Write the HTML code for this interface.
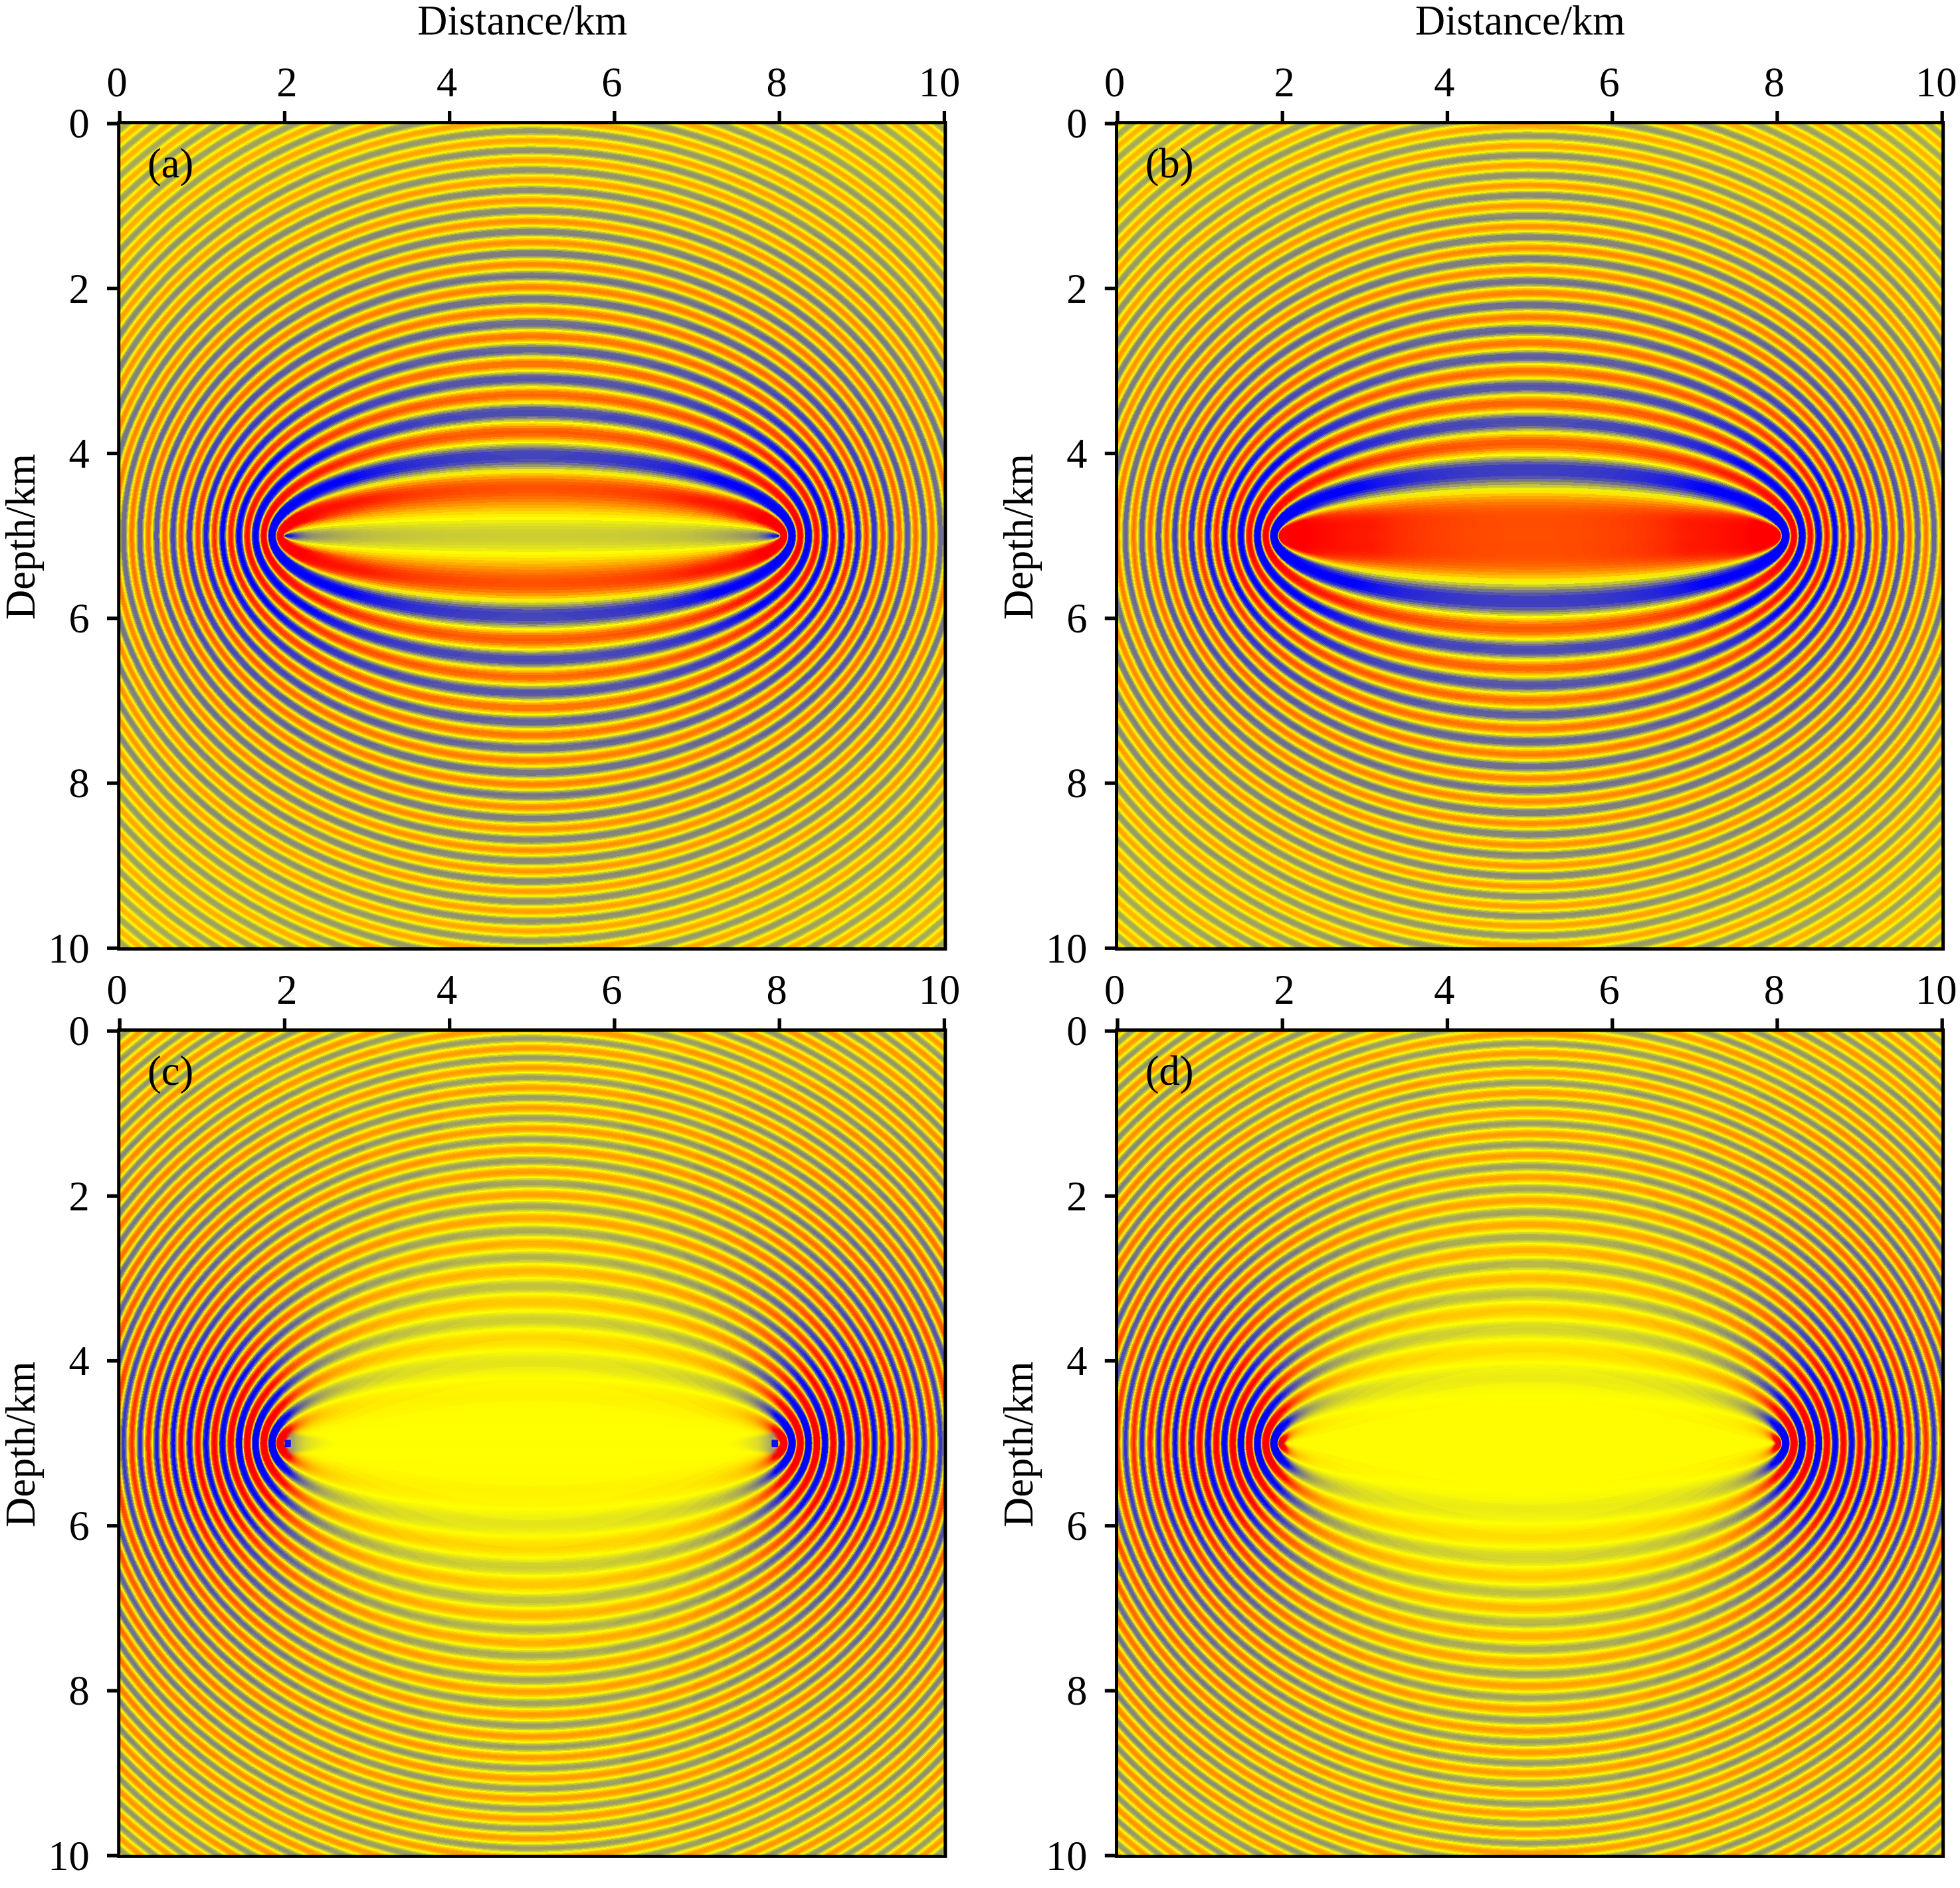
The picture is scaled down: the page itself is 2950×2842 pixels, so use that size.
<!DOCTYPE html>
<html><head><meta charset="utf-8"><title>Figure</title>
<style>html,body{margin:0;padding:0;background:#fff}svg{display:block}</style></head>
<body>
<svg width="2950" height="2842" viewBox="0 0 2950 2842">
<rect width="2950" height="2842" fill="#fff"/>
<defs>
<clipPath id="box"><rect width="10" height="10"/></clipPath>
<linearGradient id="wg1" gradientUnits="userSpaceOnUse" x1="2.05" y1="0" x2="2.62" y2="0"><stop offset="0" stop-color="#7878a0" stop-opacity=".8"/><stop offset=".35" stop-color="#b4b45a" stop-opacity=".5"/><stop offset="1" stop-color="#e0e020" stop-opacity="0"/></linearGradient>
<linearGradient id="wg2" gradientUnits="userSpaceOnUse" x1="7.95" y1="0" x2="7.38" y2="0"><stop offset="0" stop-color="#7878a0" stop-opacity=".8"/><stop offset=".35" stop-color="#b4b45a" stop-opacity=".5"/><stop offset="1" stop-color="#e0e020" stop-opacity="0"/></linearGradient>
<filter id="bm" filterUnits="userSpaceOnUse" x="1.9" y="4.7" width="6.2" height=".6"><feGaussianBlur stdDeviation=".02"/></filter>
<g id="sA0" shape-rendering="crispEdges"><ellipse rx="7.5" ry="6.8739" fill="#ffed00"/><ellipse rx="7.4987" ry="6.8725" fill="#ffce00"/><ellipse rx="7.492" ry="6.8651" fill="#ff9a00"/><ellipse rx="7.4845" ry="6.8569" fill="#ff6600"/><ellipse rx="7.4755" ry="6.8471" fill="#ff2700"/><ellipse rx="7.4432" ry="6.8119" fill="#ff4100"/><ellipse rx="7.431" ry="6.7985" fill="#ff7700"/><ellipse rx="7.4225" ry="6.7892" fill="#ffab00"/><ellipse rx="7.4152" ry="6.7813" fill="#ffe000"/><ellipse rx="7.4085" ry="6.7739" fill="#e9e916"/><ellipse rx="7.402" ry="6.7668" fill="#b5b54a"/><ellipse rx="7.3952" ry="6.7594" fill="#80807f"/><ellipse rx="7.3882" ry="6.7518" fill="#4d4db2"/><ellipse rx="7.3802" ry="6.743" fill="#1515ea"/><ellipse rx="7.3675" ry="6.729" fill="#0202fd"/><ellipse rx="7.3355" ry="6.694" fill="#2c2cd3"/><ellipse rx="7.326" ry="6.6836" fill="#61619e"/><ellipse rx="7.3185" ry="6.6754" fill="#94946b"/><ellipse rx="7.3117" ry="6.668" fill="#c8c837"/><ellipse rx="7.3052" ry="6.6608" fill="#fcfc03"/><ellipse rx="7.2987" ry="6.6537" fill="#ffce00"/><ellipse rx="7.292" ry="6.6463" fill="#ff9a00"/><ellipse rx="7.2845" ry="6.6381" fill="#ff6500"/><ellipse rx="7.2752" ry="6.6279" fill="#ff2700"/><ellipse rx="7.2432" ry="6.5928" fill="#ff4100"/><ellipse rx="7.231" ry="6.5793" fill="#ff7700"/><ellipse rx="7.2225" ry="6.57" fill="#ffab00"/><ellipse rx="7.2152" ry="6.562" fill="#ffe000"/><ellipse rx="7.2085" ry="6.5546" fill="#e9e916"/><ellipse rx="7.202" ry="6.5474" fill="#b5b54a"/><ellipse rx="7.1952" ry="6.54" fill="#80807f"/><ellipse rx="7.1882" ry="6.5323" fill="#4d4db2"/><ellipse rx="7.1802" ry="6.5235" fill="#1414eb"/><ellipse rx="7.167" ry="6.5089" fill="#0202fd"/><ellipse rx="7.135" ry="6.4737" fill="#2e2ed1"/><ellipse rx="7.1257" ry="6.4635" fill="#62629d"/><ellipse rx="7.1182" ry="6.4552" fill="#969669"/><ellipse rx="7.1115" ry="6.4477" fill="#caca35"/><ellipse rx="7.105" ry="6.4406" fill="#fefe01"/><ellipse rx="7.0985" ry="6.4334" fill="#ffcd00"/><ellipse rx="7.0917" ry="6.426" fill="#ff9900"/><ellipse rx="7.0842" ry="6.4177" fill="#ff6400"/><ellipse rx="7.075" ry="6.4075" fill="#ff2600"/><ellipse rx="7.0432" ry="6.3724" fill="#ff4100"/><ellipse rx="7.031" ry="6.3588" fill="#ff7700"/><ellipse rx="7.0225" ry="6.3494" fill="#ffab00"/><ellipse rx="7.0152" ry="6.3414" fill="#ffe000"/><ellipse rx="7.0085" ry="6.334" fill="#e9e916"/><ellipse rx="7.002" ry="6.3268" fill="#b5b54a"/><ellipse rx="6.9952" ry="6.3193" fill="#80807f"/><ellipse rx="6.9882" ry="6.3115" fill="#4d4db2"/><ellipse rx="6.9802" ry="6.3027" fill="#1313ec"/><ellipse rx="6.9665" ry="6.2875" fill="#0202fd"/><ellipse rx="6.9347" ry="6.2523" fill="#3030cf"/><ellipse rx="6.9255" ry="6.242" fill="#64649b"/><ellipse rx="6.918" ry="6.2337" fill="#989867"/><ellipse rx="6.9112" ry="6.2262" fill="#cccc33"/><ellipse rx="6.9047" ry="6.219" fill="#fffe00"/><ellipse rx="6.8982" ry="6.2118" fill="#ffcb00"/><ellipse rx="6.8915" ry="6.2043" fill="#ff9700"/><ellipse rx="6.884" ry="6.1959" fill="#ff6300"/><ellipse rx="6.8747" ry="6.1856" fill="#ff2600"/><ellipse rx="6.8432" ry="6.1506" fill="#ff4100"/><ellipse rx="6.831" ry="6.137" fill="#ff7700"/><ellipse rx="6.8225" ry="6.1275" fill="#ffab00"/><ellipse rx="6.8152" ry="6.1194" fill="#ffe000"/><ellipse rx="6.8085" ry="6.1119" fill="#e9e916"/><ellipse rx="6.802" ry="6.1047" fill="#b5b54a"/><ellipse rx="6.7952" ry="6.0972" fill="#80807f"/><ellipse rx="6.7882" ry="6.0894" fill="#4d4db2"/><ellipse rx="6.7802" ry="6.0804" fill="#1313ec"/><ellipse rx="6.766" ry="6.0645" fill="#0202fd"/><ellipse rx="6.7345" ry="6.0294" fill="#3131ce"/><ellipse rx="6.7252" ry="6.0191" fill="#666699"/><ellipse rx="6.7177" ry="6.0107" fill="#9a9a65"/><ellipse rx="6.711" ry="6.0031" fill="#cece31"/><ellipse rx="6.7045" ry="5.9959" fill="#fffc00"/><ellipse rx="6.698" ry="5.9886" fill="#ffc900"/><ellipse rx="6.6912" ry="5.981" fill="#ff9500"/><ellipse rx="6.6837" ry="5.9726" fill="#ff6100"/><ellipse rx="6.6745" ry="5.9623" fill="#ff2600"/><ellipse rx="6.6432" ry="5.9273" fill="#ff4100"/><ellipse rx="6.631" ry="5.9136" fill="#ff7700"/><ellipse rx="6.6225" ry="5.904" fill="#ffab00"/><ellipse rx="6.6152" ry="5.8959" fill="#ffe000"/><ellipse rx="6.6085" ry="5.8883" fill="#e9e916"/><ellipse rx="6.602" ry="5.881" fill="#b5b54a"/><ellipse rx="6.5952" ry="5.8734" fill="#80807f"/><ellipse rx="6.5882" ry="5.8656" fill="#4d4db2"/><ellipse rx="6.5802" ry="5.8566" fill="#1212ed"/><ellipse rx="6.5657" ry="5.8403" fill="#0202fd"/><ellipse rx="6.5345" ry="5.8051" fill="#3131ce"/><ellipse rx="6.5252" ry="5.7947" fill="#666699"/><ellipse rx="6.5177" ry="5.7863" fill="#9a9a65"/><ellipse rx="6.511" ry="5.7787" fill="#cece31"/><ellipse rx="6.5045" ry="5.7714" fill="#fffc00"/><ellipse rx="6.498" ry="5.764" fill="#ffc900"/><ellipse rx="6.4912" ry="5.7564" fill="#ff9500"/><ellipse rx="6.4837" ry="5.748" fill="#ff6100"/><ellipse rx="6.4742" ry="5.7372" fill="#ff2600"/><ellipse rx="6.4432" ry="5.7022" fill="#ff4100"/><ellipse rx="6.431" ry="5.6884" fill="#ff7700"/><ellipse rx="6.4225" ry="5.6788" fill="#ffab00"/><ellipse rx="6.4152" ry="5.6706" fill="#ffe000"/><ellipse rx="6.4085" ry="5.6629" fill="#e9e916"/><ellipse rx="6.402" ry="5.6556" fill="#b5b54a"/><ellipse rx="6.3952" ry="5.6479" fill="#80807f"/><ellipse rx="6.3882" ry="5.64" fill="#4d4db2"/><ellipse rx="6.3802" ry="5.6309" fill="#1212ed"/><ellipse rx="6.365" ry="5.6137" fill="#0303fc"/><ellipse rx="6.334" ry="5.5785" fill="#3333cc"/><ellipse rx="6.325" ry="5.5683" fill="#686897"/><ellipse rx="6.3175" ry="5.5597" fill="#9c9c63"/><ellipse rx="6.3107" ry="5.5521" fill="#d0d02f"/><ellipse rx="6.3042" ry="5.5447" fill="#fffa00"/><ellipse rx="6.2977" ry="5.5373" fill="#ffc700"/><ellipse rx="6.291" ry="5.5296" fill="#ff9300"/><ellipse rx="6.2835" ry="5.5211" fill="#ff5f00"/><ellipse rx="6.274" ry="5.5103" fill="#ff2500"/><ellipse rx="6.2432" ry="5.4752" fill="#ff4100"/><ellipse rx="6.231" ry="5.4613" fill="#ff7700"/><ellipse rx="6.2225" ry="5.4516" fill="#ffab00"/><ellipse rx="6.2152" ry="5.4433" fill="#ffe000"/><ellipse rx="6.2085" ry="5.4356" fill="#e9e916"/><ellipse rx="6.202" ry="5.4281" fill="#b5b54a"/><ellipse rx="6.1952" ry="5.4204" fill="#80807f"/><ellipse rx="6.1882" ry="5.4124" fill="#4d4db2"/><ellipse rx="6.1802" ry="5.4033" fill="#1111ee"/><ellipse rx="6.1647" ry="5.3855" fill="#0303fc"/><ellipse rx="6.134" ry="5.3503" fill="#3333cc"/><ellipse rx="6.125" ry="5.34" fill="#686897"/><ellipse rx="6.1175" ry="5.3314" fill="#9c9c63"/><ellipse rx="6.1107" ry="5.3237" fill="#d0d02f"/><ellipse rx="6.1042" ry="5.3162" fill="#fffa00"/><ellipse rx="6.0977" ry="5.3087" fill="#ffc700"/><ellipse rx="6.091" ry="5.301" fill="#ff9300"/><ellipse rx="6.0832" ry="5.2921" fill="#ff5e00"/><ellipse rx="6.0737" ry="5.2811" fill="#ff2500"/><ellipse rx="6.0432" ry="5.246" fill="#ff4100"/><ellipse rx="6.031" ry="5.2319" fill="#ff7700"/><ellipse rx="6.0225" ry="5.2221" fill="#ffab00"/><ellipse rx="6.0152" ry="5.2138" fill="#ffe000"/><ellipse rx="6.0085" ry="5.206" fill="#e9e916"/><ellipse rx="6.002" ry="5.1985" fill="#b5b54a"/><ellipse rx="5.9952" ry="5.1907" fill="#80807f"/><ellipse rx="5.9882" ry="5.1826" fill="#4d4db2"/><ellipse rx="5.9802" ry="5.1733" fill="#1111ee"/><ellipse rx="5.9642" ry="5.1548" fill="#0303fc"/><ellipse rx="5.934" ry="5.1198" fill="#3333cc"/><ellipse rx="5.925" ry="5.1094" fill="#686897"/><ellipse rx="5.9175" ry="5.1007" fill="#9c9c63"/><ellipse rx="5.9107" ry="5.0928" fill="#d0d02f"/><ellipse rx="5.9042" ry="5.0853" fill="#fffa00"/><ellipse rx="5.8977" ry="5.0777" fill="#ffc700"/><ellipse rx="5.891" ry="5.0699" fill="#ff9300"/><ellipse rx="5.8832" ry="5.0609" fill="#ff5d00"/><ellipse rx="5.8735" ry="5.0496" fill="#ff2500"/><ellipse rx="5.8432" ry="5.0143" fill="#ff4100"/><ellipse rx="5.831" ry="5.0001" fill="#ff7700"/><ellipse rx="5.8225" ry="4.9901" fill="#ffab00"/><ellipse rx="5.8152" ry="4.9817" fill="#ffe000"/><ellipse rx="5.8085" ry="4.9738" fill="#e9e916"/><ellipse rx="5.802" ry="4.9662" fill="#b5b54a"/><ellipse rx="5.7952" ry="4.9583" fill="#80807f"/><ellipse rx="5.7882" ry="4.9501" fill="#4d4db2"/><ellipse rx="5.7802" ry="4.9408" fill="#1010ef"/><ellipse rx="5.7637" ry="4.9215" fill="#0303fc"/><ellipse rx="5.7337" ry="4.8863" fill="#3535ca"/><ellipse rx="5.7247" ry="4.8757" fill="#696996"/><ellipse rx="5.7172" ry="4.8669" fill="#9e9e61"/><ellipse rx="5.7105" ry="4.859" fill="#d2d22d"/><ellipse rx="5.704" ry="4.8514" fill="#fff800"/><ellipse rx="5.6975" ry="4.8437" fill="#ffc400"/><ellipse rx="5.6905" ry="4.8355" fill="#ff8f00"/><ellipse rx="5.6827" ry="4.8263" fill="#ff5b00"/><ellipse rx="5.673" ry="4.8149" fill="#ff2400"/><ellipse rx="5.6432" ry="4.7798" fill="#ff4100"/><ellipse rx="5.631" ry="4.7653" fill="#ff7700"/><ellipse rx="5.6225" ry="4.7553" fill="#ffab00"/><ellipse rx="5.6152" ry="4.7467" fill="#ffe000"/><ellipse rx="5.6085" ry="4.7387" fill="#e9e916"/><ellipse rx="5.602" ry="4.731" fill="#b5b54a"/><ellipse rx="5.5952" ry="4.723" fill="#80807f"/><ellipse rx="5.5882" ry="4.7147" fill="#4d4db2"/><ellipse rx="5.5802" ry="4.7052" fill="#1010ef"/><ellipse rx="5.563" ry="4.6848" fill="#0303fc"/><ellipse rx="5.5335" ry="4.6497" fill="#3636c9"/><ellipse rx="5.5245" ry="4.639" fill="#6b6b94"/><ellipse rx="5.517" ry="4.63" fill="#a0a05f"/><ellipse rx="5.5102" ry="4.622" fill="#d4d42b"/><ellipse rx="5.5037" ry="4.6142" fill="#fff600"/><ellipse rx="5.4972" ry="4.6065" fill="#ffc200"/><ellipse rx="5.4902" ry="4.5981" fill="#ff8e00"/><ellipse rx="5.4825" ry="4.5889" fill="#ff5900"/><ellipse rx="5.4725" ry="4.5769" fill="#ff2400"/><ellipse rx="5.4432" ry="4.5419" fill="#ff4100"/><ellipse rx="5.431" ry="4.5272" fill="#ff7700"/><ellipse rx="5.4225" ry="4.517" fill="#ffab00"/><ellipse rx="5.4152" ry="4.5083" fill="#ffe000"/><ellipse rx="5.4085" ry="4.5002" fill="#e9e916"/><ellipse rx="5.402" ry="4.4924" fill="#b5b54a"/><ellipse rx="5.3952" ry="4.4843" fill="#80807f"/><ellipse rx="5.3882" ry="4.4759" fill="#4d4db2"/><ellipse rx="5.3802" ry="4.4662" fill="#0e0ef1"/><ellipse rx="5.3615" ry="4.4436" fill="#0505fa"/><ellipse rx="5.3325" ry="4.4086" fill="#3b3bc4"/><ellipse rx="5.3237" ry="4.398" fill="#70708f"/><ellipse rx="5.3165" ry="4.3892" fill="#a4a45b"/><ellipse rx="5.3097" ry="4.381" fill="#d8d827"/><ellipse rx="5.3032" ry="4.3732" fill="#fff200"/><ellipse rx="5.2967" ry="4.3653" fill="#ffbe00"/><ellipse rx="5.2897" ry="4.3568" fill="#ff8a00"/><ellipse rx="5.282" ry="4.3474" fill="#ff5600"/><ellipse rx="5.272" ry="4.3352" fill="#ff2300"/><ellipse rx="5.2432" ry="4.3002" fill="#ff4100"/><ellipse rx="5.231" ry="4.2852" fill="#ff7700"/><ellipse rx="5.2225" ry="4.2749" fill="#ffab00"/><ellipse rx="5.2152" ry="4.266" fill="#ffe000"/><ellipse rx="5.2085" ry="4.2578" fill="#e9e916"/><ellipse rx="5.202" ry="4.2498" fill="#b5b54a"/><ellipse rx="5.1952" ry="4.2415" fill="#80807f"/><ellipse rx="5.1882" ry="4.233" fill="#4d4db2"/><ellipse rx="5.1802" ry="4.2231" fill="#0e0ef1"/><ellipse rx="5.1607" ry="4.1992" fill="#0505fa"/><ellipse rx="5.1322" ry="4.1641" fill="#3d3dc2"/><ellipse rx="5.1235" ry="4.1533" fill="#71718e"/><ellipse rx="5.1162" ry="4.1444" fill="#a5a55a"/><ellipse rx="5.1095" ry="4.1361" fill="#dada25"/><ellipse rx="5.103" ry="4.128" fill="#fff000"/><ellipse rx="5.0965" ry="4.12" fill="#ffbd00"/><ellipse rx="5.0895" ry="4.1113" fill="#ff8900"/><ellipse rx="5.0817" ry="4.1017" fill="#ff5400"/><ellipse rx="5.0715" ry="4.089" fill="#ff2300"/><ellipse rx="5.0432" ry="4.0539" fill="#ff4100"/><ellipse rx="5.031" ry="4.0387" fill="#ff7700"/><ellipse rx="5.0225" ry="4.0281" fill="#ffab00"/><ellipse rx="5.0152" ry="4.019" fill="#ffe000"/><ellipse rx="5.0085" ry="4.0106" fill="#e9e916"/><ellipse rx="5.002" ry="4.0025" fill="#b5b54a"/><ellipse rx="4.9952" ry="3.9941" fill="#80807f"/><ellipse rx="4.9882" ry="3.9853" fill="#4d4db2"/><ellipse rx="4.9802" ry="3.9753" fill="#0d0df2"/><ellipse rx="4.9602" ry="3.9502" fill="#0505fa"/><ellipse rx="4.9322" ry="3.915" fill="#3d3dc2"/><ellipse rx="4.9235" ry="3.904" fill="#71718e"/><ellipse rx="4.9162" ry="3.8948" fill="#a5a55a"/><ellipse rx="4.9095" ry="3.8863" fill="#dada25"/><ellipse rx="4.903" ry="3.8781" fill="#fff000"/><ellipse rx="4.8965" ry="3.8698" fill="#ffbd00"/><ellipse rx="4.8895" ry="3.861" fill="#ff8800"/><ellipse rx="4.8815" ry="3.8508" fill="#ff5200"/><ellipse rx="4.871" ry="3.8375" fill="#ff2200"/><ellipse rx="4.8432" ry="3.8022" fill="#ff4100"/><ellipse rx="4.831" ry="3.7866" fill="#ff7700"/><ellipse rx="4.8225" ry="3.7758" fill="#ffab00"/><ellipse rx="4.8152" ry="3.7665" fill="#ffe000"/><ellipse rx="4.8085" ry="3.7579" fill="#e9e916"/><ellipse rx="4.802" ry="3.7496" fill="#b5b54a"/><ellipse rx="4.7952" ry="3.7409" fill="#80807f"/><ellipse rx="4.7882" ry="3.7319" fill="#4d4db2"/><ellipse rx="4.7802" ry="3.7217" fill="#0c0cf3"/><ellipse rx="4.7587" ry="3.694" fill="#0606f9"/><ellipse rx="4.7315" ry="3.6588" fill="#4141be"/><ellipse rx="4.723" ry="3.6478" fill="#75758a"/><ellipse rx="4.7157" ry="3.6384" fill="#a9a956"/><ellipse rx="4.709" ry="3.6297" fill="#dede21"/><ellipse rx="4.7025" ry="3.6213" fill="#ffed00"/><ellipse rx="4.696" ry="3.6128" fill="#ffb900"/><ellipse rx="4.689" ry="3.6037" fill="#ff8400"/><ellipse rx="4.681" ry="3.5933" fill="#ff4f00"/><ellipse rx="4.6702" ry="3.5793" fill="#ff2200"/><ellipse rx="4.6432" ry="3.544" fill="#ff4100"/><ellipse rx="4.631" ry="3.5279" fill="#ff7700"/><ellipse rx="4.6225" ry="3.5167" fill="#ffab00"/><ellipse rx="4.6152" ry="3.5072" fill="#ffe000"/><ellipse rx="4.6085" ry="3.4983" fill="#e9e916"/><ellipse rx="4.602" ry="3.4898" fill="#b5b54a"/><ellipse rx="4.5952" ry="3.4809" fill="#80807f"/><ellipse rx="4.5882" ry="3.4716" fill="#4d4db2"/><ellipse rx="4.5802" ry="3.461" fill="#0c0cf3"/><ellipse rx="4.5575" ry="3.4309" fill="#0707f8"/><ellipse rx="4.531" ry="3.3956" fill="#4444bb"/><ellipse rx="4.5225" ry="3.3842" fill="#787887"/><ellipse rx="4.5152" ry="3.3745" fill="#adad52"/><ellipse rx="4.5085" ry="3.3655" fill="#e2e21d"/><ellipse rx="4.502" ry="3.3568" fill="#ffe800"/><ellipse rx="4.4952" ry="3.3477" fill="#ffb300"/><ellipse rx="4.4882" ry="3.3383" fill="#ff8000"/><ellipse rx="4.4802" ry="3.3276" fill="#ff4b00"/><ellipse rx="4.4692" ry="3.3127" fill="#ff2100"/><ellipse rx="4.4432" ry="3.2776" fill="#ff4100"/><ellipse rx="4.431" ry="3.2609" fill="#ff7700"/><ellipse rx="4.4225" ry="3.2494" fill="#ffab00"/><ellipse rx="4.4152" ry="3.2395" fill="#ffe000"/><ellipse rx="4.4085" ry="3.2303" fill="#e9e916"/><ellipse rx="4.402" ry="3.2214" fill="#b5b54a"/><ellipse rx="4.3952" ry="3.2122" fill="#80807f"/><ellipse rx="4.3882" ry="3.2026" fill="#4d4db2"/><ellipse rx="4.3802" ry="3.1916" fill="#1111ee"/><ellipse rx="4.3642" ry="3.1696" fill="#0000ff"/><ellipse rx="4.3387" ry="3.1344" fill="#1e1ee1"/><ellipse rx="4.3282" ry="3.1199" fill="#5353ac"/><ellipse rx="4.3202" ry="3.1088" fill="#888877"/><ellipse rx="4.3132" ry="3.0991" fill="#bcbc43"/><ellipse rx="4.3067" ry="3.09" fill="#f0f00f"/><ellipse rx="4.3002" ry="3.0809" fill="#ffda00"/><ellipse rx="4.2935" ry="3.0715" fill="#ffa600"/><ellipse rx="4.2862" ry="3.0614" fill="#ff7200"/><ellipse rx="4.2777" ry="3.0494" fill="#ff3c00"/><ellipse rx="4.2647" ry="3.0312" fill="#ff2100"/><ellipse rx="4.2397" ry="2.9959" fill="#ff4d00"/><ellipse rx="4.229" ry="2.9807" fill="#ff8200"/><ellipse rx="4.221" ry="2.9693" fill="#ffb500"/><ellipse rx="4.214" ry="2.9594" fill="#ffe900"/><ellipse rx="4.2075" ry="2.9501" fill="#e1e11e"/><ellipse rx="4.201" ry="2.9408" fill="#adad52"/><ellipse rx="4.1942" ry="2.9312" fill="#787887"/><ellipse rx="4.187" ry="2.9208" fill="#4343bc"/><ellipse rx="4.1785" ry="2.9086" fill="#0808f7"/><ellipse rx="4.154" ry="2.8733" fill="#0a0af5"/><ellipse rx="4.1297" ry="2.8381" fill="#4b4bb4"/><ellipse rx="4.1215" ry="2.8261" fill="#7f7f80"/><ellipse rx="4.1145" ry="2.8159" fill="#b3b34c"/><ellipse rx="4.1077" ry="2.806" fill="#e8e817"/><ellipse rx="4.1012" ry="2.7965" fill="#ffe200"/><ellipse rx="4.0945" ry="2.7866" fill="#ffad00"/><ellipse rx="4.0872" ry="2.7759" fill="#ff7900"/><ellipse rx="4.079" ry="2.7637" fill="#ff4300"/><ellipse rx="4.067" ry="2.746" fill="#ff2000"/><ellipse rx="4.0432" ry="2.7107" fill="#ff4100"/><ellipse rx="4.031" ry="2.6924" fill="#ff7700"/><ellipse rx="4.0225" ry="2.6796" fill="#ffab00"/><ellipse rx="4.0152" ry="2.6688" fill="#ffe000"/><ellipse rx="4.0085" ry="2.6586" fill="#e9e916"/><ellipse rx="4.002" ry="2.6488" fill="#b5b54a"/><ellipse rx="3.9952" ry="2.6386" fill="#80807f"/><ellipse rx="3.9882" ry="2.628" fill="#4d4db2"/><ellipse rx="3.9802" ry="2.6158" fill="#0d0df2"/><ellipse rx="3.9602" ry="2.5853" fill="#0101fe"/><ellipse rx="3.9372" ry="2.5499" fill="#2525da"/><ellipse rx="3.9272" ry="2.5344" fill="#5959a6"/><ellipse rx="3.9195" ry="2.5224" fill="#8e8e71"/><ellipse rx="3.9125" ry="2.5115" fill="#c2c23d"/><ellipse rx="3.906" ry="2.5014" fill="#f6f609"/><ellipse rx="3.8995" ry="2.4912" fill="#ffd400"/><ellipse rx="3.8927" ry="2.4806" fill="#ffa000"/><ellipse rx="3.8852" ry="2.4688" fill="#ff6a00"/><ellipse rx="3.8762" ry="2.4547" fill="#ff3300"/><ellipse rx="3.8607" ry="2.4301" fill="#ff2200"/><ellipse rx="3.8387" ry="2.395" fill="#ff5100"/><ellipse rx="3.8282" ry="2.3781" fill="#ff8600"/><ellipse rx="3.8202" ry="2.3652" fill="#ffbb00"/><ellipse rx="3.8132" ry="2.3539" fill="#ffef00"/><ellipse rx="3.8067" ry="2.3434" fill="#dbdb24"/><ellipse rx="3.8002" ry="2.3328" fill="#a7a758"/><ellipse rx="3.7935" ry="2.3218" fill="#73738c"/><ellipse rx="3.7862" ry="2.3099" fill="#3f3fc0"/><ellipse rx="3.7777" ry="2.296" fill="#0707f8"/><ellipse rx="3.7565" ry="2.2608" fill="#0202fd"/><ellipse rx="3.7355" ry="2.2257" fill="#2c2cd3"/><ellipse rx="3.726" ry="2.2098" fill="#61619e"/><ellipse rx="3.7185" ry="2.1971" fill="#94946b"/><ellipse rx="3.7117" ry="2.1857" fill="#c8c837"/><ellipse rx="3.7052" ry="2.1746" fill="#fcfc03"/><ellipse rx="3.6987" ry="2.1635" fill="#ffce00"/><ellipse rx="3.692" ry="2.1519" fill="#ff9a00"/><ellipse rx="3.6845" ry="2.1391" fill="#ff6500"/><ellipse rx="3.6752" ry="2.1231" fill="#ff2b00"/><ellipse rx="3.655" ry="2.0878" fill="#ff2a00"/><ellipse rx="3.635" ry="2.0526" fill="#ff6100"/><ellipse rx="3.6257" ry="2.0362" fill="#ff9500"/><ellipse rx="3.6182" ry="2.0228" fill="#ffc900"/><ellipse rx="3.6115" ry="2.0107" fill="#fffd00"/><ellipse rx="3.605" ry="1.999" fill="#cdcd32"/><ellipse rx="3.5985" ry="1.9873" fill="#9a9a65"/><ellipse rx="3.5917" ry="1.975" fill="#666699"/><ellipse rx="3.5842" ry="1.9613" fill="#3131ce"/><ellipse rx="3.575" ry="1.9444" fill="#0404fb"/><ellipse rx="3.556" ry="1.9092" fill="#0101fe"/><ellipse rx="3.5372" ry="1.8741" fill="#2525da"/><ellipse rx="3.5272" ry="1.8551" fill="#5959a6"/><ellipse rx="3.5195" ry="1.8403" fill="#8e8e71"/><ellipse rx="3.5125" ry="1.8269" fill="#c2c23d"/><ellipse rx="3.506" ry="1.8144" fill="#f6f609"/><ellipse rx="3.4995" ry="1.8018" fill="#ffd400"/><ellipse rx="3.4927" ry="1.7887" fill="#ffa000"/><ellipse rx="3.4852" ry="1.774" fill="#ff6a00"/><ellipse rx="3.4762" ry="1.7562" fill="#ff3300"/><ellipse rx="3.4607" ry="1.7253" fill="#ff1e00"/><ellipse rx="3.4432" ry="1.69" fill="#ff4100"/><ellipse rx="3.431" ry="1.6649" fill="#ff7700"/><ellipse rx="3.4225" ry="1.6473" fill="#ffab00"/><ellipse rx="3.4152" ry="1.6322" fill="#ffe000"/><ellipse rx="3.4085" ry="1.618" fill="#e9e916"/><ellipse rx="3.402" ry="1.6042" fill="#b5b54a"/><ellipse rx="3.3952" ry="1.5899" fill="#80807f"/><ellipse rx="3.3882" ry="1.5749" fill="#4d4db2"/><ellipse rx="3.3802" ry="1.5576" fill="#1313ec"/><ellipse rx="3.3662" ry="1.527" fill="#0000ff"/><ellipse rx="3.3505" ry="1.4919" fill="#0404fb"/><ellipse rx="3.335" ry="1.4568" fill="#2e2ed1"/><ellipse rx="3.3257" ry="1.4355" fill="#62629d"/><ellipse rx="3.3182" ry="1.418" fill="#969669"/><ellipse rx="3.3115" ry="1.4022" fill="#caca35"/><ellipse rx="3.305" ry="1.3867" fill="#fefe01"/><ellipse rx="3.2985" ry="1.3712" fill="#ffcd00"/><ellipse rx="3.2917" ry="1.3548" fill="#ff9900"/><ellipse rx="3.2842" ry="1.3365" fill="#ff6400"/><ellipse rx="3.275" ry="1.3136" fill="#ff3100"/><ellipse rx="3.261" ry="1.2783" fill="#ff1c00"/><ellipse rx="3.2472" ry="1.2428" fill="#ff3400"/><ellipse rx="3.234" ry="1.2078" fill="#ff6600"/><ellipse rx="3.225" ry="1.1835" fill="#ff9b00"/><ellipse rx="3.2175" ry="1.1629" fill="#ffcf00"/><ellipse rx="3.2107" ry="1.1441" fill="#fbfb04"/><ellipse rx="3.2042" ry="1.1257" fill="#c7c738"/><ellipse rx="3.1977" ry="1.1071" fill="#94946b"/><ellipse rx="3.191" ry="1.0874" fill="#60609f"/><ellipse rx="3.1832" ry="1.0645" fill="#2b2bd4"/><ellipse rx="3.1737" ry="1.0357" fill="#0404fb"/><ellipse rx="3.1625" ry="1.0007" fill="#0000ff"/><ellipse rx="3.1515" ry=".9654" fill="#0000ff"/><ellipse rx="3.1407" ry=".9297" fill="#1414eb"/><ellipse rx="3.1305" ry=".8944" fill="#4646b9"/><ellipse rx="3.1222" ry=".8651" fill="#7a7a85"/><ellipse rx="3.115" ry=".8386" fill="#afaf50"/><ellipse rx="3.1082" ry=".8132" fill="#e4e41b"/><ellipse rx="3.1017" ry=".7879" fill="#ffe600"/><ellipse rx="3.095" ry=".7609" fill="#ffb100"/><ellipse rx="3.088" ry=".7319" fill="#ff7d00"/><ellipse rx="3.0797" ry=".6963" fill="#ff5000"/><ellipse rx="3.072" ry=".6612" fill="#ff3100"/><ellipse rx="3.0645" ry=".6254" fill="#ff1f00"/><ellipse rx="3.0575" ry=".5902" fill="#ff1a00"/><ellipse rx="3.0507" ry=".5541" fill="#ff2000"/><ellipse rx="3.0445" ry=".5186" fill="#ff3000"/><ellipse rx="3.0385" ry=".4822" fill="#ff4600"/><ellipse rx="3.033" ry=".4462" fill="#ff6000"/><ellipse rx="3.028" ry=".4108" fill="#ff7d00"/><ellipse rx="3.0232" ry=".3742" fill="#ff9b00"/><ellipse rx="3.019" ry=".3382" fill="#ffb800"/><ellipse rx="3.0152" ry=".3029" fill="#ffd400"/><ellipse rx="3.0117" ry=".2658" fill="#ffed00"/><ellipse rx="3.0087" ry=".2293" fill="#fbfb04"/><ellipse rx="3.0062" ry=".1937" fill="#e8e817"/><ellipse rx="3.004" ry=".155" fill="#d8d827"/><ellipse rx="3.0022" ry=".1162" fill="#cccc33"/><ellipse rx="3.001" ry=".0775" fill="#c4c43b"/><ellipse rx="3.0002" ry=".0387" fill="#c0c03f"/></g>
<g id="sA1" shape-rendering="crispEdges"><ellipse rx="4.5002" ry="3.3544" fill="#ffdf00"/><ellipse rx="4.4985" ry="3.3521" fill="#ffb900"/><ellipse rx="4.4947" ry="3.3471" fill="#ff8400"/><ellipse rx="4.4907" ry="3.3417" fill="#ff4e00"/><ellipse rx="4.4865" ry="3.336" fill="#ff0c00"/><ellipse rx="4.4765" ry="3.3225" fill="#ff0000"/><ellipse rx="4.4505" ry="3.2874" fill="#ff0200"/><ellipse rx="4.4245" ry="3.2521" fill="#ff3c00"/><ellipse rx="4.4202" ry="3.2463" fill="#ff7000"/><ellipse rx="4.4162" ry="3.2409" fill="#ffa500"/><ellipse rx="4.4125" ry="3.2358" fill="#ffd900"/><ellipse rx="4.4087" ry="3.2306" fill="#efef10"/><ellipse rx="4.405" ry="3.2255" fill="#b9b946"/><ellipse rx="4.4012" ry="3.2204" fill="#84847b"/><ellipse rx="4.3975" ry="3.2153" fill="#4f4fb0"/><ellipse rx="4.3937" ry="3.2101" fill="#0404fb"/><ellipse rx="4.368" ry="3.1748" fill="#0000ff"/><ellipse rx="4.3425" ry="3.1396" fill="#0202fd"/><ellipse rx="4.3172" ry="3.1046" fill="#3b3bc4"/><ellipse rx="4.3135" ry="3.0994" fill="#6f6f90"/><ellipse rx="4.3097" ry="3.0942" fill="#a4a45b"/><ellipse rx="4.306" ry="3.089" fill="#dada25"/><ellipse rx="4.3022" ry="3.0837" fill="#ffee00"/><ellipse rx="4.2985" ry="3.0785" fill="#ffb900"/><ellipse rx="4.2947" ry="3.0733" fill="#ff8400"/><ellipse rx="4.2907" ry="3.0677" fill="#ff4e00"/><ellipse rx="4.2865" ry="3.0617" fill="#ff0a00"/><ellipse rx="4.2747" ry="3.0452" fill="#ff0000"/><ellipse rx="4.2497" ry="3.01" fill="#ff0200"/><ellipse rx="4.225" ry="2.975" fill="#ff3600"/><ellipse rx="4.2207" ry="2.969" fill="#ff6a00"/><ellipse rx="4.2167" ry="2.9633" fill="#ff9e00"/><ellipse rx="4.213" ry="2.9579" fill="#ffd200"/><ellipse rx="4.2092" ry="2.9526" fill="#f7f708"/><ellipse rx="4.2055" ry="2.9472" fill="#c1c13e"/><ellipse rx="4.2017" ry="2.9419" fill="#8b8b74"/><ellipse rx="4.198" ry="2.9365" fill="#5656a9"/><ellipse rx="4.1942" ry="2.9312" fill="#2121de"/><ellipse rx="4.1902" ry="2.9254" fill="#0000ff"/><ellipse rx="4.1657" ry="2.8902" fill="#0000ff"/><ellipse rx="4.1415" ry="2.8552" fill="#0202fd"/><ellipse rx="4.1172" ry="2.8199" fill="#3b3bc4"/><ellipse rx="4.1135" ry="2.8144" fill="#6f6f90"/><ellipse rx="4.1097" ry="2.8089" fill="#a4a45b"/><ellipse rx="4.106" ry="2.8034" fill="#dada25"/><ellipse rx="4.1022" ry="2.7979" fill="#ffee00"/><ellipse rx="4.0985" ry="2.7924" fill="#ffb900"/><ellipse rx="4.0947" ry="2.7869" fill="#ff8400"/><ellipse rx="4.0907" ry="2.781" fill="#ff4e00"/><ellipse rx="4.0865" ry="2.7748" fill="#ff0800"/><ellipse rx="4.0717" ry="2.753" fill="#ff0000"/><ellipse rx="4.048" ry="2.7178" fill="#ff0200"/><ellipse rx="4.0245" ry="2.6826" fill="#ff3c00"/><ellipse rx="4.0202" ry="2.6763" fill="#ff7000"/><ellipse rx="4.0162" ry="2.6703" fill="#ffa500"/><ellipse rx="4.0125" ry="2.6646" fill="#ffd900"/><ellipse rx="4.0087" ry="2.659" fill="#efef10"/><ellipse rx="4.005" ry="2.6533" fill="#b9b946"/><ellipse rx="4.0012" ry="2.6476" fill="#84847b"/><ellipse rx="3.9975" ry="2.642" fill="#4f4fb0"/><ellipse rx="3.9937" ry="2.6363" fill="#0e0ef1"/><ellipse rx="3.986" ry="2.6245" fill="#0000ff"/><ellipse rx="3.963" ry="2.5895" fill="#0000ff"/><ellipse rx="3.94" ry="2.5541" fill="#0202fd"/><ellipse rx="3.9172" ry="2.5189" fill="#3b3bc4"/><ellipse rx="3.9135" ry="2.5131" fill="#6f6f90"/><ellipse rx="3.9097" ry="2.5072" fill="#a4a45b"/><ellipse rx="3.906" ry="2.5014" fill="#dada25"/><ellipse rx="3.9022" ry="2.4955" fill="#ffee00"/><ellipse rx="3.8985" ry="2.4896" fill="#ffb900"/><ellipse rx="3.8947" ry="2.4838" fill="#ff8400"/><ellipse rx="3.8907" ry="2.4775" fill="#ff4e00"/><ellipse rx="3.8865" ry="2.4708" fill="#ff0700"/><ellipse rx="3.8687" ry="2.4428" fill="#ff0000"/><ellipse rx="3.8465" ry="2.4074" fill="#ff0300"/><ellipse rx="3.8245" ry="2.3721" fill="#ff3c00"/><ellipse rx="3.8202" ry="2.3652" fill="#ff7000"/><ellipse rx="3.8162" ry="2.3588" fill="#ffa500"/><ellipse rx="3.8125" ry="2.3527" fill="#ffd900"/><ellipse rx="3.8087" ry="2.3466" fill="#efef10"/><ellipse rx="3.805" ry="2.3405" fill="#b9b946"/><ellipse rx="3.8012" ry="2.3344" fill="#84847b"/><ellipse rx="3.7975" ry="2.3283" fill="#4f4fb0"/><ellipse rx="3.7937" ry="2.3222" fill="#0a0af5"/><ellipse rx="3.7822" ry="2.3033" fill="#0000ff"/><ellipse rx="3.761" ry="2.2683" fill="#0000ff"/><ellipse rx="3.7397" ry="2.2329" fill="#0000ff"/><ellipse rx="3.7187" ry="2.1975" fill="#2929d6"/><ellipse rx="3.7147" ry="2.1907" fill="#5e5ea1"/><ellipse rx="3.711" ry="2.1844" fill="#93936c"/><ellipse rx="3.7072" ry="2.178" fill="#c8c837"/><ellipse rx="3.7035" ry="2.1716" fill="#fefe01"/><ellipse rx="3.6997" ry="2.1652" fill="#ffca00"/><ellipse rx="3.696" ry="2.1588" fill="#ff9500"/><ellipse rx="3.692" ry="2.1519" fill="#ff6000"/><ellipse rx="3.688" ry="2.1451" fill="#ff2b00"/><ellipse rx="3.6835" ry="2.1373" fill="#ff0100"/><ellipse rx="3.6632" ry="2.1022" fill="#ff0000"/><ellipse rx="3.6432" ry="2.0672" fill="#ff0500"/><ellipse rx="3.6235" ry="2.0322" fill="#ff4800"/><ellipse rx="3.6192" ry="2.0246" fill="#ff7e00"/><ellipse rx="3.6152" ry="2.0174" fill="#ffb200"/><ellipse rx="3.6115" ry="2.0107" fill="#ffe700"/><ellipse rx="3.6077" ry="2.004" fill="#e1e11e"/><ellipse rx="3.604" ry="1.9972" fill="#abab54"/><ellipse rx="3.6002" ry="1.9904" fill="#75758a"/><ellipse rx="3.5965" ry="1.9836" fill="#4141be"/><ellipse rx="3.5927" ry="1.9768" fill="#0303fc"/><ellipse rx="3.5735" ry="1.9416" fill="#0000ff"/><ellipse rx="3.5545" ry="1.9064" fill="#0000ff"/><ellipse rx="3.5357" ry="1.8712" fill="#0303fc"/><ellipse rx="3.5172" ry="1.836" fill="#3b3bc4"/><ellipse rx="3.5135" ry="1.8288" fill="#6f6f90"/><ellipse rx="3.5097" ry="1.8216" fill="#a4a45b"/><ellipse rx="3.506" ry="1.8144" fill="#dada25"/><ellipse rx="3.5022" ry="1.8071" fill="#ffee00"/><ellipse rx="3.4985" ry="1.7999" fill="#ffb900"/><ellipse rx="3.4947" ry="1.7926" fill="#ff8400"/><ellipse rx="3.4907" ry="1.7848" fill="#ff4e00"/><ellipse rx="3.4865" ry="1.7764" fill="#ff0c00"/><ellipse rx="3.477" ry="1.7577" fill="#ff0000"/><ellipse rx="3.4592" ry="1.7223" fill="#ff0000"/><ellipse rx="3.4417" ry="1.6869" fill="#ff0300"/><ellipse rx="3.4245" ry="1.6514" fill="#ff3c00"/><ellipse rx="3.4202" ry="1.6426" fill="#ff7000"/><ellipse rx="3.4162" ry="1.6342" fill="#ffa500"/><ellipse rx="3.4125" ry="1.6264" fill="#ffd900"/><ellipse rx="3.4087" ry="1.6185" fill="#efef10"/><ellipse rx="3.405" ry="1.6106" fill="#b9b946"/><ellipse rx="3.4012" ry="1.6027" fill="#84847b"/><ellipse rx="3.3975" ry="1.5947" fill="#4f4fb0"/><ellipse rx="3.3937" ry="1.5867" fill="#0808f7"/><ellipse rx="3.3797" ry="1.5565" fill="#0000ff"/><ellipse rx="3.3637" ry="1.5215" fill="#0000ff"/><ellipse rx="3.348" ry="1.4863" fill="#0000ff"/><ellipse rx="3.3325" ry="1.4511" fill="#0303fc"/><ellipse rx="3.3172" ry="1.4157" fill="#3b3bc4"/><ellipse rx="3.3135" ry="1.4069" fill="#6f6f90"/><ellipse rx="3.3097" ry="1.398" fill="#a4a45b"/><ellipse rx="3.306" ry="1.3891" fill="#dada25"/><ellipse rx="3.3022" ry="1.3802" fill="#ffee00"/><ellipse rx="3.2985" ry="1.3712" fill="#ffb900"/><ellipse rx="3.2947" ry="1.3621" fill="#ff8400"/><ellipse rx="3.2907" ry="1.3524" fill="#ff4e00"/><ellipse rx="3.2865" ry="1.342" fill="#ff0f00"/><ellipse rx="3.2785" ry="1.3223" fill="#ff0000"/><ellipse rx="3.2645" ry="1.2872" fill="#ff0000"/><ellipse rx="3.2507" ry="1.2519" fill="#ff0000"/><ellipse rx="3.2372" ry="1.2165" fill="#ff0500"/><ellipse rx="3.2242" ry="1.1814" fill="#ff3f00"/><ellipse rx="3.22" ry="1.1698" fill="#ff7400"/><ellipse rx="3.216" ry="1.1587" fill="#ffa800"/><ellipse rx="3.2122" ry="1.1483" fill="#ffdd00"/><ellipse rx="3.2085" ry="1.1377" fill="#ecec13"/><ellipse rx="3.2047" ry="1.1271" fill="#b6b649"/><ellipse rx="3.201" ry="1.1164" fill="#80807f"/><ellipse rx="3.1972" ry="1.1056" fill="#4c4cb3"/><ellipse rx="3.1935" ry="1.0947" fill="#0808f7"/><ellipse rx="3.1815" ry="1.0592" fill="#0000ff"/><ellipse rx="3.17" ry="1.0242" fill="#0000ff"/><ellipse rx="3.1587" ry=".9888" fill="#0000ff"/><ellipse rx="3.1477" ry=".9531" fill="#0000ff"/><ellipse rx="3.1372" ry=".9178" fill="#0000ff"/><ellipse rx="3.127" ry=".8821" fill="#0505fa"/><ellipse rx="3.1172" ry=".8469" fill="#3b3bc4"/><ellipse rx="3.1135" ry=".833" fill="#6f6f90"/><ellipse rx="3.1097" ry=".8189" fill="#a4a45b"/><ellipse rx="3.106" ry=".8045" fill="#dada25"/><ellipse rx="3.1022" ry=".7899" fill="#ffee00"/><ellipse rx="3.0985" ry=".775" fill="#ffb900"/><ellipse rx="3.0947" ry=".7599" fill="#ff8400"/><ellipse rx="3.0907" ry=".7435" fill="#ff4e00"/><ellipse rx="3.0865" ry=".7256" fill="#ff1100"/><ellipse rx="3.0797" ry=".6963" fill="#ff0000"/><ellipse rx="3.072" ry=".6612" fill="#ff0000"/><ellipse rx="3.0645" ry=".6254" fill="#ff0000"/><ellipse rx="3.0575" ry=".5902" fill="#ff0000"/><ellipse rx="3.0507" ry=".5541" fill="#ff0000"/><ellipse rx="3.0445" ry=".5186" fill="#ff0000"/><ellipse rx="3.0385" ry=".4822" fill="#ff0000"/><ellipse rx="3.033" ry=".4462" fill="#ff0000"/><ellipse rx="3.028" ry=".4108" fill="#ff1600"/><ellipse rx="3.0232" ry=".3742" fill="#ff4c00"/><ellipse rx="3.019" ry=".3382" fill="#ff7f00"/><ellipse rx="3.0152" ry=".3029" fill="#ffb100"/><ellipse rx="3.0117" ry=".2658" fill="#ffde00"/><ellipse rx="3.0087" ry=".2293" fill="#f8f807"/><ellipse rx="3.0062" ry=".1937" fill="#d6d629"/><ellipse rx="3.004" ry=".155" fill="#b9b946"/><ellipse rx="3.0022" ry=".1162" fill="#a4a45b"/><ellipse rx="3.001" ry=".0775" fill="#95956a"/><ellipse rx="3.0002" ry=".0387" fill="#8e8e71"/></g>
<g id="sA2" shape-rendering="crispEdges"><ellipse rx="3.65" ry="2.0791" fill="#ff0000"/><ellipse rx="3.6355" ry="2.0535" fill="#ff0000"/><ellipse rx="3.6157" ry="2.0183" fill="#ff2700"/><ellipse rx="3.614" ry="2.0152" fill="#ff5d00"/><ellipse rx="3.6122" ry="2.0121" fill="#ff9300"/><ellipse rx="3.6105" ry="2.0089" fill="#ffca00"/><ellipse rx="3.6087" ry="2.0058" fill="#fcfc03"/><ellipse rx="3.607" ry="2.0026" fill="#c4c43b"/><ellipse rx="3.6052" ry="1.9995" fill="#8c8c73"/><ellipse rx="3.6035" ry="1.9963" fill="#5454ab"/><ellipse rx="3.6017" ry="1.9931" fill="#0303fc"/><ellipse rx="3.5847" ry="1.9623" fill="#0000ff"/><ellipse rx="3.5655" ry="1.9269" fill="#0000ff"/><ellipse rx="3.5465" ry="1.8915" fill="#0000ff"/><ellipse rx="3.5277" ry="1.8561" fill="#0000ff"/><ellipse rx="3.5092" ry="1.8207" fill="#2626d9"/><ellipse rx="3.5075" ry="1.8173" fill="#5e5ea1"/><ellipse rx="3.5057" ry="1.8139" fill="#969669"/><ellipse rx="3.504" ry="1.8105" fill="#cece31"/><ellipse rx="3.5022" ry="1.8071" fill="#fff800"/><ellipse rx="3.5005" ry="1.8037" fill="#ffc100"/><ellipse rx="3.4987" ry="1.8003" fill="#ff8a00"/><ellipse rx="3.497" ry="1.7969" fill="#ff5300"/><ellipse rx="3.4952" ry="1.7935" fill="#ff0600"/><ellipse rx="3.4852" ry="1.774" fill="#ff0000"/><ellipse rx="3.4675" ry="1.7388" fill="#ff0000"/><ellipse rx="3.45" ry="1.7037" fill="#ff0000"/><ellipse rx="3.4327" ry="1.6685" fill="#ff0000"/><ellipse rx="3.4157" ry="1.6332" fill="#ff2700"/><ellipse rx="3.414" ry="1.6295" fill="#ff5d00"/><ellipse rx="3.4122" ry="1.6259" fill="#ff9300"/><ellipse rx="3.4105" ry="1.6222" fill="#ffca00"/><ellipse rx="3.4087" ry="1.6185" fill="#fcfc03"/><ellipse rx="3.407" ry="1.6148" fill="#c4c43b"/><ellipse rx="3.4052" ry="1.6111" fill="#8c8c73"/><ellipse rx="3.4035" ry="1.6074" fill="#5454ab"/><ellipse rx="3.4017" ry="1.6037" fill="#0404fb"/><ellipse rx="3.3875" ry="1.5733" fill="#0000ff"/><ellipse rx="3.3712" ry="1.538" fill="#0000ff"/><ellipse rx="3.3552" ry="1.5026" fill="#0000ff"/><ellipse rx="3.3395" ry="1.4671" fill="#0000ff"/><ellipse rx="3.3242" ry="1.432" fill="#0000ff"/><ellipse rx="3.3092" ry="1.3968" fill="#2626d9"/><ellipse rx="3.3075" ry="1.3927" fill="#5e5ea1"/><ellipse rx="3.3057" ry="1.3885" fill="#969669"/><ellipse rx="3.304" ry="1.3843" fill="#cece31"/><ellipse rx="3.3022" ry="1.3802" fill="#fff800"/><ellipse rx="3.3005" ry="1.376" fill="#ffc100"/><ellipse rx="3.2987" ry="1.3718" fill="#ff8a00"/><ellipse rx="3.297" ry="1.3676" fill="#ff5300"/><ellipse rx="3.2952" ry="1.3633" fill="#ff0500"/><ellipse rx="3.2837" ry="1.3353" fill="#ff0000"/><ellipse rx="3.2695" ry="1.2999" fill="#ff0000"/><ellipse rx="3.2555" ry="1.2642" fill="#ff0000"/><ellipse rx="3.242" ry="1.2291" fill="#ff0000"/><ellipse rx="3.2287" ry="1.1937" fill="#ff0000"/><ellipse rx="3.2157" ry="1.158" fill="#ff2700"/><ellipse rx="3.214" ry="1.1532" fill="#ff5d00"/><ellipse rx="3.2122" ry="1.1483" fill="#ff9300"/><ellipse rx="3.2105" ry="1.1434" fill="#ffca00"/><ellipse rx="3.2087" ry="1.1385" fill="#fcfc03"/><ellipse rx="3.207" ry="1.1335" fill="#c4c43b"/><ellipse rx="3.2052" ry="1.1286" fill="#8c8c73"/><ellipse rx="3.2035" ry="1.1236" fill="#5454ab"/><ellipse rx="3.2017" ry="1.1186" fill="#0808f7"/><ellipse rx="3.195" ry="1.0991" fill="#0000ff"/><ellipse rx="3.183" ry="1.0637" fill="#0000ff"/><ellipse rx="3.1712" ry="1.028" fill="#0000ff"/><ellipse rx="3.16" ry=".9928" fill="#0000ff"/><ellipse rx="3.149" ry=".9572" fill="#0000ff"/><ellipse rx="3.1385" ry=".9221" fill="#0000ff"/><ellipse rx="3.1282" ry=".8865" fill="#0000ff"/><ellipse rx="3.1185" ry=".8515" fill="#0101fe"/><ellipse rx="3.109" ry=".816" fill="#2e2ed1"/><ellipse rx="3.1072" ry=".8093" fill="#666699"/><ellipse rx="3.1055" ry=".8026" fill="#9e9e61"/><ellipse rx="3.1037" ry=".7958" fill="#d6d629"/><ellipse rx="3.102" ry=".7889" fill="#fff000"/><ellipse rx="3.1002" ry=".782" fill="#ffb900"/><ellipse rx="3.0985" ry=".775" fill="#ff8200"/><ellipse rx="3.0967" ry=".768" fill="#ff4c00"/><ellipse rx="3.095" ry=".7609" fill="#ff0500"/><ellipse rx="3.0865" ry=".7256" fill="#ff0000"/><ellipse rx="3.0782" ry=".6897" fill="#ff0000"/><ellipse rx="3.0705" ry=".6542" fill="#ff0000"/><ellipse rx="3.063" ry=".618" fill="#ff0000"/><ellipse rx="3.056" ry=".5824" fill="#ff0000"/><ellipse rx="3.0495" ry=".5472" fill="#ff0000"/><ellipse rx="3.0432" ry=".5112" fill="#ff0000"/><ellipse rx="3.0375" ry=".4758" fill="#ff0000"/><ellipse rx="3.032" ry=".4393" fill="#ff0000"/><ellipse rx="3.027" ry=".4034" fill="#ff0000"/><ellipse rx="3.0225" ry=".3681" fill="#ff0000"/><ellipse rx="3.0182" ry=".3314" fill="#ff0c00"/><ellipse rx="3.0145" ry=".2953" fill="#ff4d00"/><ellipse rx="3.0127" ry=".2769" fill="#ff8300"/><ellipse rx="3.011" ry=".2571" fill="#ffba00"/><ellipse rx="3.0092" ry=".2358" fill="#fff200"/><ellipse rx="3.0075" ry=".2123" fill="#d4d42b"/><ellipse rx="3.0057" ry=".1858" fill="#9c9c63"/><ellipse rx="3.004" ry=".155" fill="#64649b"/><ellipse rx="3.0022" ry=".1162" fill="#3434cb"/><ellipse rx="3.001" ry=".0775" fill="#1414eb"/><ellipse rx="3.0002" ry=".0387" fill="#0505fa"/></g>
<g id="cA0" shape-rendering="crispEdges"><ellipse rx="7.5" ry="6.8739" fill="#0303fc"/><ellipse rx="7.4855" ry="6.858" fill="#2c2cd3"/><ellipse rx="7.476" ry="6.8477" fill="#61619e"/><ellipse rx="7.4685" ry="6.8395" fill="#94946b"/><ellipse rx="7.4617" ry="6.8321" fill="#c8c837"/><ellipse rx="7.4552" ry="6.825" fill="#fcfc03"/><ellipse rx="7.4487" ry="6.8179" fill="#ffce00"/><ellipse rx="7.442" ry="6.8105" fill="#ff9a00"/><ellipse rx="7.4345" ry="6.8023" fill="#ff6600"/><ellipse rx="7.4255" ry="6.7925" fill="#ff2700"/><ellipse rx="7.3932" ry="6.7572" fill="#ff4100"/><ellipse rx="7.381" ry="6.7438" fill="#ff7700"/><ellipse rx="7.3725" ry="6.7345" fill="#ffab00"/><ellipse rx="7.3652" ry="6.7266" fill="#ffe000"/><ellipse rx="7.3585" ry="6.7192" fill="#e9e916"/><ellipse rx="7.352" ry="6.7121" fill="#b5b54a"/><ellipse rx="7.3452" ry="6.7047" fill="#80807f"/><ellipse rx="7.3382" ry="6.697" fill="#4d4db2"/><ellipse rx="7.3302" ry="6.6882" fill="#1515ea"/><ellipse rx="7.3175" ry="6.6743" fill="#0202fd"/><ellipse rx="7.2855" ry="6.6392" fill="#2c2cd3"/><ellipse rx="7.276" ry="6.6287" fill="#61619e"/><ellipse rx="7.2685" ry="6.6205" fill="#94946b"/><ellipse rx="7.2617" ry="6.6131" fill="#c8c837"/><ellipse rx="7.2552" ry="6.606" fill="#fcfc03"/><ellipse rx="7.2487" ry="6.5988" fill="#ffce00"/><ellipse rx="7.242" ry="6.5914" fill="#ff9a00"/><ellipse rx="7.2345" ry="6.5832" fill="#ff6500"/><ellipse rx="7.2252" ry="6.573" fill="#ff2700"/><ellipse rx="7.1932" ry="6.5378" fill="#ff4100"/><ellipse rx="7.181" ry="6.5243" fill="#ff7700"/><ellipse rx="7.1725" ry="6.515" fill="#ffab00"/><ellipse rx="7.1652" ry="6.507" fill="#ffe000"/><ellipse rx="7.1585" ry="6.4995" fill="#e9e916"/><ellipse rx="7.152" ry="6.4924" fill="#b5b54a"/><ellipse rx="7.1452" ry="6.485" fill="#80807f"/><ellipse rx="7.1382" ry="6.4772" fill="#4d4db2"/><ellipse rx="7.1302" ry="6.4684" fill="#1414eb"/><ellipse rx="7.1167" ry="6.4535" fill="#0202fd"/><ellipse rx="7.085" ry="6.4185" fill="#2e2ed1"/><ellipse rx="7.0757" ry="6.4083" fill="#62629d"/><ellipse rx="7.0682" ry="6.4" fill="#969669"/><ellipse rx="7.0615" ry="6.3926" fill="#caca35"/><ellipse rx="7.055" ry="6.3854" fill="#fefe01"/><ellipse rx="7.0485" ry="6.3782" fill="#ffcd00"/><ellipse rx="7.0417" ry="6.3707" fill="#ff9900"/><ellipse rx="7.0342" ry="6.3624" fill="#ff6400"/><ellipse rx="7.025" ry="6.3522" fill="#ff2600"/><ellipse rx="6.9932" ry="6.3171" fill="#ff4100"/><ellipse rx="6.981" ry="6.3035" fill="#ff7700"/><ellipse rx="6.9725" ry="6.2941" fill="#ffab00"/><ellipse rx="6.9652" ry="6.2861" fill="#ffe000"/><ellipse rx="6.9585" ry="6.2786" fill="#e9e916"/><ellipse rx="6.952" ry="6.2714" fill="#b5b54a"/><ellipse rx="6.9452" ry="6.2639" fill="#80807f"/><ellipse rx="6.9382" ry="6.2561" fill="#4d4db2"/><ellipse rx="6.9302" ry="6.2473" fill="#1313ec"/><ellipse rx="6.9165" ry="6.232" fill="#0202fd"/><ellipse rx="6.8847" ry="6.1968" fill="#3030cf"/><ellipse rx="6.8755" ry="6.1865" fill="#64649b"/><ellipse rx="6.868" ry="6.1781" fill="#989867"/><ellipse rx="6.8612" ry="6.1706" fill="#cccc33"/><ellipse rx="6.8547" ry="6.1634" fill="#fffe00"/><ellipse rx="6.8482" ry="6.1562" fill="#ffcb00"/><ellipse rx="6.8415" ry="6.1487" fill="#ff9700"/><ellipse rx="6.834" ry="6.1403" fill="#ff6300"/><ellipse rx="6.8247" ry="6.13" fill="#ff2600"/><ellipse rx="6.7932" ry="6.0949" fill="#ff4100"/><ellipse rx="6.781" ry="6.0813" fill="#ff7700"/><ellipse rx="6.7725" ry="6.0718" fill="#ffab00"/><ellipse rx="6.7652" ry="6.0637" fill="#ffe000"/><ellipse rx="6.7585" ry="6.0562" fill="#e9e916"/><ellipse rx="6.752" ry="6.0489" fill="#b5b54a"/><ellipse rx="6.7452" ry="6.0414" fill="#80807f"/><ellipse rx="6.7382" ry="6.0336" fill="#4d4db2"/><ellipse rx="6.7302" ry="6.0246" fill="#1313ec"/><ellipse rx="6.716" ry="6.0087" fill="#0202fd"/><ellipse rx="6.6845" ry="5.9735" fill="#3131ce"/><ellipse rx="6.6752" ry="5.9631" fill="#666699"/><ellipse rx="6.6677" ry="5.9547" fill="#9a9a65"/><ellipse rx="6.661" ry="5.9472" fill="#cece31"/><ellipse rx="6.6545" ry="5.9399" fill="#fffc00"/><ellipse rx="6.648" ry="5.9326" fill="#ffc900"/><ellipse rx="6.6412" ry="5.925" fill="#ff9500"/><ellipse rx="6.6337" ry="5.9166" fill="#ff6100"/><ellipse rx="6.6245" ry="5.9063" fill="#ff2600"/><ellipse rx="6.5932" ry="5.8712" fill="#ff4100"/><ellipse rx="6.581" ry="5.8574" fill="#ff7700"/><ellipse rx="6.5725" ry="5.8479" fill="#ffab00"/><ellipse rx="6.5652" ry="5.8397" fill="#ffe000"/><ellipse rx="6.5585" ry="5.8321" fill="#e9e916"/><ellipse rx="6.552" ry="5.8248" fill="#b5b54a"/><ellipse rx="6.5452" ry="5.8172" fill="#80807f"/><ellipse rx="6.5382" ry="5.8094" fill="#4d4db2"/><ellipse rx="6.5302" ry="5.8004" fill="#1212ed"/><ellipse rx="6.5157" ry="5.784" fill="#0202fd"/><ellipse rx="6.4845" ry="5.7488" fill="#3131ce"/><ellipse rx="6.4752" ry="5.7384" fill="#666699"/><ellipse rx="6.4677" ry="5.7299" fill="#9a9a65"/><ellipse rx="6.461" ry="5.7223" fill="#cece31"/><ellipse rx="6.4545" ry="5.7149" fill="#fffc00"/><ellipse rx="6.448" ry="5.7076" fill="#ffc900"/><ellipse rx="6.4412" ry="5.7" fill="#ff9500"/><ellipse rx="6.4337" ry="5.6915" fill="#ff6100"/><ellipse rx="6.4242" ry="5.6808" fill="#ff2600"/><ellipse rx="6.3932" ry="5.6457" fill="#ff4100"/><ellipse rx="6.381" ry="5.6318" fill="#ff7700"/><ellipse rx="6.3725" ry="5.6222" fill="#ffab00"/><ellipse rx="6.3652" ry="5.6139" fill="#ffe000"/><ellipse rx="6.3585" ry="5.6063" fill="#e9e916"/><ellipse rx="6.352" ry="5.5989" fill="#b5b54a"/><ellipse rx="6.3452" ry="5.5913" fill="#80807f"/><ellipse rx="6.3382" ry="5.5833" fill="#4d4db2"/><ellipse rx="6.3302" ry="5.5742" fill="#1212ed"/><ellipse rx="6.315" ry="5.5569" fill="#0303fc"/><ellipse rx="6.284" ry="5.5217" fill="#3333cc"/><ellipse rx="6.275" ry="5.5114" fill="#686897"/><ellipse rx="6.2675" ry="5.5029" fill="#9c9c63"/><ellipse rx="6.2607" ry="5.4952" fill="#d0d02f"/><ellipse rx="6.2542" ry="5.4878" fill="#fffa00"/><ellipse rx="6.2477" ry="5.4804" fill="#ffc700"/><ellipse rx="6.241" ry="5.4727" fill="#ff9300"/><ellipse rx="6.2335" ry="5.4641" fill="#ff5f00"/><ellipse rx="6.224" ry="5.4533" fill="#ff2500"/><ellipse rx="6.1932" ry="5.4181" fill="#ff4100"/><ellipse rx="6.181" ry="5.4041" fill="#ff7700"/><ellipse rx="6.1725" ry="5.3944" fill="#ffab00"/><ellipse rx="6.1652" ry="5.3861" fill="#ffe000"/><ellipse rx="6.1585" ry="5.3784" fill="#e9e916"/><ellipse rx="6.152" ry="5.371" fill="#b5b54a"/><ellipse rx="6.1452" ry="5.3632" fill="#80807f"/><ellipse rx="6.1382" ry="5.3552" fill="#4d4db2"/><ellipse rx="6.1302" ry="5.346" fill="#1111ee"/><ellipse rx="6.1145" ry="5.328" fill="#0303fc"/><ellipse rx="6.084" ry="5.2929" fill="#3333cc"/><ellipse rx="6.075" ry="5.2826" fill="#686897"/><ellipse rx="6.0675" ry="5.274" fill="#9c9c63"/><ellipse rx="6.0607" ry="5.2662" fill="#d0d02f"/><ellipse rx="6.0542" ry="5.2587" fill="#fffa00"/><ellipse rx="6.0477" ry="5.2512" fill="#ffc700"/><ellipse rx="6.041" ry="5.2434" fill="#ff9300"/><ellipse rx="6.0332" ry="5.2345" fill="#ff5e00"/><ellipse rx="6.0237" ry="5.2236" fill="#ff2500"/><ellipse rx="5.9932" ry="5.1884" fill="#ff4100"/><ellipse rx="5.981" ry="5.1742" fill="#ff7700"/><ellipse rx="5.9725" ry="5.1644" fill="#ffab00"/><ellipse rx="5.9652" ry="5.156" fill="#ffe000"/><ellipse rx="5.9585" ry="5.1482" fill="#e9e916"/><ellipse rx="5.952" ry="5.1407" fill="#b5b54a"/><ellipse rx="5.9452" ry="5.1328" fill="#80807f"/><ellipse rx="5.9382" ry="5.1247" fill="#4d4db2"/><ellipse rx="5.9302" ry="5.1155" fill="#1111ee"/><ellipse rx="5.9142" ry="5.0969" fill="#0303fc"/><ellipse rx="5.884" ry="5.0618" fill="#3333cc"/><ellipse rx="5.875" ry="5.0513" fill="#686897"/><ellipse rx="5.8675" ry="5.0426" fill="#9c9c63"/><ellipse rx="5.8607" ry="5.0347" fill="#d0d02f"/><ellipse rx="5.8542" ry="5.0272" fill="#fffa00"/><ellipse rx="5.8477" ry="5.0196" fill="#ffc600"/><ellipse rx="5.8407" ry="5.0114" fill="#ff9100"/><ellipse rx="5.833" ry="5.0024" fill="#ff5c00"/><ellipse rx="5.8232" ry="4.991" fill="#ff2400"/><ellipse rx="5.7932" ry="4.956" fill="#ff4100"/><ellipse rx="5.781" ry="4.9417" fill="#ff7700"/><ellipse rx="5.7725" ry="4.9317" fill="#ffab00"/><ellipse rx="5.7652" ry="4.9232" fill="#ffe000"/><ellipse rx="5.7585" ry="4.9153" fill="#e9e916"/><ellipse rx="5.752" ry="4.9077" fill="#b5b54a"/><ellipse rx="5.7452" ry="4.8998" fill="#80807f"/><ellipse rx="5.7382" ry="4.8916" fill="#4d4db2"/><ellipse rx="5.7302" ry="4.8822" fill="#1010ef"/><ellipse rx="5.7137" ry="4.8628" fill="#0303fc"/><ellipse rx="5.6837" ry="4.8275" fill="#3535ca"/><ellipse rx="5.6747" ry="4.8169" fill="#696996"/><ellipse rx="5.6672" ry="4.8081" fill="#9e9e61"/><ellipse rx="5.6605" ry="4.8001" fill="#d2d22d"/><ellipse rx="5.654" ry="4.7925" fill="#fff800"/><ellipse rx="5.6475" ry="4.7848" fill="#ffc400"/><ellipse rx="5.6405" ry="4.7765" fill="#ff8f00"/><ellipse rx="5.6327" ry="4.7674" fill="#ff5b00"/><ellipse rx="5.623" ry="4.7559" fill="#ff2400"/><ellipse rx="5.5932" ry="4.7206" fill="#ff4100"/><ellipse rx="5.581" ry="4.7061" fill="#ff7700"/><ellipse rx="5.5725" ry="4.696" fill="#ffab00"/><ellipse rx="5.5652" ry="4.6874" fill="#ffe000"/><ellipse rx="5.5585" ry="4.6794" fill="#e9e916"/><ellipse rx="5.552" ry="4.6717" fill="#b5b54a"/><ellipse rx="5.5452" ry="4.6637" fill="#80807f"/><ellipse rx="5.5382" ry="4.6553" fill="#4d4db2"/><ellipse rx="5.5302" ry="4.6458" fill="#1010ef"/><ellipse rx="5.513" ry="4.6253" fill="#0303fc"/><ellipse rx="5.4835" ry="4.5901" fill="#3636c9"/><ellipse rx="5.4745" ry="4.5793" fill="#6b6b94"/><ellipse rx="5.467" ry="4.5703" fill="#a0a05f"/><ellipse rx="5.4602" ry="4.5623" fill="#d4d42b"/><ellipse rx="5.4537" ry="4.5545" fill="#fff600"/><ellipse rx="5.4472" ry="4.5467" fill="#ffc200"/><ellipse rx="5.4402" ry="4.5383" fill="#ff8e00"/><ellipse rx="5.4325" ry="4.529" fill="#ff5900"/><ellipse rx="5.4225" ry="4.517" fill="#ff2400"/><ellipse rx="5.3932" ry="4.4819" fill="#ff4100"/><ellipse rx="5.381" ry="4.4671" fill="#ff7700"/><ellipse rx="5.3725" ry="4.4569" fill="#ffab00"/><ellipse rx="5.3652" ry="4.4481" fill="#ffe000"/><ellipse rx="5.3585" ry="4.44" fill="#e9e916"/><ellipse rx="5.352" ry="4.4321" fill="#b5b54a"/><ellipse rx="5.3452" ry="4.424" fill="#80807f"/><ellipse rx="5.3382" ry="4.4155" fill="#4d4db2"/><ellipse rx="5.3302" ry="4.4059" fill="#0e0ef1"/><ellipse rx="5.3115" ry="4.3832" fill="#0505fa"/><ellipse rx="5.2825" ry="4.348" fill="#3b3bc4"/><ellipse rx="5.2737" ry="4.3373" fill="#70708f"/><ellipse rx="5.2665" ry="4.3285" fill="#a4a45b"/><ellipse rx="5.2597" ry="4.3203" fill="#d8d827"/><ellipse rx="5.2532" ry="4.3124" fill="#fff200"/><ellipse rx="5.2467" ry="4.3045" fill="#ffbe00"/><ellipse rx="5.2397" ry="4.2959" fill="#ff8a00"/><ellipse rx="5.232" ry="4.2865" fill="#ff5600"/><ellipse rx="5.222" ry="4.2743" fill="#ff2300"/><ellipse rx="5.1932" ry="4.2391" fill="#ff4100"/><ellipse rx="5.181" ry="4.2241" fill="#ff7700"/><ellipse rx="5.1725" ry="4.2136" fill="#ffab00"/><ellipse rx="5.1652" ry="4.2047" fill="#ffe000"/><ellipse rx="5.1585" ry="4.1964" fill="#e9e916"/><ellipse rx="5.152" ry="4.1884" fill="#b5b54a"/><ellipse rx="5.1452" ry="4.1801" fill="#80807f"/><ellipse rx="5.1382" ry="4.1715" fill="#4d4db2"/><ellipse rx="5.1302" ry="4.1617" fill="#0e0ef1"/><ellipse rx="5.1107" ry="4.1376" fill="#0505fa"/><ellipse rx="5.0822" ry="4.1023" fill="#3d3dc2"/><ellipse rx="5.0735" ry="4.0915" fill="#71718e"/><ellipse rx="5.0662" ry="4.0825" fill="#a5a55a"/><ellipse rx="5.0595" ry="4.0741" fill="#dada25"/><ellipse rx="5.053" ry="4.0661" fill="#fff000"/><ellipse rx="5.0465" ry="4.058" fill="#ffbd00"/><ellipse rx="5.0395" ry="4.0493" fill="#ff8900"/><ellipse rx="5.0317" ry="4.0396" fill="#ff5400"/><ellipse rx="5.0215" ry="4.0268" fill="#ff2300"/><ellipse rx="4.9932" ry="3.9916" fill="#ff4100"/><ellipse rx="4.981" ry="3.9762" fill="#ff7700"/><ellipse rx="4.9725" ry="3.9656" fill="#ffab00"/><ellipse rx="4.9652" ry="3.9565" fill="#ffe000"/><ellipse rx="4.9585" ry="3.948" fill="#e9e916"/><ellipse rx="4.952" ry="3.9398" fill="#b5b54a"/><ellipse rx="4.9452" ry="3.9313" fill="#80807f"/><ellipse rx="4.9382" ry="3.9225" fill="#4d4db2"/><ellipse rx="4.9302" ry="3.9125" fill="#0d0df2"/><ellipse rx="4.9095" ry="3.8863" fill="#0606f9"/><ellipse rx="4.8817" ry="3.8512" fill="#3f3fc0"/><ellipse rx="4.8732" ry="3.8404" fill="#73738c"/><ellipse rx="4.866" ry="3.8312" fill="#a7a758"/><ellipse rx="4.8592" ry="3.8226" fill="#dcdc23"/><ellipse rx="4.8527" ry="3.8143" fill="#ffef00"/><ellipse rx="4.8462" ry="3.8061" fill="#ffbb00"/><ellipse rx="4.8392" ry="3.7971" fill="#ff8600"/><ellipse rx="4.8312" ry="3.7869" fill="#ff5100"/><ellipse rx="4.8207" ry="3.7735" fill="#ff2200"/><ellipse rx="4.7932" ry="3.7383" fill="#ff4100"/><ellipse rx="4.781" ry="3.7226" fill="#ff7700"/><ellipse rx="4.7725" ry="3.7117" fill="#ffab00"/><ellipse rx="4.7652" ry="3.7024" fill="#ffe000"/><ellipse rx="4.7585" ry="3.6937" fill="#e9e916"/><ellipse rx="4.752" ry="3.6853" fill="#b5b54a"/><ellipse rx="4.7452" ry="3.6766" fill="#80807f"/><ellipse rx="4.7382" ry="3.6676" fill="#4d4db2"/><ellipse rx="4.7302" ry="3.6572" fill="#0c0cf3"/><ellipse rx="4.7082" ry="3.6287" fill="#0707f8"/><ellipse rx="4.6812" ry="3.5936" fill="#4242bd"/><ellipse rx="4.6727" ry="3.5825" fill="#777788"/><ellipse rx="4.6655" ry="3.5731" fill="#abab54"/><ellipse rx="4.6587" ry="3.5643" fill="#e0e01f"/><ellipse rx="4.6522" ry="3.5558" fill="#ffeb00"/><ellipse rx="4.6457" ry="3.5473" fill="#ffb700"/><ellipse rx="4.6387" ry="3.5381" fill="#ff8300"/><ellipse rx="4.6307" ry="3.5276" fill="#ff4e00"/><ellipse rx="4.62" ry="3.5135" fill="#ff2100"/><ellipse rx="4.5932" ry="3.4782" fill="#ff4100"/><ellipse rx="4.581" ry="3.462" fill="#ff7700"/><ellipse rx="4.5725" ry="3.4508" fill="#ffab00"/><ellipse rx="4.5652" ry="3.4411" fill="#ffe000"/><ellipse rx="4.5585" ry="3.4322" fill="#e9e916"/><ellipse rx="4.552" ry="3.4236" fill="#b5b54a"/><ellipse rx="4.5452" ry="3.4146" fill="#80807f"/><ellipse rx="4.5382" ry="3.4052" fill="#4d4db2"/><ellipse rx="4.5302" ry="3.3946" fill="#0c0cf3"/><ellipse rx="4.5072" ry="3.3638" fill="#0707f8"/><ellipse rx="4.481" ry="3.3286" fill="#4444bb"/><ellipse rx="4.4725" ry="3.3171" fill="#787887"/><ellipse rx="4.4652" ry="3.3073" fill="#adad52"/><ellipse rx="4.4585" ry="3.2982" fill="#e2e21d"/><ellipse rx="4.452" ry="3.2894" fill="#ffe800"/><ellipse rx="4.4452" ry="3.2803" fill="#ffb300"/><ellipse rx="4.4382" ry="3.2708" fill="#ff8000"/><ellipse rx="4.4302" ry="3.2599" fill="#ff4b00"/><ellipse rx="4.419" ry="3.2446" fill="#ff2100"/><ellipse rx="4.3932" ry="3.2095" fill="#ff4100"/><ellipse rx="4.381" ry="3.1927" fill="#ff7700"/><ellipse rx="4.3725" ry="3.181" fill="#ffab00"/><ellipse rx="4.3652" ry="3.171" fill="#ffe000"/><ellipse rx="4.3585" ry="3.1617" fill="#e9e916"/><ellipse rx="4.352" ry="3.1528" fill="#b5b54a"/><ellipse rx="4.3452" ry="3.1434" fill="#80807f"/><ellipse rx="4.3382" ry="3.1338" fill="#4d4db2"/><ellipse rx="4.3302" ry="3.1227" fill="#1010ef"/><ellipse rx="4.3132" ry="3.0991" fill="#0000ff"/><ellipse rx="4.288" ry="3.0638" fill="#2121de"/><ellipse rx="4.2777" ry="3.0494" fill="#5656a9"/><ellipse rx="4.27" ry="3.0386" fill="#8a8a75"/><ellipse rx="4.263" ry="3.0287" fill="#bebe41"/><ellipse rx="4.2565" ry="3.0196" fill="#f2f20d"/><ellipse rx="4.25" ry="3.0104" fill="#ffd800"/><ellipse rx="4.2432" ry="3.0009" fill="#ffa400"/><ellipse rx="4.236" ry="2.9906" fill="#ff7000"/><ellipse rx="4.2272" ry="2.9782" fill="#ff3900"/><ellipse rx="4.2135" ry="2.9586" fill="#ff2200"/><ellipse rx="4.1887" ry="2.9233" fill="#ff5100"/><ellipse rx="4.1782" ry="2.9082" fill="#ff8600"/><ellipse rx="4.1702" ry="2.8967" fill="#ffbb00"/><ellipse rx="4.1632" ry="2.8866" fill="#ffef00"/><ellipse rx="4.1567" ry="2.8773" fill="#dbdb24"/><ellipse rx="4.1502" ry="2.8679" fill="#a7a758"/><ellipse rx="4.1435" ry="2.8581" fill="#73738c"/><ellipse rx="4.1362" ry="2.8476" fill="#3f3fc0"/><ellipse rx="4.1277" ry="2.8352" fill="#0707f8"/><ellipse rx="4.1037" ry="2.8001" fill="#0a0af5"/><ellipse rx="4.0797" ry="2.7648" fill="#4b4bb4"/><ellipse rx="4.0715" ry="2.7527" fill="#7f7f80"/><ellipse rx="4.0645" ry="2.7423" fill="#b3b34c"/><ellipse rx="4.0577" ry="2.7323" fill="#e8e817"/><ellipse rx="4.0512" ry="2.7226" fill="#ffe200"/><ellipse rx="4.0445" ry="2.7126" fill="#ffad00"/><ellipse rx="4.0372" ry="2.7017" fill="#ff7800"/><ellipse rx="4.0287" ry="2.689" fill="#ff4200"/><ellipse rx="4.0165" ry="2.6706" fill="#ff1f00"/><ellipse rx="3.9932" ry="2.6355" fill="#ff4100"/><ellipse rx="3.981" ry="2.6169" fill="#ff7700"/><ellipse rx="3.9725" ry="2.604" fill="#ffab00"/><ellipse rx="3.9652" ry="2.5929" fill="#ffe000"/><ellipse rx="3.9585" ry="2.5826" fill="#e9e916"/><ellipse rx="3.952" ry="2.5726" fill="#b5b54a"/><ellipse rx="3.9452" ry="2.5622" fill="#80807f"/><ellipse rx="3.9382" ry="2.5514" fill="#4d4db2"/><ellipse rx="3.9302" ry="2.5391" fill="#0d0df2"/><ellipse rx="3.91" ry="2.5076" fill="#0101fe"/><ellipse rx="3.8875" ry="2.4724" fill="#2323dc"/><ellipse rx="3.8775" ry="2.4566" fill="#5858a7"/><ellipse rx="3.8697" ry="2.4444" fill="#8c8c73"/><ellipse rx="3.8627" ry="2.4333" fill="#c0c03f"/><ellipse rx="3.8562" ry="2.4229" fill="#f4f40b"/><ellipse rx="3.8497" ry="2.4126" fill="#ffd600"/><ellipse rx="3.843" ry="2.4018" fill="#ffa200"/><ellipse rx="3.8357" ry="2.3902" fill="#ff6e00"/><ellipse rx="3.827" ry="2.3761" fill="#ff3700"/><ellipse rx="3.8125" ry="2.3527" fill="#ff2000"/><ellipse rx="3.791" ry="2.3177" fill="#ff4900"/><ellipse rx="3.7797" ry="2.2992" fill="#ff7e00"/><ellipse rx="3.7715" ry="2.2857" fill="#ffb200"/><ellipse rx="3.7645" ry="2.2741" fill="#ffe600"/><ellipse rx="3.7577" ry="2.2629" fill="#e3e31c"/><ellipse rx="3.7512" ry="2.2521" fill="#afaf50"/><ellipse rx="3.7445" ry="2.2408" fill="#7a7a85"/><ellipse rx="3.7372" ry="2.2287" fill="#4545ba"/><ellipse rx="3.7287" ry="2.2144" fill="#0909f6"/><ellipse rx="3.708" ry="2.1793" fill="#0101fe"/><ellipse rx="3.6875" ry="2.1442" fill="#2323dc"/><ellipse rx="3.6775" ry="2.127" fill="#5858a7"/><ellipse rx="3.6697" ry="2.1135" fill="#8c8c73"/><ellipse rx="3.6627" ry="2.1014" fill="#c0c03f"/><ellipse rx="3.6562" ry="2.09" fill="#f4f40b"/><ellipse rx="3.6497" ry="2.0786" fill="#ffd600"/><ellipse rx="3.643" ry="2.0667" fill="#ffa200"/><ellipse rx="3.6357" ry="2.0539" fill="#ff6e00"/><ellipse rx="3.627" ry="2.0384" fill="#ff3800"/><ellipse rx="3.6127" ry="2.0129" fill="#ff1e00"/><ellipse rx="3.5932" ry="1.9777" fill="#ff4100"/><ellipse rx="3.581" ry="1.9554" fill="#ff7700"/><ellipse rx="3.5725" ry="1.9398" fill="#ffab00"/><ellipse rx="3.5652" ry="1.9264" fill="#ffe000"/><ellipse rx="3.5585" ry="1.9139" fill="#e9e916"/><ellipse rx="3.552" ry="1.9018" fill="#b5b54a"/><ellipse rx="3.5452" ry="1.8891" fill="#80807f"/><ellipse rx="3.5382" ry="1.876" fill="#4d4db2"/><ellipse rx="3.5302" ry="1.8608" fill="#1515ea"/><ellipse rx="3.5177" ry="1.837" fill="#0000ff"/><ellipse rx="3.4995" ry="1.8018" fill="#0909f6"/><ellipse rx="3.4815" ry="1.7666" fill="#4141be"/><ellipse rx="3.473" ry="1.7498" fill="#75758a"/><ellipse rx="3.4657" ry="1.7353" fill="#a9a956"/><ellipse rx="3.459" ry="1.7218" fill="#dede21"/><ellipse rx="3.4525" ry="1.7087" fill="#ffed00"/><ellipse rx="3.446" ry="1.6956" fill="#ffb900"/><ellipse rx="3.439" ry="1.6813" fill="#ff8400"/><ellipse rx="3.431" ry="1.6649" fill="#ff5000"/><ellipse rx="3.4205" ry="1.6431" fill="#ff2300"/><ellipse rx="3.4037" ry="1.608" fill="#ff2700"/><ellipse rx="3.3872" ry="1.5727" fill="#ff5800"/><ellipse rx="3.3772" ry="1.5511" fill="#ff8c00"/><ellipse rx="3.3695" ry="1.5341" fill="#ffc100"/><ellipse rx="3.3625" ry="1.5187" fill="#fff500"/><ellipse rx="3.356" ry="1.5042" fill="#d5d52a"/><ellipse rx="3.3495" ry="1.4897" fill="#a1a15e"/><ellipse rx="3.3427" ry="1.4744" fill="#6d6d92"/><ellipse rx="3.3352" ry="1.4574" fill="#3838c7"/><ellipse rx="3.3265" ry="1.4372" fill="#0707f8"/><ellipse rx="3.3115" ry="1.4022" fill="#0000ff"/><ellipse rx="3.2967" ry="1.367" fill="#0a0af5"/><ellipse rx="3.2822" ry="1.3316" fill="#3d3dc2"/><ellipse rx="3.2735" ry="1.3099" fill="#71718e"/><ellipse rx="3.2662" ry="1.2917" fill="#a5a55a"/><ellipse rx="3.2595" ry="1.2745" fill="#dada25"/><ellipse rx="3.253" ry="1.2578" fill="#fff000"/><ellipse rx="3.2465" ry="1.2409" fill="#ffbd00"/><ellipse rx="3.2395" ry="1.2224" fill="#ff8800"/><ellipse rx="3.2315" ry="1.2011" fill="#ff5200"/><ellipse rx="3.221" ry="1.1725" fill="#ff2700"/><ellipse rx="3.2082" ry="1.137" fill="#ff1c00"/><ellipse rx="3.196" ry="1.102" fill="#ff3600"/><ellipse rx="3.184" ry="1.0667" fill="#ff6600"/><ellipse rx="3.175" ry="1.0395" fill="#ff9b00"/><ellipse rx="3.1675" ry="1.0164" fill="#ffcf00"/><ellipse rx="3.1607" ry=".9952" fill="#fbfb04"/><ellipse rx="3.1542" ry=".9743" fill="#c7c738"/><ellipse rx="3.1477" ry=".9531" fill="#93936c"/><ellipse rx="3.1407" ry=".9297" fill="#5e5ea1"/><ellipse rx="3.133" ry=".9032" fill="#2929d6"/><ellipse rx="3.1232" ry=".8687" fill="#0303fc"/><ellipse rx="3.1135" ry=".833" fill="#0000ff"/><ellipse rx="3.1042" ry=".7977" fill="#0000ff"/><ellipse rx="3.0952" ry=".762" fill="#0303fc"/><ellipse rx="3.0867" ry=".7267" fill="#2222dd"/><ellipse rx="3.0785" ry=".6908" fill="#5151ae"/><ellipse rx="3.0707" ry=".6554" fill="#84847b"/><ellipse rx="3.0637" ry=".6217" fill="#b8b847"/><ellipse rx="3.0572" ry=".5889" fill="#ecec13"/><ellipse rx="3.0507" ry=".5541" fill="#ffe000"/><ellipse rx="3.0445" ry=".5186" fill="#ffb100"/><ellipse rx="3.0385" ry=".4822" fill="#ff8900"/><ellipse rx="3.033" ry=".4462" fill="#ff6900"/><ellipse rx="3.028" ry=".4108" fill="#ff4e00"/><ellipse rx="3.0232" ry=".3742" fill="#ff3b00"/><ellipse rx="3.019" ry=".3382" fill="#ff2d00"/><ellipse rx="3.0152" ry=".3029" fill="#ff2300"/><ellipse rx="3.0117" ry=".2658" fill="#ff1d00"/><ellipse rx="3.0087" ry=".2293" fill="#ff1b00"/><ellipse rx="3.0062" ry=".1937" fill="#ff1a00"/><ellipse rx="3.004" ry=".155" fill="#ff1a00"/><ellipse rx="3.0022" ry=".1162" fill="#ff1b00"/><ellipse rx="3.001" ry=".0775" fill="#ff1c00"/><ellipse rx="3.0002" ry=".0387" fill="#ff1c00"/></g>
<g id="cA1" shape-rendering="crispEdges"><ellipse rx="4.5002" ry="3.3544" fill="#0000ff"/><ellipse rx="4.4932" ry="3.345" fill="#0202fd"/><ellipse rx="4.4672" ry="3.31" fill="#3b3bc4"/><ellipse rx="4.4635" ry="3.305" fill="#6f6f90"/><ellipse rx="4.4597" ry="3.2999" fill="#a4a45b"/><ellipse rx="4.456" ry="3.2948" fill="#dada25"/><ellipse rx="4.4522" ry="3.2898" fill="#ffee00"/><ellipse rx="4.4485" ry="3.2847" fill="#ffb900"/><ellipse rx="4.4447" ry="3.2796" fill="#ff8400"/><ellipse rx="4.4407" ry="3.2742" fill="#ff4e00"/><ellipse rx="4.4365" ry="3.2684" fill="#ff0a00"/><ellipse rx="4.425" ry="3.2528" fill="#ff0000"/><ellipse rx="4.3992" ry="3.2177" fill="#ff0400"/><ellipse rx="4.3735" ry="3.1824" fill="#ff4800"/><ellipse rx="4.3692" ry="3.1765" fill="#ff7e00"/><ellipse rx="4.3652" ry="3.171" fill="#ffb200"/><ellipse rx="4.3615" ry="3.1659" fill="#ffe700"/><ellipse rx="4.3577" ry="3.1607" fill="#e1e11e"/><ellipse rx="4.354" ry="3.1555" fill="#abab54"/><ellipse rx="4.3502" ry="3.1503" fill="#75758a"/><ellipse rx="4.3465" ry="3.1452" fill="#4141be"/><ellipse rx="4.3427" ry="3.14" fill="#0303fc"/><ellipse rx="4.3175" ry="3.105" fill="#0000ff"/><ellipse rx="4.2922" ry="3.0698" fill="#0202fd"/><ellipse rx="4.2672" ry="3.0347" fill="#3b3bc4"/><ellipse rx="4.2635" ry="3.0294" fill="#6f6f90"/><ellipse rx="4.2597" ry="3.0241" fill="#a4a45b"/><ellipse rx="4.256" ry="3.0189" fill="#dada25"/><ellipse rx="4.2522" ry="3.0136" fill="#ffee00"/><ellipse rx="4.2485" ry="3.0083" fill="#ffb900"/><ellipse rx="4.2447" ry="3.003" fill="#ff8400"/><ellipse rx="4.2407" ry="2.9973" fill="#ff4e00"/><ellipse rx="4.2365" ry="2.9913" fill="#ff0900"/><ellipse rx="4.2237" ry="2.9732" fill="#ff0000"/><ellipse rx="4.199" ry="2.938" fill="#ff0200"/><ellipse rx="4.1745" ry="2.9028" fill="#ff3c00"/><ellipse rx="4.1702" ry="2.8967" fill="#ff7000"/><ellipse rx="4.1662" ry="2.891" fill="#ffa500"/><ellipse rx="4.1625" ry="2.8856" fill="#ffd900"/><ellipse rx="4.1587" ry="2.8801" fill="#efef10"/><ellipse rx="4.155" ry="2.8747" fill="#b9b946"/><ellipse rx="4.1512" ry="2.8693" fill="#84847b"/><ellipse rx="4.1475" ry="2.8639" fill="#4f4fb0"/><ellipse rx="4.1437" ry="2.8584" fill="#1818e7"/><ellipse rx="4.1392" ry="2.8519" fill="#0000ff"/><ellipse rx="4.115" ry="2.8166" fill="#0000ff"/><ellipse rx="4.091" ry="2.7814" fill="#0202fd"/><ellipse rx="4.0672" ry="2.7464" fill="#3b3bc4"/><ellipse rx="4.0635" ry="2.7408" fill="#6f6f90"/><ellipse rx="4.0597" ry="2.7352" fill="#a4a45b"/><ellipse rx="4.056" ry="2.7297" fill="#dada25"/><ellipse rx="4.0522" ry="2.7241" fill="#ffee00"/><ellipse rx="4.0485" ry="2.7185" fill="#ffb900"/><ellipse rx="4.0447" ry="2.7129" fill="#ff8400"/><ellipse rx="4.0407" ry="2.707" fill="#ff4e00"/><ellipse rx="4.0365" ry="2.7006" fill="#ff0800"/><ellipse rx="4.021" ry="2.6774" fill="#ff0000"/><ellipse rx="3.9977" ry="2.6423" fill="#ff0200"/><ellipse rx="3.9745" ry="2.607" fill="#ff3c00"/><ellipse rx="3.9702" ry="2.6006" fill="#ff7000"/><ellipse rx="3.9662" ry="2.5944" fill="#ffa500"/><ellipse rx="3.9625" ry="2.5887" fill="#ffd900"/><ellipse rx="3.9587" ry="2.583" fill="#efef10"/><ellipse rx="3.955" ry="2.5772" fill="#b9b946"/><ellipse rx="3.9512" ry="2.5715" fill="#84847b"/><ellipse rx="3.9475" ry="2.5657" fill="#4f4fb0"/><ellipse rx="3.9437" ry="2.5599" fill="#0c0cf3"/><ellipse rx="3.9347" ry="2.546" fill="#0000ff"/><ellipse rx="3.912" ry="2.5107" fill="#0000ff"/><ellipse rx="3.8895" ry="2.4755" fill="#0202fd"/><ellipse rx="3.8672" ry="2.4404" fill="#3b3bc4"/><ellipse rx="3.8635" ry="2.4345" fill="#6f6f90"/><ellipse rx="3.8597" ry="2.4285" fill="#a4a45b"/><ellipse rx="3.856" ry="2.4225" fill="#dada25"/><ellipse rx="3.8522" ry="2.4166" fill="#ffee00"/><ellipse rx="3.8485" ry="2.4106" fill="#ffb900"/><ellipse rx="3.8447" ry="2.4046" fill="#ff8400"/><ellipse rx="3.8407" ry="2.3982" fill="#ff4e00"/><ellipse rx="3.8365" ry="2.3914" fill="#ff0600"/><ellipse rx="3.8177" ry="2.3612" fill="#ff0000"/><ellipse rx="3.796" ry="2.3259" fill="#ff0300"/><ellipse rx="3.7745" ry="2.2906" fill="#ff3c00"/><ellipse rx="3.7702" ry="2.2836" fill="#ff7000"/><ellipse rx="3.7662" ry="2.277" fill="#ffa500"/><ellipse rx="3.7625" ry="2.2708" fill="#ffd900"/><ellipse rx="3.7587" ry="2.2646" fill="#efef10"/><ellipse rx="3.755" ry="2.2583" fill="#b9b946"/><ellipse rx="3.7512" ry="2.2521" fill="#84847b"/><ellipse rx="3.7475" ry="2.2458" fill="#4f4fb0"/><ellipse rx="3.7437" ry="2.2396" fill="#0808f7"/><ellipse rx="3.73" ry="2.2165" fill="#0000ff"/><ellipse rx="3.7092" ry="2.1814" fill="#0000ff"/><ellipse rx="3.6887" ry="2.1464" fill="#0101fe"/><ellipse rx="3.6682" ry="2.1109" fill="#2f2fd0"/><ellipse rx="3.6642" ry="2.104" fill="#65659a"/><ellipse rx="3.6605" ry="2.0974" fill="#9a9a65"/><ellipse rx="3.6567" ry="2.0909" fill="#d0d02f"/><ellipse rx="3.653" ry="2.0843" fill="#fff800"/><ellipse rx="3.6492" ry="2.0777" fill="#ffc300"/><ellipse rx="3.6455" ry="2.0712" fill="#ff8e00"/><ellipse rx="3.6415" ry="2.0641" fill="#ff5900"/><ellipse rx="3.6375" ry="2.057" fill="#ff2500"/><ellipse rx="3.633" ry="2.0491" fill="#ff0000"/><ellipse rx="3.6132" ry="2.0138" fill="#ff0000"/><ellipse rx="3.5937" ry="1.9786" fill="#ff0300"/><ellipse rx="3.5745" ry="1.9435" fill="#ff3c00"/><ellipse rx="3.5702" ry="1.9356" fill="#ff7000"/><ellipse rx="3.5662" ry="1.9282" fill="#ffa500"/><ellipse rx="3.5625" ry="1.9213" fill="#ffd900"/><ellipse rx="3.5587" ry="1.9143" fill="#efef10"/><ellipse rx="3.555" ry="1.9074" fill="#b9b946"/><ellipse rx="3.5512" ry="1.9004" fill="#84847b"/><ellipse rx="3.5475" ry="1.8933" fill="#4f4fb0"/><ellipse rx="3.5437" ry="1.8863" fill="#1b1be4"/><ellipse rx="3.5397" ry="1.8788" fill="#0000ff"/><ellipse rx="3.5212" ry="1.8437" fill="#0000ff"/><ellipse rx="3.503" ry="1.8086" fill="#0000ff"/><ellipse rx="3.485" ry="1.7735" fill="#0303fc"/><ellipse rx="3.4672" ry="1.7383" fill="#3b3bc4"/><ellipse rx="3.4635" ry="1.7308" fill="#6f6f90"/><ellipse rx="3.4597" ry="1.7233" fill="#a4a45b"/><ellipse rx="3.456" ry="1.7158" fill="#dada25"/><ellipse rx="3.4522" ry="1.7082" fill="#ffee00"/><ellipse rx="3.4485" ry="1.7006" fill="#ffb900"/><ellipse rx="3.4447" ry="1.693" fill="#ff8400"/><ellipse rx="3.4407" ry="1.6849" fill="#ff4e00"/><ellipse rx="3.4365" ry="1.6762" fill="#ff0b00"/><ellipse rx="3.4262" ry="1.655" fill="#ff0000"/><ellipse rx="3.4092" ry="1.6196" fill="#ff0000"/><ellipse rx="3.3927" ry="1.5845" fill="#ff0000"/><ellipse rx="3.3765" ry="1.5494" fill="#ff2600"/><ellipse rx="3.372" ry="1.5396" fill="#ff5a00"/><ellipse rx="3.368" ry="1.5308" fill="#ff8e00"/><ellipse rx="3.364" ry="1.522" fill="#ffc400"/><ellipse rx="3.3602" ry="1.5137" fill="#fff900"/><ellipse rx="3.3565" ry="1.5054" fill="#cfcf30"/><ellipse rx="3.3527" ry="1.497" fill="#999966"/><ellipse rx="3.349" ry="1.4886" fill="#64649b"/><ellipse rx="3.3452" ry="1.4801" fill="#2f2fd0"/><ellipse rx="3.3412" ry="1.471" fill="#0101fe"/><ellipse rx="3.3257" ry="1.4355" fill="#0000ff"/><ellipse rx="3.3107" ry="1.4004" fill="#0000ff"/><ellipse rx="3.296" ry="1.3651" fill="#0000ff"/><ellipse rx="3.2815" ry="1.3298" fill="#0303fc"/><ellipse rx="3.2672" ry="1.2942" fill="#3b3bc4"/><ellipse rx="3.2635" ry="1.2847" fill="#6f6f90"/><ellipse rx="3.2597" ry="1.2751" fill="#a4a45b"/><ellipse rx="3.256" ry="1.2655" fill="#dada25"/><ellipse rx="3.2522" ry="1.2558" fill="#ffee00"/><ellipse rx="3.2485" ry="1.2461" fill="#ffb900"/><ellipse rx="3.2447" ry="1.2363" fill="#ff8400"/><ellipse rx="3.2407" ry="1.2257" fill="#ff4e00"/><ellipse rx="3.2365" ry="1.2145" fill="#ff0900"/><ellipse rx="3.224" ry="1.1808" fill="#ff0000"/><ellipse rx="3.2112" ry="1.1455" fill="#ff0000"/><ellipse rx="3.1987" ry="1.11" fill="#ff0000"/><ellipse rx="3.1867" ry="1.0749" fill="#ff0300"/><ellipse rx="3.175" ry="1.0395" fill="#ff3600"/><ellipse rx="3.1707" ry="1.0265" fill="#ff6a00"/><ellipse rx="3.1667" ry="1.0141" fill="#ff9e00"/><ellipse rx="3.163" ry="1.0023" fill="#ffd200"/><ellipse rx="3.1592" ry=".9904" fill="#f7f708"/><ellipse rx="3.1555" ry=".9784" fill="#c1c13e"/><ellipse rx="3.1517" ry=".9662" fill="#8b8b74"/><ellipse rx="3.148" ry=".9539" fill="#5656a9"/><ellipse rx="3.1442" ry=".9414" fill="#2121de"/><ellipse rx="3.1402" ry=".928" fill="#0000ff"/><ellipse rx="3.13" ry=".8927" fill="#0000ff"/><ellipse rx="3.12" ry=".857" fill="#0000ff"/><ellipse rx="3.1105" ry=".8217" fill="#0000ff"/><ellipse rx="3.1012" ry=".786" fill="#0000ff"/><ellipse rx="3.0925" ry=".7507" fill="#0000ff"/><ellipse rx="3.084" ry=".7149" fill="#0000ff"/><ellipse rx="3.076" ry=".6795" fill="#0202fd"/><ellipse rx="3.0682" ry=".6436" fill="#2f2fd0"/><ellipse rx="3.0642" ry=".6242" fill="#65659a"/><ellipse rx="3.0605" ry=".6055" fill="#9a9a65"/><ellipse rx="3.0567" ry=".5863" fill="#d0d02f"/><ellipse rx="3.053" ry=".5664" fill="#fff800"/><ellipse rx="3.0492" ry=".5458" fill="#ffc300"/><ellipse rx="3.0455" ry=".5245" fill="#ff8e00"/><ellipse rx="3.0415" ry=".5007" fill="#ff5900"/><ellipse rx="3.0375" ry=".4758" fill="#ff2500"/><ellipse rx="3.033" ry=".4462" fill="#ff0100"/><ellipse rx="3.028" ry=".4108" fill="#ff0000"/><ellipse rx="3.0232" ry=".3742" fill="#ff0000"/><ellipse rx="3.019" ry=".3382" fill="#ff0000"/><ellipse rx="3.0152" ry=".3029" fill="#ff0000"/><ellipse rx="3.0117" ry=".2658" fill="#ff0000"/><ellipse rx="3.0087" ry=".2293" fill="#ff0000"/><ellipse rx="3.0062" ry=".1937" fill="#ff0000"/><ellipse rx="3.004" ry=".155" fill="#ff0000"/><ellipse rx="3.0022" ry=".1162" fill="#ff0000"/><ellipse rx="3.001" ry=".0775" fill="#ff0000"/><ellipse rx="3.0002" ry=".0387" fill="#ff0000"/></g>
<g id="cA2" shape-rendering="crispEdges"><ellipse rx="3.65" ry="2.0791" fill="#ffb900"/><ellipse rx="3.6487" ry="2.0769" fill="#ff8a00"/><ellipse rx="3.647" ry="2.0738" fill="#ff5300"/><ellipse rx="3.6452" ry="2.0707" fill="#ff1600"/><ellipse rx="3.6427" ry="2.0663" fill="#ff0000"/><ellipse rx="3.623" ry="2.0313" fill="#ff0000"/><ellipse rx="3.6032" ry="1.9958" fill="#ff0000"/><ellipse rx="3.5837" ry="1.9604" fill="#ff0200"/><ellipse rx="3.5645" ry="1.925" fill="#ff4d00"/><ellipse rx="3.5627" ry="1.9218" fill="#ff8300"/><ellipse rx="3.561" ry="1.9185" fill="#ffba00"/><ellipse rx="3.5592" ry="1.9153" fill="#fff200"/><ellipse rx="3.5575" ry="1.912" fill="#d4d42b"/><ellipse rx="3.5557" ry="1.9088" fill="#9c9c63"/><ellipse rx="3.554" ry="1.9055" fill="#64649b"/><ellipse rx="3.5522" ry="1.9022" fill="#2c2cd3"/><ellipse rx="3.5505" ry="1.899" fill="#0000ff"/><ellipse rx="3.5317" ry="1.8637" fill="#0000ff"/><ellipse rx="3.5132" ry="1.8284" fill="#0000ff"/><ellipse rx="3.495" ry="1.793" fill="#0000ff"/><ellipse rx="3.477" ry="1.7577" fill="#0000ff"/><ellipse rx="3.4592" ry="1.7223" fill="#2626d9"/><ellipse rx="3.4575" ry="1.7188" fill="#5e5ea1"/><ellipse rx="3.4557" ry="1.7153" fill="#969669"/><ellipse rx="3.454" ry="1.7118" fill="#cece31"/><ellipse rx="3.4522" ry="1.7082" fill="#fff800"/><ellipse rx="3.4505" ry="1.7047" fill="#ffc100"/><ellipse rx="3.4487" ry="1.7011" fill="#ff8a00"/><ellipse rx="3.447" ry="1.6976" fill="#ff5300"/><ellipse rx="3.4452" ry="1.694" fill="#ff0400"/><ellipse rx="3.4322" ry="1.6674" fill="#ff0000"/><ellipse rx="3.4152" ry="1.6322" fill="#ff0000"/><ellipse rx="3.3985" ry="1.5968" fill="#ff0000"/><ellipse rx="3.382" ry="1.5614" fill="#ff0000"/><ellipse rx="3.3657" ry="1.5259" fill="#ff2700"/><ellipse rx="3.364" ry="1.522" fill="#ff5d00"/><ellipse rx="3.3622" ry="1.5181" fill="#ff9300"/><ellipse rx="3.3605" ry="1.5143" fill="#ffca00"/><ellipse rx="3.3587" ry="1.5104" fill="#fcfc03"/><ellipse rx="3.357" ry="1.5065" fill="#c4c43b"/><ellipse rx="3.3552" ry="1.5026" fill="#8c8c73"/><ellipse rx="3.3535" ry="1.4987" fill="#5454ab"/><ellipse rx="3.3517" ry="1.4947" fill="#0d0df2"/><ellipse rx="3.3477" ry="1.4857" fill="#0000ff"/><ellipse rx="3.3322" ry="1.4505" fill="#0000ff"/><ellipse rx="3.317" ry="1.4151" fill="#0000ff"/><ellipse rx="3.302" ry="1.3796" fill="#0000ff"/><ellipse rx="3.2875" ry="1.3445" fill="#0000ff"/><ellipse rx="3.2732" ry="1.3093" fill="#0000ff"/><ellipse rx="3.2592" ry="1.2739" fill="#2626d9"/><ellipse rx="3.2575" ry="1.2694" fill="#5e5ea1"/><ellipse rx="3.2557" ry="1.2649" fill="#969669"/><ellipse rx="3.254" ry="1.2604" fill="#cece31"/><ellipse rx="3.2522" ry="1.2558" fill="#fff800"/><ellipse rx="3.2505" ry="1.2513" fill="#ffc100"/><ellipse rx="3.2487" ry="1.2467" fill="#ff8a00"/><ellipse rx="3.247" ry="1.2422" fill="#ff5300"/><ellipse rx="3.2452" ry="1.2376" fill="#ff0a00"/><ellipse rx="3.2397" ry="1.2231" fill="#ff0000"/><ellipse rx="3.2265" ry="1.1876" fill="#ff0000"/><ellipse rx="3.2137" ry="1.1525" fill="#ff0000"/><ellipse rx="3.2012" ry="1.1171" fill="#ff0000"/><ellipse rx="3.189" ry="1.0815" fill="#ff0000"/><ellipse rx="3.1772" ry="1.0464" fill="#ff0000"/><ellipse rx="3.1657" ry="1.0109" fill="#ff2700"/><ellipse rx="3.164" ry="1.0054" fill="#ff5d00"/><ellipse rx="3.1622" ry=".9999" fill="#ff9300"/><ellipse rx="3.1605" ry=".9944" fill="#ffca00"/><ellipse rx="3.1587" ry=".9888" fill="#fcfc03"/><ellipse rx="3.157" ry=".9832" fill="#c4c43b"/><ellipse rx="3.1552" ry=".9775" fill="#8c8c73"/><ellipse rx="3.1535" ry=".9719" fill="#5454ab"/><ellipse rx="3.1517" ry=".9662" fill="#0c0cf3"/><ellipse rx="3.1472" ry=".9514" fill="#0000ff"/><ellipse rx="3.1367" ry=".9161" fill="#0000ff"/><ellipse rx="3.1265" ry=".8803" fill="#0000ff"/><ellipse rx="3.1167" ry=".8451" fill="#0000ff"/><ellipse rx="3.1072" ry=".8093" fill="#0000ff"/><ellipse rx="3.0982" ry=".774" fill="#0000ff"/><ellipse rx="3.0895" ry=".7382" fill="#0000ff"/><ellipse rx="3.0812" ry=".7029" fill="#0000ff"/><ellipse rx="3.0732" ry=".667" fill="#0000ff"/><ellipse rx="3.0657" ry=".6315" fill="#0303fc"/><ellipse rx="3.0585" ry=".5953" fill="#3e3ec1"/><ellipse rx="3.0567" ry=".5863" fill="#767689"/><ellipse rx="3.055" ry=".5771" fill="#aeae51"/><ellipse rx="3.0532" ry=".5677" fill="#e6e619"/><ellipse rx="3.0515" ry=".5583" fill="#ffe000"/><ellipse rx="3.0497" ry=".5486" fill="#ffa900"/><ellipse rx="3.048" ry=".5388" fill="#ff7200"/><ellipse rx="3.0462" ry=".5288" fill="#ff3c00"/><ellipse rx="3.0445" ry=".5186" fill="#ff0400"/><ellipse rx="3.0385" ry=".4822" fill="#ff0000"/><ellipse rx="3.033" ry=".4462" fill="#ff0000"/><ellipse rx="3.028" ry=".4108" fill="#ff0000"/><ellipse rx="3.0232" ry=".3742" fill="#ff0000"/><ellipse rx="3.019" ry=".3382" fill="#ff0000"/><ellipse rx="3.0152" ry=".3029" fill="#ff0000"/><ellipse rx="3.0117" ry=".2658" fill="#ff0000"/><ellipse rx="3.0087" ry=".2293" fill="#ff0000"/><ellipse rx="3.0062" ry=".1937" fill="#ff0000"/><ellipse rx="3.004" ry=".155" fill="#ff0000"/><ellipse rx="3.0022" ry=".1162" fill="#ff0000"/><ellipse rx="3.001" ry=".0775" fill="#ff0000"/><ellipse rx="3.0002" ry=".0387" fill="#ff0000"/></g>
<g id="sC0" shape-rendering="crispEdges"><ellipse rx="7.5" ry="6.8739" fill="#ffc600"/><ellipse rx="7.4952" ry="6.8687" fill="#ff9a00"/><ellipse rx="7.4882" ry="6.861" fill="#ff6600"/><ellipse rx="7.4802" ry="6.8523" fill="#ff3100"/><ellipse rx="7.469" ry="6.84" fill="#ff0b00"/><ellipse rx="7.4367" ry="6.8048" fill="#ff4000"/><ellipse rx="7.427" ry="6.7941" fill="#ff7400"/><ellipse rx="7.4192" ry="6.7857" fill="#ffa900"/><ellipse rx="7.4122" ry="6.778" fill="#ffdd00"/><ellipse rx="7.4057" ry="6.7709" fill="#eded12"/><ellipse rx="7.3992" ry="6.7638" fill="#b9b946"/><ellipse rx="7.3925" ry="6.7564" fill="#84847b"/><ellipse rx="7.385" ry="6.7482" fill="#4f4fb0"/><ellipse rx="7.376" ry="6.7384" fill="#1010ef"/><ellipse rx="7.3502" ry="6.7102" fill="#1717e8"/><ellipse rx="7.3337" ry="6.6921" fill="#4e4eb1"/><ellipse rx="7.3247" ry="6.6822" fill="#83837c"/><ellipse rx="7.3172" ry="6.674" fill="#b7b748"/><ellipse rx="7.3105" ry="6.6666" fill="#ebeb14"/><ellipse rx="7.304" ry="6.6595" fill="#ffdf00"/><ellipse rx="7.2975" ry="6.6523" fill="#ffab00"/><ellipse rx="7.2905" ry="6.6447" fill="#ff7600"/><ellipse rx="7.2827" ry="6.6361" fill="#ff4100"/><ellipse rx="7.273" ry="6.6254" fill="#ff0b00"/><ellipse rx="7.241" ry="6.5903" fill="#ff2f00"/><ellipse rx="7.2297" ry="6.5779" fill="#ff6400"/><ellipse rx="7.2215" ry="6.5689" fill="#ff9800"/><ellipse rx="7.2145" ry="6.5612" fill="#ffcd00"/><ellipse rx="7.2077" ry="6.5538" fill="#fdfd02"/><ellipse rx="7.2012" ry="6.5466" fill="#c8c837"/><ellipse rx="7.1945" ry="6.5392" fill="#93936c"/><ellipse rx="7.1872" ry="6.5312" fill="#5f5fa0"/><ellipse rx="7.179" ry="6.5221" fill="#2a2ad5"/><ellipse rx="7.167" ry="6.5089" fill="#0c0cf3"/><ellipse rx="7.135" ry="6.4737" fill="#4848b7"/><ellipse rx="7.1257" ry="6.4635" fill="#7c7c83"/><ellipse rx="7.1182" ry="6.4552" fill="#b0b04f"/><ellipse rx="7.1115" ry="6.4477" fill="#e3e31c"/><ellipse rx="7.105" ry="6.4406" fill="#ffe700"/><ellipse rx="7.0985" ry="6.4334" fill="#ffb300"/><ellipse rx="7.0917" ry="6.426" fill="#ff7f00"/><ellipse rx="7.0842" ry="6.4177" fill="#ff4b00"/><ellipse rx="7.075" ry="6.4075" fill="#ff0d00"/><ellipse rx="7.0432" ry="6.3724" fill="#ff2800"/><ellipse rx="7.031" ry="6.3588" fill="#ff5d00"/><ellipse rx="7.0225" ry="6.3494" fill="#ff9200"/><ellipse rx="7.0152" ry="6.3414" fill="#ffc700"/><ellipse rx="7.0085" ry="6.334" fill="#fffb00"/><ellipse rx="7.002" ry="6.3268" fill="#cece31"/><ellipse rx="6.9952" ry="6.3193" fill="#9a9a65"/><ellipse rx="6.9882" ry="6.3115" fill="#666699"/><ellipse rx="6.9802" ry="6.3027" fill="#3131ce"/><ellipse rx="6.969" ry="6.2902" fill="#0b0bf4"/><ellipse rx="6.9372" ry="6.255" fill="#3e3ec1"/><ellipse rx="6.9272" ry="6.2439" fill="#73738c"/><ellipse rx="6.9195" ry="6.2353" fill="#a7a758"/><ellipse rx="6.9125" ry="6.2276" fill="#dbdb24"/><ellipse rx="6.906" ry="6.2204" fill="#ffef00"/><ellipse rx="6.8995" ry="6.2131" fill="#ffbb00"/><ellipse rx="6.8927" ry="6.2056" fill="#ff8600"/><ellipse rx="6.8852" ry="6.1973" fill="#ff5100"/><ellipse rx="6.8762" ry="6.1873" fill="#ff0f00"/><ellipse rx="6.8492" ry="6.1573" fill="#ff1900"/><ellipse rx="6.8335" ry="6.1398" fill="#ff5000"/><ellipse rx="6.8245" ry="6.1297" fill="#ff8500"/><ellipse rx="6.817" ry="6.1214" fill="#ffb900"/><ellipse rx="6.8102" ry="6.1139" fill="#ffed00"/><ellipse rx="6.8037" ry="6.1066" fill="#dddd22"/><ellipse rx="6.7972" ry="6.0994" fill="#a9a956"/><ellipse rx="6.7902" ry="6.0916" fill="#74748b"/><ellipse rx="6.7825" ry="6.083" fill="#3f3fc0"/><ellipse rx="6.7725" ry="6.0718" fill="#0b0bf4"/><ellipse rx="6.741" ry="6.0366" fill="#2f2fd0"/><ellipse rx="6.7297" ry="6.0241" fill="#64649b"/><ellipse rx="6.7215" ry="6.0149" fill="#989867"/><ellipse rx="6.7145" ry="6.007" fill="#cdcd32"/><ellipse rx="6.7077" ry="5.9995" fill="#fffd00"/><ellipse rx="6.7012" ry="5.9922" fill="#ffc800"/><ellipse rx="6.6945" ry="5.9847" fill="#ff9300"/><ellipse rx="6.6872" ry="5.9766" fill="#ff5f00"/><ellipse rx="6.679" ry="5.9673" fill="#ff2a00"/><ellipse rx="6.6672" ry="5.9542" fill="#ff0b00"/><ellipse rx="6.636" ry="5.9192" fill="#ff4300"/><ellipse rx="6.6265" ry="5.9085" fill="#ff7800"/><ellipse rx="6.6187" ry="5.8998" fill="#ffac00"/><ellipse rx="6.612" ry="5.8922" fill="#ffdf00"/><ellipse rx="6.6055" ry="5.8849" fill="#ebeb14"/><ellipse rx="6.599" ry="5.8777" fill="#b7b748"/><ellipse rx="6.5922" ry="5.8701" fill="#83837c"/><ellipse rx="6.5847" ry="5.8616" fill="#4e4eb1"/><ellipse rx="6.5757" ry="5.8515" fill="#1010ef"/><ellipse rx="6.5515" ry="5.8243" fill="#1515ea"/><ellipse rx="6.534" ry="5.8046" fill="#4d4db2"/><ellipse rx="6.525" ry="5.7944" fill="#81817e"/><ellipse rx="6.5175" ry="5.786" fill="#b5b54a"/><ellipse rx="6.5107" ry="5.7784" fill="#e9e916"/><ellipse rx="6.5042" ry="5.7711" fill="#ffe100"/><ellipse rx="6.4977" ry="5.7637" fill="#ffac00"/><ellipse rx="6.4907" ry="5.7559" fill="#ff7700"/><ellipse rx="6.483" ry="5.7471" fill="#ff4200"/><ellipse rx="6.4732" ry="5.7361" fill="#ff0b00"/><ellipse rx="6.4422" ry="5.7011" fill="#ff2b00"/><ellipse rx="6.4305" ry="5.6878" fill="#ff5f00"/><ellipse rx="6.4222" ry="5.6785" fill="#ff9400"/><ellipse rx="6.415" ry="5.6703" fill="#ffc900"/><ellipse rx="6.4082" ry="5.6627" fill="#fffd00"/><ellipse rx="6.4017" ry="5.6553" fill="#cccc33"/><ellipse rx="6.395" ry="5.6477" fill="#989867"/><ellipse rx="6.388" ry="5.6397" fill="#64649b"/><ellipse rx="6.3797" ry="5.6304" fill="#2f2fd0"/><ellipse rx="6.3685" ry="5.6176" fill="#0a0af5"/><ellipse rx="6.3375" ry="5.5825" fill="#3d3dc2"/><ellipse rx="6.3275" ry="5.5711" fill="#71718e"/><ellipse rx="6.3197" ry="5.5623" fill="#a5a55a"/><ellipse rx="6.3127" ry="5.5544" fill="#d9d926"/><ellipse rx="6.3062" ry="5.547" fill="#fff100"/><ellipse rx="6.2997" ry="5.5396" fill="#ffbd00"/><ellipse rx="6.293" ry="5.5319" fill="#ff8900"/><ellipse rx="6.2857" ry="5.5236" fill="#ff5500"/><ellipse rx="6.277" ry="5.5137" fill="#ff1000"/><ellipse rx="6.2465" ry="5.4789" fill="#ff1f00"/><ellipse rx="6.2325" ry="5.463" fill="#ff5500"/><ellipse rx="6.2237" ry="5.453" fill="#ff8900"/><ellipse rx="6.2165" ry="5.4447" fill="#ffbd00"/><ellipse rx="6.2097" ry="5.437" fill="#fff100"/><ellipse rx="6.2032" ry="5.4296" fill="#d9d926"/><ellipse rx="6.1967" ry="5.4221" fill="#a5a55a"/><ellipse rx="6.1897" ry="5.4141" fill="#71718e"/><ellipse rx="6.182" ry="5.4053" fill="#3c3cc3"/><ellipse rx="6.1717" ry="5.3936" fill="#0a0af5"/><ellipse rx="6.141" ry="5.3583" fill="#2f2fd0"/><ellipse rx="6.1297" ry="5.3454" fill="#64649b"/><ellipse rx="6.1215" ry="5.336" fill="#989867"/><ellipse rx="6.1145" ry="5.328" fill="#cdcd32"/><ellipse rx="6.1077" ry="5.3202" fill="#fffd00"/><ellipse rx="6.1012" ry="5.3127" fill="#ffc800"/><ellipse rx="6.0945" ry="5.305" fill="#ff9300"/><ellipse rx="6.0872" ry="5.2967" fill="#ff5e00"/><ellipse rx="6.0787" ry="5.2869" fill="#ff2800"/><ellipse rx="6.0665" ry="5.2728" fill="#ff0b00"/><ellipse rx="6.036" ry="5.2377" fill="#ff4300"/><ellipse rx="6.0265" ry="5.2267" fill="#ff7800"/><ellipse rx="6.0187" ry="5.2178" fill="#ffac00"/><ellipse rx="6.012" ry="5.21" fill="#ffdf00"/><ellipse rx="6.0055" ry="5.2025" fill="#ebeb14"/><ellipse rx="5.999" ry="5.195" fill="#b7b748"/><ellipse rx="5.9922" ry="5.1872" fill="#83837c"/><ellipse rx="5.9847" ry="5.1785" fill="#4e4eb1"/><ellipse rx="5.9757" ry="5.1681" fill="#1010ef"/><ellipse rx="5.9515" ry="5.1401" fill="#1515ea"/><ellipse rx="5.934" ry="5.1198" fill="#4d4db2"/><ellipse rx="5.925" ry="5.1094" fill="#81817e"/><ellipse rx="5.9175" ry="5.1007" fill="#b5b54a"/><ellipse rx="5.9107" ry="5.0928" fill="#e9e916"/><ellipse rx="5.9042" ry="5.0853" fill="#ffe100"/><ellipse rx="5.8977" ry="5.0777" fill="#ffad00"/><ellipse rx="5.891" ry="5.0699" fill="#ff7900"/><ellipse rx="5.8832" ry="5.0609" fill="#ff4400"/><ellipse rx="5.8735" ry="5.0496" fill="#ff0b00"/><ellipse rx="5.8432" ry="5.0143" fill="#ff2800"/><ellipse rx="5.831" ry="5.0001" fill="#ff5d00"/><ellipse rx="5.8225" ry="4.9901" fill="#ff9200"/><ellipse rx="5.8152" ry="4.9817" fill="#ffc700"/><ellipse rx="5.8085" ry="4.9738" fill="#fffb00"/><ellipse rx="5.802" ry="4.9662" fill="#cece31"/><ellipse rx="5.7952" ry="4.9583" fill="#9a9a65"/><ellipse rx="5.7882" ry="4.9501" fill="#666699"/><ellipse rx="5.7802" ry="4.9408" fill="#3131ce"/><ellipse rx="5.769" ry="4.9276" fill="#0a0af5"/><ellipse rx="5.739" ry="4.8925" fill="#3737c8"/><ellipse rx="5.7285" ry="4.8801" fill="#6b6b94"/><ellipse rx="5.7205" ry="4.8707" fill="#a0a05f"/><ellipse rx="5.7135" ry="4.8625" fill="#d3d32c"/><ellipse rx="5.707" ry="4.8549" fill="#fff700"/><ellipse rx="5.7005" ry="4.8472" fill="#ffc200"/><ellipse rx="5.6937" ry="4.8393" fill="#ff8e00"/><ellipse rx="5.6865" ry="4.8308" fill="#ff5a00"/><ellipse rx="5.678" ry="4.8208" fill="#ff2400"/><ellipse rx="5.6652" ry="4.8057" fill="#ff0c00"/><ellipse rx="5.6355" ry="4.7706" fill="#ff4600"/><ellipse rx="5.626" ry="4.7594" fill="#ff7a00"/><ellipse rx="5.6185" ry="4.7505" fill="#ffae00"/><ellipse rx="5.6117" ry="4.7425" fill="#ffe100"/><ellipse rx="5.6052" ry="4.7349" fill="#e9e916"/><ellipse rx="5.5987" ry="4.7272" fill="#b5b54a"/><ellipse rx="5.592" ry="4.7192" fill="#81817e"/><ellipse rx="5.5845" ry="4.7103" fill="#4c4cb3"/><ellipse rx="5.5752" ry="4.6993" fill="#0d0df2"/><ellipse rx="5.5457" ry="4.6643" fill="#2020df"/><ellipse rx="5.5322" ry="4.6482" fill="#5656a9"/><ellipse rx="5.5235" ry="4.6378" fill="#8b8b74"/><ellipse rx="5.5162" ry="4.6291" fill="#bfbf40"/><ellipse rx="5.5095" ry="4.6211" fill="#f3f30c"/><ellipse rx="5.503" ry="4.6134" fill="#ffd700"/><ellipse rx="5.4965" ry="4.6056" fill="#ffa300"/><ellipse rx="5.4895" ry="4.5972" fill="#ff6f00"/><ellipse rx="5.4817" ry="4.588" fill="#ff3b00"/><ellipse rx="5.4715" ry="4.5757" fill="#ff0a00"/><ellipse rx="5.4422" ry="4.5407" fill="#ff2b00"/><ellipse rx="5.4305" ry="4.5266" fill="#ff5f00"/><ellipse rx="5.4222" ry="4.5167" fill="#ff9400"/><ellipse rx="5.415" ry="4.508" fill="#ffc900"/><ellipse rx="5.4082" ry="4.4999" fill="#fffd00"/><ellipse rx="5.4017" ry="4.4921" fill="#cccc33"/><ellipse rx="5.395" ry="4.484" fill="#979768"/><ellipse rx="5.3877" ry="4.4752" fill="#62629d"/><ellipse rx="5.3795" ry="4.4653" fill="#2d2dd2"/><ellipse rx="5.3677" ry="4.4512" fill="#0909f6"/><ellipse rx="5.3387" ry="4.4161" fill="#3838c7"/><ellipse rx="5.3282" ry="4.4034" fill="#6d6d92"/><ellipse rx="5.3202" ry="4.3938" fill="#a2a25d"/><ellipse rx="5.3132" ry="4.3853" fill="#d5d52a"/><ellipse rx="5.3067" ry="4.3774" fill="#fff500"/><ellipse rx="5.3002" ry="4.3695" fill="#ffc000"/><ellipse rx="5.2935" ry="4.3613" fill="#ff8c00"/><ellipse rx="5.2862" ry="4.3525" fill="#ff5800"/><ellipse rx="5.2777" ry="4.3422" fill="#ff2300"/><ellipse rx="5.2647" ry="4.3264" fill="#ff0b00"/><ellipse rx="5.236" ry="4.2914" fill="#ff4300"/><ellipse rx="5.2265" ry="4.2798" fill="#ff7800"/><ellipse rx="5.2187" ry="4.2703" fill="#ffac00"/><ellipse rx="5.212" ry="4.262" fill="#ffdf00"/><ellipse rx="5.2055" ry="4.2541" fill="#ebeb14"/><ellipse rx="5.199" ry="4.2461" fill="#b7b748"/><ellipse rx="5.1922" ry="4.2379" fill="#83837c"/><ellipse rx="5.1847" ry="4.2287" fill="#4e4eb1"/><ellipse rx="5.1757" ry="4.2176" fill="#1010ef"/><ellipse rx="5.1515" ry="4.1878" fill="#1515ea"/><ellipse rx="5.134" ry="4.1663" fill="#4d4db2"/><ellipse rx="5.125" ry="4.1552" fill="#81817e"/><ellipse rx="5.1175" ry="4.1459" fill="#b5b54a"/><ellipse rx="5.1107" ry="4.1376" fill="#e9e916"/><ellipse rx="5.1042" ry="4.1296" fill="#ffe100"/><ellipse rx="5.0977" ry="4.1215" fill="#ffad00"/><ellipse rx="5.091" ry="4.1132" fill="#ff7a00"/><ellipse rx="5.0835" ry="4.1039" fill="#ff4600"/><ellipse rx="5.074" ry="4.0921" fill="#ff0c00"/><ellipse rx="5.0457" ry="4.057" fill="#ff2000"/><ellipse rx="5.0322" ry="4.0402" fill="#ff5600"/><ellipse rx="5.0235" ry="4.0293" fill="#ff8b00"/><ellipse rx="5.0162" ry="4.0203" fill="#ffbf00"/><ellipse rx="5.0095" ry="4.0119" fill="#fff300"/><ellipse rx="5.003" ry="4.0037" fill="#d7d728"/><ellipse rx="4.9965" ry="3.9956" fill="#a3a35c"/><ellipse rx="4.9895" ry="3.9869" fill="#6e6e91"/><ellipse rx="4.9815" ry="3.9769" fill="#3939c6"/><ellipse rx="4.9712" ry="3.964" fill="#0909f6"/><ellipse rx="4.9432" ry="3.9288" fill="#2828d7"/><ellipse rx="4.931" ry="3.9134" fill="#5d5da2"/><ellipse rx="4.9225" ry="3.9027" fill="#92926d"/><ellipse rx="4.9152" ry="3.8935" fill="#c7c738"/><ellipse rx="4.9085" ry="3.885" fill="#fbfb04"/><ellipse rx="4.902" ry="3.8768" fill="#ffce00"/><ellipse rx="4.8952" ry="3.8683" fill="#ff9a00"/><ellipse rx="4.8882" ry="3.8594" fill="#ff6500"/><ellipse rx="4.88" ry="3.8489" fill="#ff3000"/><ellipse rx="4.8687" ry="3.8347" fill="#ff0800"/><ellipse rx="4.841" ry="3.7994" fill="#ff2f00"/><ellipse rx="4.8297" ry="3.785" fill="#ff6400"/><ellipse rx="4.8215" ry="3.7745" fill="#ff9800"/><ellipse rx="4.8145" ry="3.7656" fill="#ffcd00"/><ellipse rx="4.8077" ry="3.7569" fill="#fdfd02"/><ellipse rx="4.8012" ry="3.7486" fill="#c8c837"/><ellipse rx="4.7945" ry="3.74" fill="#93936c"/><ellipse rx="4.7872" ry="3.7307" fill="#5e5ea1"/><ellipse rx="4.7787" ry="3.7197" fill="#2929d6"/><ellipse rx="4.7667" ry="3.7043" fill="#0808f7"/><ellipse rx="4.7395" ry="3.6692" fill="#3535ca"/><ellipse rx="4.7287" ry="3.6553" fill="#6a6a95"/><ellipse rx="4.7207" ry="3.6449" fill="#9e9e61"/><ellipse rx="4.7137" ry="3.6359" fill="#d1d12e"/><ellipse rx="4.7072" ry="3.6274" fill="#fff900"/><ellipse rx="4.7007" ry="3.619" fill="#ffc400"/><ellipse rx="4.694" ry="3.6102" fill="#ff9000"/><ellipse rx="4.6867" ry="3.6008" fill="#ff5b00"/><ellipse rx="4.6782" ry="3.5897" fill="#ff2600"/><ellipse rx="4.6657" ry="3.5734" fill="#ff0800"/><ellipse rx="4.6387" ry="3.5381" fill="#ff3800"/><ellipse rx="4.6282" ry="3.5243" fill="#ff6d00"/><ellipse rx="4.6202" ry="3.5138" fill="#ffa200"/><ellipse rx="4.6132" ry="3.5046" fill="#ffd500"/><ellipse rx="4.6067" ry="3.496" fill="#f5f50a"/><ellipse rx="4.6002" ry="3.4874" fill="#c0c03f"/><ellipse rx="4.5935" ry="3.4785" fill="#8c8c73"/><ellipse rx="4.5862" ry="3.469" fill="#5858a7"/><ellipse rx="4.5777" ry="3.4577" fill="#2323dc"/><ellipse rx="4.5645" ry="3.4402" fill="#0909f6"/><ellipse rx="4.538" ry="3.4049" fill="#3b3bc4"/><ellipse rx="4.5277" ry="3.3912" fill="#6f6f90"/><ellipse rx="4.52" ry="3.3809" fill="#a3a35c"/><ellipse rx="4.513" ry="3.3715" fill="#d7d728"/><ellipse rx="4.5065" ry="3.3628" fill="#fff300"/><ellipse rx="4.5" ry="3.3541" fill="#ffbf00"/><ellipse rx="4.4932" ry="3.345" fill="#ff8a00"/><ellipse rx="4.486" ry="3.3353" fill="#ff5600"/><ellipse rx="4.4772" ry="3.3235" fill="#ff2000"/><ellipse rx="4.4635" ry="3.305" fill="#ff0900"/><ellipse rx="4.4375" ry="3.2698" fill="#ff3d00"/><ellipse rx="4.4275" ry="3.2562" fill="#ff7100"/><ellipse rx="4.4197" ry="3.2456" fill="#ffa500"/><ellipse rx="4.4127" ry="3.2361" fill="#ffd900"/><ellipse rx="4.4062" ry="3.2272" fill="#f1f10e"/><ellipse rx="4.3997" ry="3.2184" fill="#bdbd42"/><ellipse rx="4.393" ry="3.2091" fill="#898976"/><ellipse rx="4.3857" ry="3.1992" fill="#5555aa"/><ellipse rx="4.377" ry="3.1872" fill="#1e1ee1"/><ellipse rx="4.3627" ry="3.1676" fill="#0a0af5"/><ellipse rx="4.3372" ry="3.1324" fill="#3e3ec1"/><ellipse rx="4.3272" ry="3.1185" fill="#73738c"/><ellipse rx="4.3195" ry="3.1077" fill="#a7a758"/><ellipse rx="4.3125" ry="3.098" fill="#dbdb24"/><ellipse rx="4.306" ry="3.089" fill="#ffef00"/><ellipse rx="4.2995" ry="3.0799" fill="#ffbb00"/><ellipse rx="4.2927" ry="3.0705" fill="#ff8700"/><ellipse rx="4.2855" ry="3.0603" fill="#ff5300"/><ellipse rx="4.2767" ry="3.048" fill="#ff1d00"/><ellipse rx="4.2622" ry="3.0277" fill="#ff0a00"/><ellipse rx="4.2372" ry="2.9924" fill="#ff3e00"/><ellipse rx="4.2272" ry="2.9782" fill="#ff7300"/><ellipse rx="4.2195" ry="2.9672" fill="#ffa700"/><ellipse rx="4.2125" ry="2.9572" fill="#ffdb00"/><ellipse rx="4.206" ry="2.948" fill="#efef10"/><ellipse rx="4.1995" ry="2.9387" fill="#bbbb44"/><ellipse rx="4.1927" ry="2.929" fill="#868679"/><ellipse rx="4.1852" ry="2.9183" fill="#5252ad"/><ellipse rx="4.1765" ry="2.9057" fill="#1b1be4"/><ellipse rx="4.1615" ry="2.8841" fill="#0a0af5"/><ellipse rx="4.1372" ry="2.849" fill="#3e3ec1"/><ellipse rx="4.1272" ry="2.8345" fill="#73738c"/><ellipse rx="4.1195" ry="2.8232" fill="#a7a758"/><ellipse rx="4.1125" ry="2.8129" fill="#dbdb24"/><ellipse rx="4.106" ry="2.8034" fill="#ffef00"/><ellipse rx="4.0995" ry="2.7939" fill="#ffbb00"/><ellipse rx="4.0927" ry="2.784" fill="#ff8600"/><ellipse rx="4.0852" ry="2.773" fill="#ff5100"/><ellipse rx="4.0762" ry="2.7597" fill="#ff1a00"/><ellipse rx="4.061" ry="2.7371" fill="#ff0a00"/><ellipse rx="4.0372" ry="2.7017" fill="#ff3e00"/><ellipse rx="4.0272" ry="2.6868" fill="#ff7300"/><ellipse rx="4.0195" ry="2.6751" fill="#ffa700"/><ellipse rx="4.0125" ry="2.6646" fill="#ffdb00"/><ellipse rx="4.006" ry="2.6548" fill="#efef10"/><ellipse rx="3.9995" ry="2.645" fill="#bbbb44"/><ellipse rx="3.9927" ry="2.6348" fill="#868679"/><ellipse rx="3.9852" ry="2.6234" fill="#5151ae"/><ellipse rx="3.9762" ry="2.6097" fill="#1919e6"/><ellipse rx="3.9602" ry="2.5853" fill="#0a0af5"/><ellipse rx="3.9372" ry="2.5499" fill="#3e3ec1"/><ellipse rx="3.9272" ry="2.5344" fill="#73738c"/><ellipse rx="3.9195" ry="2.5224" fill="#a7a758"/><ellipse rx="3.9125" ry="2.5115" fill="#dbdb24"/><ellipse rx="3.906" ry="2.5014" fill="#ffef00"/><ellipse rx="3.8995" ry="2.4912" fill="#ffbb00"/><ellipse rx="3.8927" ry="2.4806" fill="#ff8600"/><ellipse rx="3.8852" ry="2.4688" fill="#ff5100"/><ellipse rx="3.8762" ry="2.4547" fill="#ff1a00"/><ellipse rx="3.8607" ry="2.4301" fill="#ff0800"/><ellipse rx="3.8387" ry="2.395" fill="#ff3800"/><ellipse rx="3.8282" ry="2.3781" fill="#ff6d00"/><ellipse rx="3.8202" ry="2.3652" fill="#ffa200"/><ellipse rx="3.8132" ry="2.3539" fill="#ffd500"/><ellipse rx="3.8067" ry="2.3434" fill="#f5f50a"/><ellipse rx="3.8002" ry="2.3328" fill="#c0c03f"/><ellipse rx="3.7935" ry="2.3218" fill="#8c8c73"/><ellipse rx="3.7862" ry="2.3099" fill="#5858a7"/><ellipse rx="3.7777" ry="2.296" fill="#2323dc"/><ellipse rx="3.7645" ry="2.2741" fill="#0505fa"/><ellipse rx="3.7432" ry="2.2387" fill="#2828d7"/><ellipse rx="3.731" ry="2.2182" fill="#5d5da2"/><ellipse rx="3.7225" ry="2.2039" fill="#92926d"/><ellipse rx="3.7152" ry="2.1916" fill="#c7c738"/><ellipse rx="3.7085" ry="2.1801" fill="#fbfb04"/><ellipse rx="3.702" ry="2.1691" fill="#ffcf00"/><ellipse rx="3.6955" ry="2.1579" fill="#ff9c00"/><ellipse rx="3.6885" ry="2.1459" fill="#ff6800"/><ellipse rx="3.6805" ry="2.1322" fill="#ff3300"/><ellipse rx="3.6695" ry="2.1131" fill="#ff0700"/><ellipse rx="3.6492" ry="2.0777" fill="#ff1900"/><ellipse rx="3.6335" ry="2.05" fill="#ff5000"/><ellipse rx="3.6245" ry="2.034" fill="#ff8500"/><ellipse rx="3.617" ry="2.0206" fill="#ffb900"/><ellipse rx="3.6102" ry="2.0085" fill="#ffed00"/><ellipse rx="3.6037" ry="1.9968" fill="#dddd22"/><ellipse rx="3.5972" ry="1.985" fill="#a9a956"/><ellipse rx="3.5902" ry="1.9723" fill="#74748b"/><ellipse rx="3.5825" ry="1.9581" fill="#4040bf"/><ellipse rx="3.5727" ry="1.9402" fill="#0d0df2"/><ellipse rx="3.5537" ry="1.905" fill="#1111ee"/><ellipse rx="3.535" ry="1.8698" fill="#4848b7"/><ellipse rx="3.5257" ry="1.8523" fill="#7c7c83"/><ellipse rx="3.5182" ry="1.838" fill="#b0b04f"/><ellipse rx="3.5115" ry="1.825" fill="#e3e31c"/><ellipse rx="3.505" ry="1.8125" fill="#ffe700"/><ellipse rx="3.4985" ry="1.7999" fill="#ffb300"/><ellipse rx="3.4917" ry="1.7867" fill="#ff7f00"/><ellipse rx="3.4842" ry="1.772" fill="#ff4b00"/><ellipse rx="3.475" ry="1.7537" fill="#ff1300"/><ellipse rx="3.4572" ry="1.7183" fill="#ff0800"/><ellipse rx="3.4397" ry="1.6828" fill="#ff3400"/><ellipse rx="3.429" ry="1.6607" fill="#ff6800"/><ellipse rx="3.421" ry="1.6442" fill="#ff9c00"/><ellipse rx="3.414" ry="1.6295" fill="#ffd000"/><ellipse rx="3.4075" ry="1.6159" fill="#fbfb04"/><ellipse rx="3.401" ry="1.6021" fill="#c6c639"/><ellipse rx="3.3942" ry="1.5877" fill="#92926d"/><ellipse rx="3.387" ry="1.5722" fill="#5d5da2"/><ellipse rx="3.3785" ry="1.5538" fill="#2727d8"/><ellipse rx="3.3662" ry="1.527" fill="#0404fb"/><ellipse rx="3.3505" ry="1.4919" fill="#1414eb"/><ellipse rx="3.335" ry="1.4568" fill="#4848b7"/><ellipse rx="3.3257" ry="1.4355" fill="#7c7c83"/><ellipse rx="3.3182" ry="1.418" fill="#b0b04f"/><ellipse rx="3.3115" ry="1.4022" fill="#e3e31c"/><ellipse rx="3.305" ry="1.3867" fill="#ffe700"/><ellipse rx="3.2985" ry="1.3712" fill="#ffb300"/><ellipse rx="3.2917" ry="1.3548" fill="#ff7f00"/><ellipse rx="3.2842" ry="1.3365" fill="#ff4b00"/><ellipse rx="3.275" ry="1.3136" fill="#ff1800"/><ellipse rx="3.261" ry="1.2783" fill="#ff0200"/><ellipse rx="3.2472" ry="1.2428" fill="#ff1b00"/><ellipse rx="3.234" ry="1.2078" fill="#ff4d00"/><ellipse rx="3.225" ry="1.1835" fill="#ff8100"/><ellipse rx="3.2175" ry="1.1629" fill="#ffb500"/><ellipse rx="3.2107" ry="1.1441" fill="#ffe900"/><ellipse rx="3.2042" ry="1.1257" fill="#e1e11e"/><ellipse rx="3.1977" ry="1.1071" fill="#adad52"/><ellipse rx="3.191" ry="1.0874" fill="#797986"/><ellipse rx="3.1832" ry="1.0645" fill="#4444bb"/><ellipse rx="3.1737" ry="1.0357" fill="#1717e8"/><ellipse rx="3.1625" ry="1.0007" fill="#0202fd"/><ellipse rx="3.1515" ry=".9654" fill="#0b0bf4"/><ellipse rx="3.1407" ry=".9297" fill="#2e2ed1"/><ellipse rx="3.1305" ry=".8944" fill="#5f5fa0"/><ellipse rx="3.1222" ry=".8651" fill="#94946b"/><ellipse rx="3.115" ry=".8386" fill="#c9c936"/><ellipse rx="3.1082" ry=".8132" fill="#fdfd02"/><ellipse rx="3.1017" ry=".7879" fill="#ffcc00"/><ellipse rx="3.095" ry=".7609" fill="#ff9800"/><ellipse rx="3.088" ry=".7319" fill="#ff6400"/><ellipse rx="3.0797" ry=".6963" fill="#ff3700"/><ellipse rx="3.072" ry=".6612" fill="#ff1700"/><ellipse rx="3.0645" ry=".6254" fill="#ff0500"/><ellipse rx="3.0575" ry=".5902" fill="#ff0100"/><ellipse rx="3.0507" ry=".5541" fill="#ff0700"/><ellipse rx="3.0445" ry=".5186" fill="#ff1600"/><ellipse rx="3.0385" ry=".4822" fill="#ff2c00"/><ellipse rx="3.033" ry=".4462" fill="#ff4700"/><ellipse rx="3.028" ry=".4108" fill="#ff6400"/><ellipse rx="3.0232" ry=".3742" fill="#ff8200"/><ellipse rx="3.019" ry=".3382" fill="#ff9f00"/><ellipse rx="3.0152" ry=".3029" fill="#ffba00"/><ellipse rx="3.0117" ry=".2658" fill="#ffd300"/><ellipse rx="3.0087" ry=".2293" fill="#ffe900"/><ellipse rx="3.0062" ry=".1937" fill="#fffc00"/><ellipse rx="3.004" ry=".155" fill="#f2f20d"/><ellipse rx="3.0022" ry=".1162" fill="#e6e619"/><ellipse rx="3.001" ry=".0775" fill="#dede21"/><ellipse rx="3.0002" ry=".0387" fill="#dada25"/></g>
<g id="sC1" shape-rendering="crispEdges"><ellipse rx="4.5002" ry="3.3544" fill="#ffae00"/><ellipse rx="4.498" ry="3.3514" fill="#ff8400"/><ellipse rx="4.4942" ry="3.3464" fill="#ff4f00"/><ellipse rx="4.4902" ry="3.341" fill="#ff0700"/><ellipse rx="4.4727" ry="3.3175" fill="#ff0000"/><ellipse rx="4.4467" ry="3.2823" fill="#ff0200"/><ellipse rx="4.4207" ry="3.247" fill="#ff3c00"/><ellipse rx="4.4167" ry="3.2416" fill="#ff7000"/><ellipse rx="4.413" ry="3.2364" fill="#ffa400"/><ellipse rx="4.4092" ry="3.2313" fill="#ffda00"/><ellipse rx="4.4055" ry="3.2262" fill="#eeee11"/><ellipse rx="4.4017" ry="3.2211" fill="#b9b946"/><ellipse rx="4.398" ry="3.216" fill="#84847b"/><ellipse rx="4.3942" ry="3.2108" fill="#4f4fb0"/><ellipse rx="4.3902" ry="3.2054" fill="#0606f9"/><ellipse rx="4.3717" ry="3.18" fill="#0000ff"/><ellipse rx="4.3462" ry="3.1448" fill="#0202fd"/><ellipse rx="4.3207" ry="3.1095" fill="#3c3cc3"/><ellipse rx="4.3167" ry="3.1039" fill="#70708f"/><ellipse rx="4.313" ry="3.0987" fill="#a4a45b"/><ellipse rx="4.3092" ry="3.0935" fill="#dada25"/><ellipse rx="4.3055" ry="3.0883" fill="#ffee00"/><ellipse rx="4.3017" ry="3.083" fill="#ffb900"/><ellipse rx="4.298" ry="3.0778" fill="#ff8400"/><ellipse rx="4.2942" ry="3.0726" fill="#ff4f00"/><ellipse rx="4.2902" ry="3.067" fill="#ff0600"/><ellipse rx="4.2705" ry="3.0393" fill="#ff0000"/><ellipse rx="4.2455" ry="3.004" fill="#ff0200"/><ellipse rx="4.2207" ry="2.969" fill="#ff3c00"/><ellipse rx="4.2167" ry="2.9633" fill="#ff7000"/><ellipse rx="4.213" ry="2.9579" fill="#ffa400"/><ellipse rx="4.2092" ry="2.9526" fill="#ffda00"/><ellipse rx="4.2055" ry="2.9472" fill="#eeee11"/><ellipse rx="4.2017" ry="2.9419" fill="#b9b946"/><ellipse rx="4.198" ry="2.9365" fill="#84847b"/><ellipse rx="4.1942" ry="2.9312" fill="#4f4fb0"/><ellipse rx="4.1902" ry="2.9254" fill="#0505fa"/><ellipse rx="4.1692" ry="2.8953" fill="#0000ff"/><ellipse rx="4.145" ry="2.8602" fill="#0202fd"/><ellipse rx="4.1207" ry="2.825" fill="#3c3cc3"/><ellipse rx="4.1167" ry="2.8192" fill="#70708f"/><ellipse rx="4.113" ry="2.8137" fill="#a4a45b"/><ellipse rx="4.1092" ry="2.8082" fill="#dada25"/><ellipse rx="4.1055" ry="2.8027" fill="#ffee00"/><ellipse rx="4.1017" ry="2.7972" fill="#ffb900"/><ellipse rx="4.098" ry="2.7917" fill="#ff8400"/><ellipse rx="4.0942" ry="2.7862" fill="#ff4f00"/><ellipse rx="4.0902" ry="2.7803" fill="#ff0500"/><ellipse rx="4.068" ry="2.7475" fill="#ff0000"/><ellipse rx="4.0442" ry="2.7122" fill="#ff0200"/><ellipse rx="4.0207" ry="2.677" fill="#ff3c00"/><ellipse rx="4.0167" ry="2.671" fill="#ff7000"/><ellipse rx="4.013" ry="2.6654" fill="#ffa400"/><ellipse rx="4.0092" ry="2.6597" fill="#ffda00"/><ellipse rx="4.0055" ry="2.6541" fill="#eeee11"/><ellipse rx="4.0017" ry="2.6484" fill="#b9b946"/><ellipse rx="3.998" ry="2.6427" fill="#84847b"/><ellipse rx="3.9942" ry="2.6371" fill="#4f4fb0"/><ellipse rx="3.9902" ry="2.631" fill="#0505fa"/><ellipse rx="3.9677" ry="2.5967" fill="#0000ff"/><ellipse rx="3.9447" ry="2.5615" fill="#0101fe"/><ellipse rx="3.922" ry="2.5263" fill="#2c2cd3"/><ellipse rx="3.918" ry="2.5201" fill="#61619e"/><ellipse rx="3.914" ry="2.5138" fill="#969669"/><ellipse rx="3.9102" ry="2.508" fill="#cbcb34"/><ellipse rx="3.9065" ry="2.5021" fill="#fffd00"/><ellipse rx="3.9027" ry="2.4963" fill="#ffc700"/><ellipse rx="3.899" ry="2.4904" fill="#ff9200"/><ellipse rx="3.8952" ry="2.4845" fill="#ff5d00"/><ellipse rx="3.8912" ry="2.4783" fill="#ff2600"/><ellipse rx="3.887" ry="2.4716" fill="#ff0000"/><ellipse rx="3.8647" ry="2.4365" fill="#ff0000"/><ellipse rx="3.8427" ry="2.4014" fill="#ff0200"/><ellipse rx="3.8207" ry="2.366" fill="#ff3c00"/><ellipse rx="3.8167" ry="2.3596" fill="#ff7000"/><ellipse rx="3.813" ry="2.3535" fill="#ffa400"/><ellipse rx="3.8092" ry="2.3474" fill="#ffda00"/><ellipse rx="3.8055" ry="2.3413" fill="#eeee11"/><ellipse rx="3.8017" ry="2.3352" fill="#b9b946"/><ellipse rx="3.798" ry="2.3291" fill="#84847b"/><ellipse rx="3.7942" ry="2.323" fill="#4f4fb0"/><ellipse rx="3.7902" ry="2.3165" fill="#1313ec"/><ellipse rx="3.7842" ry="2.3066" fill="#0000ff"/><ellipse rx="3.763" ry="2.2716" fill="#0000ff"/><ellipse rx="3.7417" ry="2.2362" fill="#0202fd"/><ellipse rx="3.7207" ry="2.2009" fill="#3c3cc3"/><ellipse rx="3.7167" ry="2.1941" fill="#70708f"/><ellipse rx="3.713" ry="2.1878" fill="#a4a45b"/><ellipse rx="3.7092" ry="2.1814" fill="#dada25"/><ellipse rx="3.7055" ry="2.175" fill="#ffee00"/><ellipse rx="3.7017" ry="2.1686" fill="#ffb900"/><ellipse rx="3.698" ry="2.1622" fill="#ff8400"/><ellipse rx="3.6942" ry="2.1558" fill="#ff4f00"/><ellipse rx="3.6902" ry="2.1489" fill="#ff0c00"/><ellipse rx="3.6807" ry="2.1326" fill="#ff0000"/><ellipse rx="3.6605" ry="2.0974" fill="#ff0000"/><ellipse rx="3.6405" ry="2.0623" fill="#ff0300"/><ellipse rx="3.6207" ry="2.0273" fill="#ff3c00"/><ellipse rx="3.6167" ry="2.0201" fill="#ff7000"/><ellipse rx="3.613" ry="2.0134" fill="#ffa400"/><ellipse rx="3.6092" ry="2.0067" fill="#ffda00"/><ellipse rx="3.6055" ry="1.9999" fill="#eeee11"/><ellipse rx="3.6017" ry="1.9931" fill="#b9b946"/><ellipse rx="3.598" ry="1.9864" fill="#84847b"/><ellipse rx="3.5942" ry="1.9796" fill="#4f4fb0"/><ellipse rx="3.5902" ry="1.9723" fill="#0909f6"/><ellipse rx="3.577" ry="1.9481" fill="#0000ff"/><ellipse rx="3.558" ry="1.9129" fill="#0000ff"/><ellipse rx="3.5392" ry="1.8778" fill="#0303fc"/><ellipse rx="3.5207" ry="1.8427" fill="#3c3cc3"/><ellipse rx="3.5167" ry="1.8351" fill="#70708f"/><ellipse rx="3.513" ry="1.8279" fill="#a4a45b"/><ellipse rx="3.5092" ry="1.8207" fill="#dada25"/><ellipse rx="3.5055" ry="1.8134" fill="#ffee00"/><ellipse rx="3.5017" ry="1.8062" fill="#ffb900"/><ellipse rx="3.498" ry="1.7989" fill="#ff8400"/><ellipse rx="3.4942" ry="1.7916" fill="#ff4f00"/><ellipse rx="3.4902" ry="1.7838" fill="#ff0600"/><ellipse rx="3.4725" ry="1.7488" fill="#ff0000"/><ellipse rx="3.455" ry="1.7138" fill="#ff0000"/><ellipse rx="3.4377" ry="1.6787" fill="#ff0300"/><ellipse rx="3.4207" ry="1.6436" fill="#ff3c00"/><ellipse rx="3.4167" ry="1.6353" fill="#ff7000"/><ellipse rx="3.413" ry="1.6274" fill="#ffa400"/><ellipse rx="3.4092" ry="1.6196" fill="#ffda00"/><ellipse rx="3.4055" ry="1.6117" fill="#eeee11"/><ellipse rx="3.4017" ry="1.6037" fill="#b9b946"/><ellipse rx="3.398" ry="1.5957" fill="#84847b"/><ellipse rx="3.3942" ry="1.5877" fill="#4f4fb0"/><ellipse rx="3.3902" ry="1.5792" fill="#1111ee"/><ellipse rx="3.3835" ry="1.5646" fill="#0000ff"/><ellipse rx="3.3672" ry="1.5292" fill="#0000ff"/><ellipse rx="3.3515" ry="1.4942" fill="#0000ff"/><ellipse rx="3.336" ry="1.4591" fill="#0303fc"/><ellipse rx="3.3207" ry="1.4239" fill="#3c3cc3"/><ellipse rx="3.3167" ry="1.4145" fill="#70708f"/><ellipse rx="3.313" ry="1.4057" fill="#a4a45b"/><ellipse rx="3.3092" ry="1.3968" fill="#dada25"/><ellipse rx="3.3055" ry="1.3879" fill="#ffee00"/><ellipse rx="3.3017" ry="1.379" fill="#ffb900"/><ellipse rx="3.298" ry="1.37" fill="#ff8400"/><ellipse rx="3.2942" ry="1.3609" fill="#ff4f00"/><ellipse rx="3.2902" ry="1.3512" fill="#ff0900"/><ellipse rx="3.2775" ry="1.3199" fill="#ff0000"/><ellipse rx="3.2635" ry="1.2847" fill="#ff0000"/><ellipse rx="3.2497" ry="1.2493" fill="#ff0000"/><ellipse rx="3.2362" ry="1.2138" fill="#ff0000"/><ellipse rx="3.2232" ry="1.1787" fill="#ff1e00"/><ellipse rx="3.219" ry="1.167" fill="#ff5300"/><ellipse rx="3.215" ry="1.156" fill="#ff8800"/><ellipse rx="3.2112" ry="1.1455" fill="#ffbd00"/><ellipse rx="3.2075" ry="1.1349" fill="#fff300"/><ellipse rx="3.2037" ry="1.1243" fill="#d5d52a"/><ellipse rx="3.2" ry="1.1136" fill="#a0a05f"/><ellipse rx="3.1962" ry="1.1027" fill="#6c6c93"/><ellipse rx="3.1925" ry="1.0918" fill="#3838c7"/><ellipse rx="3.1885" ry="1.0801" fill="#0303fc"/><ellipse rx="3.1767" ry="1.0449" fill="#0000ff"/><ellipse rx="3.1652" ry="1.0094" fill="#0000ff"/><ellipse rx="3.1542" ry=".9743" fill="#0000ff"/><ellipse rx="3.1435" ry=".9389" fill="#0000ff"/><ellipse rx="3.133" ry=".9032" fill="#0000ff"/><ellipse rx="3.123" ry=".8678" fill="#2121de"/><ellipse rx="3.1187" ry=".8524" fill="#5656a9"/><ellipse rx="3.1147" ry=".8377" fill="#8c8c73"/><ellipse rx="3.111" ry=".8236" fill="#c1c13e"/><ellipse rx="3.1072" ry=".8093" fill="#f6f609"/><ellipse rx="3.1035" ry=".7948" fill="#ffd200"/><ellipse rx="3.0997" ry=".78" fill="#ff9c00"/><ellipse rx="3.096" ry=".765" fill="#ff6700"/><ellipse rx="3.092" ry=".7486" fill="#ff3200"/><ellipse rx="3.088" ry=".7319" fill="#ff0300"/><ellipse rx="3.0797" ry=".6963" fill="#ff0000"/><ellipse rx="3.072" ry=".6612" fill="#ff0000"/><ellipse rx="3.0645" ry=".6254" fill="#ff0000"/><ellipse rx="3.0575" ry=".5902" fill="#ff0000"/><ellipse rx="3.0507" ry=".5541" fill="#ff0000"/><ellipse rx="3.0445" ry=".5186" fill="#ff0000"/><ellipse rx="3.0385" ry=".4822" fill="#ff0000"/><ellipse rx="3.033" ry=".4462" fill="#ff0000"/><ellipse rx="3.028" ry=".4108" fill="#ff0000"/><ellipse rx="3.0232" ry=".3742" fill="#ff1e00"/><ellipse rx="3.019" ry=".3382" fill="#ff5100"/><ellipse rx="3.0152" ry=".3029" fill="#ff8300"/><ellipse rx="3.0117" ry=".2658" fill="#ffb000"/><ellipse rx="3.0087" ry=".2293" fill="#ffd800"/><ellipse rx="3.0062" ry=".1937" fill="#fffa00"/><ellipse rx="3.004" ry=".155" fill="#e7e718"/><ellipse rx="3.0022" ry=".1162" fill="#d2d22d"/><ellipse rx="3.001" ry=".0775" fill="#c3c33c"/><ellipse rx="3.0002" ry=".0387" fill="#bcbc43"/></g>
<g id="sC2" shape-rendering="crispEdges"><ellipse rx="3.65" ry="2.0791" fill="#ff0000"/><ellipse rx="3.6322" ry="2.0477" fill="#ff0000"/><ellipse rx="3.6125" ry="2.0125" fill="#ff2500"/><ellipse rx="3.6107" ry="2.0094" fill="#ff5c00"/><ellipse rx="3.609" ry="2.0062" fill="#ff9400"/><ellipse rx="3.6072" ry="2.0031" fill="#ffcc00"/><ellipse rx="3.6055" ry="1.9999" fill="#fafa05"/><ellipse rx="3.6037" ry="1.9968" fill="#c2c23d"/><ellipse rx="3.602" ry="1.9936" fill="#8a8a75"/><ellipse rx="3.6002" ry="1.9904" fill="#5353ac"/><ellipse rx="3.5985" ry="1.9873" fill="#0505fa"/><ellipse rx="3.588" ry="1.9682" fill="#0000ff"/><ellipse rx="3.5687" ry="1.9329" fill="#0000ff"/><ellipse rx="3.5497" ry="1.8976" fill="#0000ff"/><ellipse rx="3.531" ry="1.8622" fill="#0000ff"/><ellipse rx="3.5125" ry="1.8269" fill="#2525da"/><ellipse rx="3.5107" ry="1.8236" fill="#5c5ca3"/><ellipse rx="3.509" ry="1.8202" fill="#94946b"/><ellipse rx="3.5072" ry="1.8168" fill="#cccc33"/><ellipse rx="3.5055" ry="1.8134" fill="#fffa00"/><ellipse rx="3.5037" ry="1.81" fill="#ffc200"/><ellipse rx="3.502" ry="1.8067" fill="#ff8a00"/><ellipse rx="3.5002" ry="1.8033" fill="#ff5300"/><ellipse rx="3.4985" ry="1.7999" fill="#ff0300"/><ellipse rx="3.482" ry="1.7676" fill="#ff0000"/><ellipse rx="3.4642" ry="1.7323" fill="#ff0000"/><ellipse rx="3.4467" ry="1.6971" fill="#ff0000"/><ellipse rx="3.4295" ry="1.6618" fill="#ff0000"/><ellipse rx="3.4125" ry="1.6264" fill="#ff2500"/><ellipse rx="3.4107" ry="1.6227" fill="#ff5c00"/><ellipse rx="3.409" ry="1.619" fill="#ff9400"/><ellipse rx="3.4072" ry="1.6153" fill="#ffcc00"/><ellipse rx="3.4055" ry="1.6117" fill="#fafa05"/><ellipse rx="3.4037" ry="1.608" fill="#c2c23d"/><ellipse rx="3.402" ry="1.6042" fill="#8a8a75"/><ellipse rx="3.4002" ry="1.6005" fill="#5353ac"/><ellipse rx="3.3985" ry="1.5968" fill="#0707f8"/><ellipse rx="3.391" ry="1.5808" fill="#0000ff"/><ellipse rx="3.3747" ry="1.5456" fill="#0000ff"/><ellipse rx="3.3587" ry="1.5104" fill="#0000ff"/><ellipse rx="3.343" ry="1.475" fill="#0000ff"/><ellipse rx="3.3275" ry="1.4395" fill="#0000ff"/><ellipse rx="3.3125" ry="1.4045" fill="#2525da"/><ellipse rx="3.3107" ry="1.4004" fill="#5c5ca3"/><ellipse rx="3.309" ry="1.3962" fill="#94946b"/><ellipse rx="3.3072" ry="1.3921" fill="#cccc33"/><ellipse rx="3.3055" ry="1.3879" fill="#fffa00"/><ellipse rx="3.3037" ry="1.3837" fill="#ffc200"/><ellipse rx="3.302" ry="1.3796" fill="#ff8a00"/><ellipse rx="3.3002" ry="1.3754" fill="#ff5300"/><ellipse rx="3.2985" ry="1.3712" fill="#ff0c00"/><ellipse rx="3.2942" ry="1.3609" fill="#ff0000"/><ellipse rx="3.2797" ry="1.3254" fill="#ff0000"/><ellipse rx="3.2657" ry="1.2904" fill="#ff0000"/><ellipse rx="3.252" ry="1.2552" fill="#ff0000"/><ellipse rx="3.2385" ry="1.2198" fill="#ff0000"/><ellipse rx="3.2252" ry="1.1842" fill="#ff0000"/><ellipse rx="3.2125" ry="1.149" fill="#ff2500"/><ellipse rx="3.2107" ry="1.1441" fill="#ff5c00"/><ellipse rx="3.209" ry="1.1392" fill="#ff9400"/><ellipse rx="3.2072" ry="1.1342" fill="#ffcc00"/><ellipse rx="3.2055" ry="1.1293" fill="#fafa05"/><ellipse rx="3.2037" ry="1.1243" fill="#c2c23d"/><ellipse rx="3.202" ry="1.1193" fill="#8a8a75"/><ellipse rx="3.2002" ry="1.1143" fill="#5353ac"/><ellipse rx="3.1985" ry="1.1092" fill="#0505fa"/><ellipse rx="3.1875" ry="1.0771" fill="#0000ff"/><ellipse rx="3.1757" ry="1.0418" fill="#0000ff"/><ellipse rx="3.1642" ry="1.0062" fill="#0000ff"/><ellipse rx="3.1532" ry=".9711" fill="#0000ff"/><ellipse rx="3.1425" ry=".9356" fill="#0000ff"/><ellipse rx="3.1322" ry=".9005" fill="#0000ff"/><ellipse rx="3.1222" ry=".8651" fill="#0000ff"/><ellipse rx="3.1125" ry=".8293" fill="#2525da"/><ellipse rx="3.1107" ry=".8227" fill="#5c5ca3"/><ellipse rx="3.109" ry=".816" fill="#94946b"/><ellipse rx="3.1072" ry=".8093" fill="#cccc33"/><ellipse rx="3.1055" ry=".8026" fill="#fffa00"/><ellipse rx="3.1037" ry=".7958" fill="#ffc200"/><ellipse rx="3.102" ry=".7889" fill="#ff8a00"/><ellipse rx="3.1002" ry=".782" fill="#ff5300"/><ellipse rx="3.0985" ry=".775" fill="#ff0700"/><ellipse rx="3.0902" ry=".7414" fill="#ff0000"/><ellipse rx="3.082" ry=".7062" fill="#ff0000"/><ellipse rx="3.074" ry=".6704" fill="#ff0000"/><ellipse rx="3.0665" ry=".6352" fill="#ff0000"/><ellipse rx="3.0592" ry=".5992" fill="#ff0000"/><ellipse rx="3.0525" ry=".5637" fill="#ff0000"/><ellipse rx="3.046" ry=".5274" fill="#ff0000"/><ellipse rx="3.04" ry=".4915" fill="#ff0000"/><ellipse rx="3.0345" ry=".4563" fill="#ff0000"/><ellipse rx="3.0292" ry=".4199" fill="#ff0000"/><ellipse rx="3.0245" ry=".3842" fill="#ff0000"/><ellipse rx="3.0202" ry=".3492" fill="#ff0000"/><ellipse rx="3.0162" ry=".3127" fill="#ff0000"/><ellipse rx="3.0127" ry=".2769" fill="#ff1d00"/><ellipse rx="3.011" ry=".2571" fill="#ff5400"/><ellipse rx="3.0092" ry=".2358" fill="#ff8c00"/><ellipse rx="3.0075" ry=".2123" fill="#ffc400"/><ellipse rx="3.0057" ry=".1858" fill="#fffc00"/><ellipse rx="3.004" ry=".155" fill="#caca35"/><ellipse rx="3.0022" ry=".1162" fill="#9a9a65"/><ellipse rx="3.001" ry=".0775" fill="#7a7a85"/><ellipse rx="3.0002" ry=".0387" fill="#6b6b94"/></g>
<g id="cC0" shape-rendering="crispEdges"><ellipse rx="7.5" ry="6.8739" fill="#0909f6"/><ellipse rx="7.4932" ry="6.8665" fill="#2828d7"/><ellipse rx="7.481" ry="6.8531" fill="#5d5da2"/><ellipse rx="7.4725" ry="6.8438" fill="#92926d"/><ellipse rx="7.4652" ry="6.8359" fill="#c7c738"/><ellipse rx="7.4585" ry="6.8286" fill="#fbfb04"/><ellipse rx="7.452" ry="6.8215" fill="#ffce00"/><ellipse rx="7.4452" ry="6.8141" fill="#ff9a00"/><ellipse rx="7.4382" ry="6.8064" fill="#ff6500"/><ellipse rx="7.43" ry="6.7974" fill="#ff3000"/><ellipse rx="7.4187" ry="6.7851" fill="#ff0b00"/><ellipse rx="7.3867" ry="6.7501" fill="#ff4000"/><ellipse rx="7.377" ry="6.7394" fill="#ff7400"/><ellipse rx="7.3692" ry="6.731" fill="#ffa900"/><ellipse rx="7.3622" ry="6.7233" fill="#ffdd00"/><ellipse rx="7.3557" ry="6.7162" fill="#eded12"/><ellipse rx="7.3492" ry="6.7091" fill="#b9b946"/><ellipse rx="7.3425" ry="6.7017" fill="#84847b"/><ellipse rx="7.335" ry="6.6934" fill="#4f4fb0"/><ellipse rx="7.326" ry="6.6836" fill="#1010ef"/><ellipse rx="7.3002" ry="6.6553" fill="#1717e8"/><ellipse rx="7.2837" ry="6.6372" fill="#4e4eb1"/><ellipse rx="7.2747" ry="6.6274" fill="#83837c"/><ellipse rx="7.2672" ry="6.6191" fill="#b7b748"/><ellipse rx="7.2605" ry="6.6117" fill="#ebeb14"/><ellipse rx="7.254" ry="6.6046" fill="#ffdf00"/><ellipse rx="7.2475" ry="6.5974" fill="#ffab00"/><ellipse rx="7.2405" ry="6.5898" fill="#ff7600"/><ellipse rx="7.2327" ry="6.5812" fill="#ff4100"/><ellipse rx="7.223" ry="6.5705" fill="#ff0b00"/><ellipse rx="7.191" ry="6.5353" fill="#ff2f00"/><ellipse rx="7.1797" ry="6.5229" fill="#ff6400"/><ellipse rx="7.1715" ry="6.5139" fill="#ff9800"/><ellipse rx="7.1645" ry="6.5062" fill="#ffcd00"/><ellipse rx="7.1577" ry="6.4987" fill="#fdfd02"/><ellipse rx="7.1512" ry="6.4916" fill="#c8c837"/><ellipse rx="7.1445" ry="6.4841" fill="#93936c"/><ellipse rx="7.1372" ry="6.4761" fill="#5e5ea1"/><ellipse rx="7.1287" ry="6.4668" fill="#2929d6"/><ellipse rx="7.1167" ry="6.4535" fill="#0c0cf3"/><ellipse rx="7.085" ry="6.4185" fill="#4848b7"/><ellipse rx="7.0757" ry="6.4083" fill="#7c7c83"/><ellipse rx="7.0682" ry="6.4" fill="#b0b04f"/><ellipse rx="7.0615" ry="6.3926" fill="#e3e31c"/><ellipse rx="7.055" ry="6.3854" fill="#ffe700"/><ellipse rx="7.0485" ry="6.3782" fill="#ffb300"/><ellipse rx="7.0417" ry="6.3707" fill="#ff7f00"/><ellipse rx="7.0342" ry="6.3624" fill="#ff4b00"/><ellipse rx="7.025" ry="6.3522" fill="#ff0d00"/><ellipse rx="6.9932" ry="6.3171" fill="#ff2800"/><ellipse rx="6.981" ry="6.3035" fill="#ff5d00"/><ellipse rx="6.9725" ry="6.2941" fill="#ff9200"/><ellipse rx="6.9652" ry="6.2861" fill="#ffc700"/><ellipse rx="6.9585" ry="6.2786" fill="#fffb00"/><ellipse rx="6.952" ry="6.2714" fill="#cece31"/><ellipse rx="6.9452" ry="6.2639" fill="#9a9a65"/><ellipse rx="6.9382" ry="6.2561" fill="#666699"/><ellipse rx="6.9302" ry="6.2473" fill="#3131ce"/><ellipse rx="6.919" ry="6.2348" fill="#0b0bf4"/><ellipse rx="6.8872" ry="6.1995" fill="#3e3ec1"/><ellipse rx="6.8772" ry="6.1884" fill="#73738c"/><ellipse rx="6.8695" ry="6.1798" fill="#a7a758"/><ellipse rx="6.8625" ry="6.172" fill="#dbdb24"/><ellipse rx="6.856" ry="6.1648" fill="#ffef00"/><ellipse rx="6.8495" ry="6.1576" fill="#ffbb00"/><ellipse rx="6.8427" ry="6.1501" fill="#ff8600"/><ellipse rx="6.8352" ry="6.1417" fill="#ff5100"/><ellipse rx="6.8262" ry="6.1317" fill="#ff0f00"/><ellipse rx="6.7992" ry="6.1016" fill="#ff1900"/><ellipse rx="6.7835" ry="6.0841" fill="#ff5000"/><ellipse rx="6.7745" ry="6.074" fill="#ff8500"/><ellipse rx="6.767" ry="6.0657" fill="#ffb900"/><ellipse rx="6.7602" ry="6.0581" fill="#ffed00"/><ellipse rx="6.7537" ry="6.0509" fill="#dddd22"/><ellipse rx="6.7472" ry="6.0436" fill="#a9a956"/><ellipse rx="6.7402" ry="6.0358" fill="#74748b"/><ellipse rx="6.7325" ry="6.0272" fill="#3f3fc0"/><ellipse rx="6.7225" ry="6.016" fill="#0b0bf4"/><ellipse rx="6.691" ry="5.9808" fill="#2f2fd0"/><ellipse rx="6.6797" ry="5.9682" fill="#64649b"/><ellipse rx="6.6715" ry="5.9589" fill="#989867"/><ellipse rx="6.6645" ry="5.9511" fill="#cdcd32"/><ellipse rx="6.6577" ry="5.9435" fill="#fffd00"/><ellipse rx="6.6512" ry="5.9363" fill="#ffc800"/><ellipse rx="6.6445" ry="5.9287" fill="#ff9300"/><ellipse rx="6.6372" ry="5.9206" fill="#ff5f00"/><ellipse rx="6.629" ry="5.9113" fill="#ff2a00"/><ellipse rx="6.6172" ry="5.8981" fill="#ff0b00"/><ellipse rx="6.586" ry="5.8631" fill="#ff4300"/><ellipse rx="6.5765" ry="5.8524" fill="#ff7800"/><ellipse rx="6.5687" ry="5.8437" fill="#ffac00"/><ellipse rx="6.562" ry="5.8361" fill="#ffdf00"/><ellipse rx="6.5555" ry="5.8288" fill="#ebeb14"/><ellipse rx="6.549" ry="5.8215" fill="#b7b748"/><ellipse rx="6.5422" ry="5.8139" fill="#83837c"/><ellipse rx="6.5347" ry="5.8054" fill="#4e4eb1"/><ellipse rx="6.5257" ry="5.7953" fill="#1010ef"/><ellipse rx="6.5015" ry="5.768" fill="#1515ea"/><ellipse rx="6.484" ry="5.7482" fill="#4d4db2"/><ellipse rx="6.475" ry="5.7381" fill="#81817e"/><ellipse rx="6.4675" ry="5.7296" fill="#b5b54a"/><ellipse rx="6.4607" ry="5.722" fill="#e9e916"/><ellipse rx="6.4542" ry="5.7147" fill="#ffe100"/><ellipse rx="6.4477" ry="5.7073" fill="#ffac00"/><ellipse rx="6.4407" ry="5.6994" fill="#ff7700"/><ellipse rx="6.433" ry="5.6906" fill="#ff4200"/><ellipse rx="6.4232" ry="5.6796" fill="#ff0b00"/><ellipse rx="6.3922" ry="5.6445" fill="#ff2b00"/><ellipse rx="6.3805" ry="5.6312" fill="#ff5f00"/><ellipse rx="6.3722" ry="5.6219" fill="#ff9400"/><ellipse rx="6.365" ry="5.6137" fill="#ffc900"/><ellipse rx="6.3582" ry="5.606" fill="#fffd00"/><ellipse rx="6.3517" ry="5.5986" fill="#cccc33"/><ellipse rx="6.345" ry="5.591" fill="#989867"/><ellipse rx="6.338" ry="5.583" fill="#64649b"/><ellipse rx="6.3297" ry="5.5737" fill="#2e2ed1"/><ellipse rx="6.3182" ry="5.5606" fill="#0b0bf4"/><ellipse rx="6.2872" ry="5.5254" fill="#3e3ec1"/><ellipse rx="6.2772" ry="5.514" fill="#73738c"/><ellipse rx="6.2695" ry="5.5051" fill="#a7a758"/><ellipse rx="6.2625" ry="5.4972" fill="#dbdb24"/><ellipse rx="6.256" ry="5.4898" fill="#ffef00"/><ellipse rx="6.2495" ry="5.4824" fill="#ffbb00"/><ellipse rx="6.2427" ry="5.4747" fill="#ff8600"/><ellipse rx="6.2352" ry="5.4661" fill="#ff5200"/><ellipse rx="6.2265" ry="5.4561" fill="#ff0f00"/><ellipse rx="6.1957" ry="5.421" fill="#ff2000"/><ellipse rx="6.1822" ry="5.4056" fill="#ff5600"/><ellipse rx="6.1735" ry="5.3956" fill="#ff8b00"/><ellipse rx="6.1662" ry="5.3873" fill="#ffbf00"/><ellipse rx="6.1595" ry="5.3795" fill="#fff300"/><ellipse rx="6.153" ry="5.3721" fill="#d7d728"/><ellipse rx="6.1465" ry="5.3646" fill="#a3a35c"/><ellipse rx="6.1395" ry="5.3566" fill="#6f6f90"/><ellipse rx="6.1317" ry="5.3477" fill="#3b3bc4"/><ellipse rx="6.1215" ry="5.336" fill="#0a0af5"/><ellipse rx="6.091" ry="5.301" fill="#2f2fd0"/><ellipse rx="6.0797" ry="5.288" fill="#64649b"/><ellipse rx="6.0715" ry="5.2786" fill="#989867"/><ellipse rx="6.0645" ry="5.2705" fill="#cdcd32"/><ellipse rx="6.0577" ry="5.2627" fill="#fffd00"/><ellipse rx="6.0512" ry="5.2552" fill="#ffc800"/><ellipse rx="6.0445" ry="5.2475" fill="#ff9300"/><ellipse rx="6.0372" ry="5.2391" fill="#ff5e00"/><ellipse rx="6.0287" ry="5.2293" fill="#ff2800"/><ellipse rx="6.0165" ry="5.2152" fill="#ff0b00"/><ellipse rx="5.986" ry="5.18" fill="#ff4300"/><ellipse rx="5.9765" ry="5.169" fill="#ff7800"/><ellipse rx="5.9687" ry="5.16" fill="#ffac00"/><ellipse rx="5.962" ry="5.1522" fill="#ffdf00"/><ellipse rx="5.9555" ry="5.1447" fill="#ebeb14"/><ellipse rx="5.949" ry="5.1372" fill="#b7b748"/><ellipse rx="5.9422" ry="5.1294" fill="#83837c"/><ellipse rx="5.9347" ry="5.1207" fill="#4e4eb1"/><ellipse rx="5.9257" ry="5.1102" fill="#1010ef"/><ellipse rx="5.9015" ry="5.0821" fill="#1515ea"/><ellipse rx="5.884" ry="5.0618" fill="#4d4db2"/><ellipse rx="5.875" ry="5.0513" fill="#81817e"/><ellipse rx="5.8675" ry="5.0426" fill="#b5b54a"/><ellipse rx="5.8607" ry="5.0347" fill="#e9e916"/><ellipse rx="5.8542" ry="5.0272" fill="#ffe100"/><ellipse rx="5.8477" ry="5.0196" fill="#ffac00"/><ellipse rx="5.8407" ry="5.0114" fill="#ff7700"/><ellipse rx="5.833" ry="5.0024" fill="#ff4200"/><ellipse rx="5.8232" ry="4.991" fill="#ff0b00"/><ellipse rx="5.7932" ry="4.956" fill="#ff2800"/><ellipse rx="5.781" ry="4.9417" fill="#ff5d00"/><ellipse rx="5.7725" ry="4.9317" fill="#ff9200"/><ellipse rx="5.7652" ry="4.9232" fill="#ffc700"/><ellipse rx="5.7585" ry="4.9153" fill="#fffb00"/><ellipse rx="5.752" ry="4.9077" fill="#cece31"/><ellipse rx="5.7452" ry="4.8998" fill="#9a9a65"/><ellipse rx="5.7382" ry="4.8916" fill="#666699"/><ellipse rx="5.7302" ry="4.8822" fill="#3131ce"/><ellipse rx="5.719" ry="4.869" fill="#0a0af5"/><ellipse rx="5.689" ry="4.8337" fill="#3737c8"/><ellipse rx="5.6785" ry="4.8213" fill="#6b6b94"/><ellipse rx="5.6705" ry="4.8119" fill="#a0a05f"/><ellipse rx="5.6635" ry="4.8037" fill="#d3d32c"/><ellipse rx="5.657" ry="4.796" fill="#fff700"/><ellipse rx="5.6505" ry="4.7883" fill="#ffc200"/><ellipse rx="5.6437" ry="4.7804" fill="#ff8e00"/><ellipse rx="5.6365" ry="4.7718" fill="#ff5a00"/><ellipse rx="5.628" ry="4.7618" fill="#ff2400"/><ellipse rx="5.6152" ry="4.7467" fill="#ff0c00"/><ellipse rx="5.5855" ry="4.7115" fill="#ff4600"/><ellipse rx="5.576" ry="4.7002" fill="#ff7a00"/><ellipse rx="5.5685" ry="4.6913" fill="#ffae00"/><ellipse rx="5.5617" ry="4.6833" fill="#ffe100"/><ellipse rx="5.5552" ry="4.6756" fill="#e9e916"/><ellipse rx="5.5487" ry="4.6678" fill="#b5b54a"/><ellipse rx="5.542" ry="4.6598" fill="#81817e"/><ellipse rx="5.5345" ry="4.6509" fill="#4c4cb3"/><ellipse rx="5.5252" ry="4.6399" fill="#0d0df2"/><ellipse rx="5.4957" ry="4.6047" fill="#2020df"/><ellipse rx="5.4822" ry="4.5886" fill="#5656a9"/><ellipse rx="5.4735" ry="4.5781" fill="#8b8b74"/><ellipse rx="5.4662" ry="4.5695" fill="#bfbf40"/><ellipse rx="5.4595" ry="4.5614" fill="#f3f30c"/><ellipse rx="5.453" ry="4.5536" fill="#ffd700"/><ellipse rx="5.4465" ry="4.5458" fill="#ffa300"/><ellipse rx="5.4395" ry="4.5374" fill="#ff6f00"/><ellipse rx="5.4317" ry="4.5281" fill="#ff3b00"/><ellipse rx="5.4215" ry="4.5158" fill="#ff0a00"/><ellipse rx="5.3922" ry="4.4807" fill="#ff2b00"/><ellipse rx="5.3805" ry="4.4665" fill="#ff5f00"/><ellipse rx="5.3722" ry="4.4566" fill="#ff9400"/><ellipse rx="5.365" ry="4.4478" fill="#ffc900"/><ellipse rx="5.3582" ry="4.4397" fill="#fffd00"/><ellipse rx="5.3517" ry="4.4318" fill="#cccc33"/><ellipse rx="5.345" ry="4.4237" fill="#979768"/><ellipse rx="5.3377" ry="4.4149" fill="#62629d"/><ellipse rx="5.3295" ry="4.4049" fill="#2d2dd2"/><ellipse rx="5.3177" ry="4.3907" fill="#0909f6"/><ellipse rx="5.2887" ry="4.3556" fill="#3838c7"/><ellipse rx="5.2782" ry="4.3428" fill="#6d6d92"/><ellipse rx="5.2702" ry="4.3331" fill="#a2a25d"/><ellipse rx="5.2632" ry="4.3246" fill="#d5d52a"/><ellipse rx="5.2567" ry="4.3166" fill="#fff500"/><ellipse rx="5.2502" ry="4.3087" fill="#ffc000"/><ellipse rx="5.2435" ry="4.3005" fill="#ff8c00"/><ellipse rx="5.2362" ry="4.2917" fill="#ff5800"/><ellipse rx="5.2275" ry="4.281" fill="#ff2100"/><ellipse rx="5.2137" ry="4.2642" fill="#ff0c00"/><ellipse rx="5.185" ry="4.229" fill="#ff4800"/><ellipse rx="5.1757" ry="4.2176" fill="#ff7c00"/><ellipse rx="5.1682" ry="4.2084" fill="#ffb000"/><ellipse rx="5.1615" ry="4.2001" fill="#ffe300"/><ellipse rx="5.155" ry="4.1921" fill="#e7e718"/><ellipse rx="5.1485" ry="4.1841" fill="#b3b34c"/><ellipse rx="5.1417" ry="4.1758" fill="#7f7f80"/><ellipse rx="5.1342" ry="4.1666" fill="#4b4bb4"/><ellipse rx="5.125" ry="4.1552" fill="#0d0df2"/><ellipse rx="5.0965" ry="4.12" fill="#1f1fe0"/><ellipse rx="5.0825" ry="4.1027" fill="#5555aa"/><ellipse rx="5.0737" ry="4.0918" fill="#898976"/><ellipse rx="5.0665" ry="4.0828" fill="#bdbd42"/><ellipse rx="5.0597" ry="4.0744" fill="#f1f10e"/><ellipse rx="5.0532" ry="4.0664" fill="#ffd900"/><ellipse rx="5.0467" ry="4.0583" fill="#ffa500"/><ellipse rx="5.0397" ry="4.0496" fill="#ff7100"/><ellipse rx="5.032" ry="4.0399" fill="#ff3d00"/><ellipse rx="5.022" ry="4.0275" fill="#ff0a00"/><ellipse rx="4.9937" ry="3.9922" fill="#ff2600"/><ellipse rx="4.9812" ry="3.9765" fill="#ff5c00"/><ellipse rx="4.9727" ry="3.9659" fill="#ff9000"/><ellipse rx="4.9655" ry="3.9568" fill="#ffc500"/><ellipse rx="4.9587" ry="3.9483" fill="#fff900"/><ellipse rx="4.9522" ry="3.9401" fill="#d1d12e"/><ellipse rx="4.9457" ry="3.932" fill="#9d9d62"/><ellipse rx="4.9387" ry="3.9232" fill="#696996"/><ellipse rx="4.9307" ry="3.9131" fill="#3535ca"/><ellipse rx="4.92" ry="3.8995" fill="#0808f7"/><ellipse rx="4.8922" ry="3.8645" fill="#2b2bd4"/><ellipse rx="4.8805" ry="3.8496" fill="#5f5fa0"/><ellipse rx="4.8722" ry="3.8391" fill="#94946b"/><ellipse rx="4.865" ry="3.8299" fill="#c9c936"/><ellipse rx="4.8582" ry="3.8213" fill="#fdfd02"/><ellipse rx="4.8517" ry="3.8131" fill="#ffcc00"/><ellipse rx="4.845" ry="3.8045" fill="#ff9800"/><ellipse rx="4.838" ry="3.7956" fill="#ff6400"/><ellipse rx="4.8297" ry="3.785" fill="#ff2f00"/><ellipse rx="4.8185" ry="3.7707" fill="#ff0800"/><ellipse rx="4.791" ry="3.7355" fill="#ff2f00"/><ellipse rx="4.7797" ry="3.721" fill="#ff6400"/><ellipse rx="4.7715" ry="3.7104" fill="#ff9800"/><ellipse rx="4.7645" ry="3.7014" fill="#ffcd00"/><ellipse rx="4.7577" ry="3.6927" fill="#fdfd02"/><ellipse rx="4.7512" ry="3.6843" fill="#c8c837"/><ellipse rx="4.7445" ry="3.6756" fill="#93936c"/><ellipse rx="4.7372" ry="3.6663" fill="#5e5ea1"/><ellipse rx="4.7287" ry="3.6553" fill="#2828d7"/><ellipse rx="4.7165" ry="3.6394" fill="#0808f7"/><ellipse rx="4.6895" ry="3.6044" fill="#3535ca"/><ellipse rx="4.6787" ry="3.5904" fill="#6a6a95"/><ellipse rx="4.6707" ry="3.5799" fill="#9e9e61"/><ellipse rx="4.6637" ry="3.5708" fill="#d1d12e"/><ellipse rx="4.6572" ry="3.5623" fill="#fff900"/><ellipse rx="4.6507" ry="3.5538" fill="#ffc400"/><ellipse rx="4.644" ry="3.545" fill="#ff9000"/><ellipse rx="4.6367" ry="3.5355" fill="#ff5b00"/><ellipse rx="4.6282" ry="3.5243" fill="#ff2500"/><ellipse rx="4.6155" ry="3.5075" fill="#ff0800"/><ellipse rx="4.5887" ry="3.4723" fill="#ff3800"/><ellipse rx="4.5782" ry="3.4584" fill="#ff6d00"/><ellipse rx="4.5702" ry="3.4478" fill="#ffa200"/><ellipse rx="4.5632" ry="3.4385" fill="#ffd500"/><ellipse rx="4.5567" ry="3.4299" fill="#f5f50a"/><ellipse rx="4.5502" ry="3.4212" fill="#c0c03f"/><ellipse rx="4.5435" ry="3.4122" fill="#8c8c73"/><ellipse rx="4.5362" ry="3.4026" fill="#5858a7"/><ellipse rx="4.5275" ry="3.3909" fill="#2222dd"/><ellipse rx="4.5142" ry="3.3732" fill="#0909f6"/><ellipse rx="4.488" ry="3.338" fill="#3b3bc4"/><ellipse rx="4.4777" ry="3.3242" fill="#6f6f90"/><ellipse rx="4.47" ry="3.3137" fill="#a3a35c"/><ellipse rx="4.463" ry="3.3043" fill="#d7d728"/><ellipse rx="4.4565" ry="3.2955" fill="#fff300"/><ellipse rx="4.45" ry="3.2867" fill="#ffbf00"/><ellipse rx="4.4432" ry="3.2776" fill="#ff8a00"/><ellipse rx="4.436" ry="3.2677" fill="#ff5600"/><ellipse rx="4.4272" ry="3.2558" fill="#ff1f00"/><ellipse rx="4.4132" ry="3.2368" fill="#ff0900"/><ellipse rx="4.3875" ry="3.2016" fill="#ff3d00"/><ellipse rx="4.3775" ry="3.1879" fill="#ff7100"/><ellipse rx="4.3697" ry="3.1772" fill="#ffa500"/><ellipse rx="4.3627" ry="3.1676" fill="#ffd900"/><ellipse rx="4.3562" ry="3.1586" fill="#f1f10e"/><ellipse rx="4.3497" ry="3.1497" fill="#bdbd42"/><ellipse rx="4.343" ry="3.1403" fill="#898976"/><ellipse rx="4.3357" ry="3.1303" fill="#5555aa"/><ellipse rx="4.327" ry="3.1182" fill="#1e1ee1"/><ellipse rx="4.3125" ry="3.098" fill="#0a0af5"/><ellipse rx="4.2872" ry="3.0628" fill="#3e3ec1"/><ellipse rx="4.2772" ry="3.0487" fill="#73738c"/><ellipse rx="4.2695" ry="3.0379" fill="#a7a758"/><ellipse rx="4.2625" ry="3.028" fill="#dbdb24"/><ellipse rx="4.256" ry="3.0189" fill="#ffef00"/><ellipse rx="4.2495" ry="3.0097" fill="#ffbb00"/><ellipse rx="4.2427" ry="3.0002" fill="#ff8600"/><ellipse rx="4.2352" ry="2.9895" fill="#ff5200"/><ellipse rx="4.2265" ry="2.9771" fill="#ff1c00"/><ellipse rx="4.2117" ry="2.9562" fill="#ff0a00"/><ellipse rx="4.1872" ry="2.9211" fill="#ff3e00"/><ellipse rx="4.1772" ry="2.9068" fill="#ff7300"/><ellipse rx="4.1695" ry="2.8956" fill="#ffa700"/><ellipse rx="4.1625" ry="2.8856" fill="#ffdb00"/><ellipse rx="4.156" ry="2.8762" fill="#efef10"/><ellipse rx="4.1495" ry="2.8668" fill="#bbbb44"/><ellipse rx="4.1427" ry="2.857" fill="#868679"/><ellipse rx="4.1352" ry="2.8461" fill="#5151ae"/><ellipse rx="4.1262" ry="2.833" fill="#1a1ae5"/><ellipse rx="4.1107" ry="2.8104" fill="#0b0bf4"/><ellipse rx="4.0867" ry="2.7752" fill="#4040bf"/><ellipse rx="4.077" ry="2.7608" fill="#74748b"/><ellipse rx="4.0692" ry="2.7493" fill="#a9a956"/><ellipse rx="4.0622" ry="2.739" fill="#dddd22"/><ellipse rx="4.0557" ry="2.7293" fill="#ffed00"/><ellipse rx="4.0492" ry="2.7196" fill="#ffb900"/><ellipse rx="4.0425" ry="2.7096" fill="#ff8400"/><ellipse rx="4.035" ry="2.6984" fill="#ff4f00"/><ellipse rx="4.026" ry="2.6849" fill="#ff1700"/><ellipse rx="4.0092" ry="2.6597" fill="#ff0c00"/><ellipse rx="3.986" ry="2.6245" fill="#ff4300"/><ellipse rx="3.9765" ry="2.6101" fill="#ff7800"/><ellipse rx="3.9687" ry="2.5983" fill="#ffac00"/><ellipse rx="3.962" ry="2.5879" fill="#ffdf00"/><ellipse rx="3.9555" ry="2.578" fill="#ebeb14"/><ellipse rx="3.949" ry="2.568" fill="#b7b748"/><ellipse rx="3.9422" ry="2.5576" fill="#83837c"/><ellipse rx="3.9347" ry="2.546" fill="#4e4eb1"/><ellipse rx="3.9257" ry="2.5321" fill="#1515ea"/><ellipse rx="3.908" ry="2.5045" fill="#0d0df2"/><ellipse rx="3.8855" ry="2.4692" fill="#4646b9"/><ellipse rx="3.876" ry="2.4543" fill="#7a7a85"/><ellipse rx="3.8685" ry="2.4424" fill="#aeae51"/><ellipse rx="3.8617" ry="2.4317" fill="#e1e11e"/><ellipse rx="3.8552" ry="2.4214" fill="#ffe900"/><ellipse rx="3.8487" ry="2.411" fill="#ffb500"/><ellipse rx="3.842" ry="2.4002" fill="#ff8100"/><ellipse rx="3.8345" ry="2.3882" fill="#ff4d00"/><ellipse rx="3.8255" ry="2.3737" fill="#ff1400"/><ellipse rx="3.807" ry="2.3438" fill="#ff0e00"/><ellipse rx="3.7855" ry="2.3087" fill="#ff4600"/><ellipse rx="3.776" ry="2.2931" fill="#ff7a00"/><ellipse rx="3.7685" ry="2.2807" fill="#ffae00"/><ellipse rx="3.7617" ry="2.2695" fill="#ffe100"/><ellipse rx="3.7552" ry="2.2587" fill="#e9e916"/><ellipse rx="3.7487" ry="2.2479" fill="#b5b54a"/><ellipse rx="3.742" ry="2.2366" fill="#81817e"/><ellipse rx="3.7345" ry="2.2241" fill="#4d4db2"/><ellipse rx="3.7255" ry="2.2089" fill="#1313ec"/><ellipse rx="3.706" ry="2.1759" fill="#0e0ef1"/><ellipse rx="3.6855" ry="2.1408" fill="#4646b9"/><ellipse rx="3.676" ry="2.1244" fill="#7a7a85"/><ellipse rx="3.6685" ry="2.1114" fill="#aeae51"/><ellipse rx="3.6617" ry="2.0996" fill="#e1e11e"/><ellipse rx="3.6552" ry="2.0883" fill="#ffe900"/><ellipse rx="3.6487" ry="2.0769" fill="#ffb500"/><ellipse rx="3.642" ry="2.065" fill="#ff8100"/><ellipse rx="3.6345" ry="2.0517" fill="#ff4d00"/><ellipse rx="3.6255" ry="2.0357" fill="#ff1400"/><ellipse rx="3.6067" ry="2.0022" fill="#ff0c00"/><ellipse rx="3.5872" ry="1.9668" fill="#ff3e00"/><ellipse rx="3.5772" ry="1.9485" fill="#ff7300"/><ellipse rx="3.5695" ry="1.9343" fill="#ffa700"/><ellipse rx="3.5625" ry="1.9213" fill="#ffdb00"/><ellipse rx="3.556" ry="1.9092" fill="#efef10"/><ellipse rx="3.5495" ry="1.8971" fill="#bbbb44"/><ellipse rx="3.5427" ry="1.8844" fill="#868679"/><ellipse rx="3.5352" ry="1.8703" fill="#5252ad"/><ellipse rx="3.5265" ry="1.8537" fill="#1b1be4"/><ellipse rx="3.5115" ry="1.825" fill="#0404fb"/><ellipse rx="3.4932" ry="1.7896" fill="#2828d7"/><ellipse rx="3.481" ry="1.7656" fill="#5d5da2"/><ellipse rx="3.4725" ry="1.7488" fill="#92926d"/><ellipse rx="3.4652" ry="1.7343" fill="#c7c738"/><ellipse rx="3.4585" ry="1.7208" fill="#fbfb04"/><ellipse rx="3.452" ry="1.7077" fill="#ffce00"/><ellipse rx="3.4452" ry="1.694" fill="#ff9a00"/><ellipse rx="3.4382" ry="1.6798" fill="#ff6500"/><ellipse rx="3.43" ry="1.6628" fill="#ff3000"/><ellipse rx="3.4187" ry="1.6395" fill="#ff0700"/><ellipse rx="3.402" ry="1.6042" fill="#ff1200"/><ellipse rx="3.3855" ry="1.569" fill="#ff4600"/><ellipse rx="3.376" ry="1.5483" fill="#ff7a00"/><ellipse rx="3.3685" ry="1.5319" fill="#ffae00"/><ellipse rx="3.3617" ry="1.517" fill="#ffe100"/><ellipse rx="3.3552" ry="1.5026" fill="#e9e916"/><ellipse rx="3.3487" ry="1.488" fill="#b5b54a"/><ellipse rx="3.342" ry="1.4727" fill="#81817e"/><ellipse rx="3.3345" ry="1.4556" fill="#4d4db2"/><ellipse rx="3.3255" ry="1.4349" fill="#1818e7"/><ellipse rx="3.3105" ry="1.3998" fill="#0303fc"/><ellipse rx="3.2957" ry="1.3645" fill="#2020df"/><ellipse rx="3.2822" ry="1.3316" fill="#5656a9"/><ellipse rx="3.2735" ry="1.3099" fill="#8b8b74"/><ellipse rx="3.2662" ry="1.2917" fill="#bfbf40"/><ellipse rx="3.2595" ry="1.2745" fill="#f3f30c"/><ellipse rx="3.253" ry="1.2578" fill="#ffd700"/><ellipse rx="3.2465" ry="1.2409" fill="#ffa300"/><ellipse rx="3.2395" ry="1.2224" fill="#ff6e00"/><ellipse rx="3.2315" ry="1.2011" fill="#ff3900"/><ellipse rx="3.221" ry="1.1725" fill="#ff0e00"/><ellipse rx="3.2082" ry="1.137" fill="#ff0300"/><ellipse rx="3.196" ry="1.102" fill="#ff1c00"/><ellipse rx="3.184" ry="1.0667" fill="#ff4d00"/><ellipse rx="3.175" ry="1.0395" fill="#ff8100"/><ellipse rx="3.1675" ry="1.0164" fill="#ffb500"/><ellipse rx="3.1607" ry=".9952" fill="#ffe900"/><ellipse rx="3.1542" ry=".9743" fill="#e1e11e"/><ellipse rx="3.1477" ry=".9531" fill="#acac53"/><ellipse rx="3.1407" ry=".9297" fill="#777788"/><ellipse rx="3.133" ry=".9032" fill="#4242bd"/><ellipse rx="3.1232" ry=".8687" fill="#1818e7"/><ellipse rx="3.1135" ry=".833" fill="#0303fc"/><ellipse rx="3.1042" ry=".7977" fill="#0404fb"/><ellipse rx="3.0952" ry=".762" fill="#1818e7"/><ellipse rx="3.0867" ry=".7267" fill="#3c3cc3"/><ellipse rx="3.0785" ry=".6908" fill="#6a6a95"/><ellipse rx="3.0707" ry=".6554" fill="#9e9e61"/><ellipse rx="3.0637" ry=".6217" fill="#d1d12e"/><ellipse rx="3.0572" ry=".5889" fill="#fff900"/><ellipse rx="3.0507" ry=".5541" fill="#ffc600"/><ellipse rx="3.0445" ry=".5186" fill="#ff9800"/><ellipse rx="3.0385" ry=".4822" fill="#ff7000"/><ellipse rx="3.033" ry=".4462" fill="#ff4f00"/><ellipse rx="3.028" ry=".4108" fill="#ff3500"/><ellipse rx="3.0232" ry=".3742" fill="#ff2100"/><ellipse rx="3.019" ry=".3382" fill="#ff1300"/><ellipse rx="3.0152" ry=".3029" fill="#ff0a00"/><ellipse rx="3.0117" ry=".2658" fill="#ff0400"/><ellipse rx="3.0087" ry=".2293" fill="#ff0100"/><ellipse rx="3.0062" ry=".1937" fill="#ff0000"/><ellipse rx="3.004" ry=".155" fill="#ff0000"/><ellipse rx="3.0022" ry=".1162" fill="#ff0100"/><ellipse rx="3.001" ry=".0775" fill="#ff0200"/><ellipse rx="3.0002" ry=".0387" fill="#ff0300"/></g>
<g id="cC1" shape-rendering="crispEdges"><ellipse rx="4.5002" ry="3.3544" fill="#0000ff"/><ellipse rx="4.497" ry="3.3501" fill="#0202fd"/><ellipse rx="4.4707" ry="3.3148" fill="#3c3cc3"/><ellipse rx="4.4667" ry="3.3094" fill="#70708f"/><ellipse rx="4.463" ry="3.3043" fill="#a4a45b"/><ellipse rx="4.4592" ry="3.2992" fill="#dada25"/><ellipse rx="4.4555" ry="3.2942" fill="#ffee00"/><ellipse rx="4.4517" ry="3.2891" fill="#ffb900"/><ellipse rx="4.448" ry="3.284" fill="#ff8400"/><ellipse rx="4.4442" ry="3.2789" fill="#ff4f00"/><ellipse rx="4.4402" ry="3.2735" fill="#ff0600"/><ellipse rx="4.4222" ry="3.249" fill="#ff0000"/><ellipse rx="4.3965" ry="3.2139" fill="#ff0200"/><ellipse rx="4.3707" ry="3.1786" fill="#ff3c00"/><ellipse rx="4.3667" ry="3.1731" fill="#ff7000"/><ellipse rx="4.363" ry="3.1679" fill="#ffa400"/><ellipse rx="4.3592" ry="3.1628" fill="#ffda00"/><ellipse rx="4.3555" ry="3.1576" fill="#eeee11"/><ellipse rx="4.3517" ry="3.1524" fill="#b9b946"/><ellipse rx="4.348" ry="3.1472" fill="#84847b"/><ellipse rx="4.3442" ry="3.1421" fill="#4f4fb0"/><ellipse rx="4.3402" ry="3.1365" fill="#0606f9"/><ellipse rx="4.321" ry="3.1098" fill="#0000ff"/><ellipse rx="4.2957" ry="3.0746" fill="#0202fd"/><ellipse rx="4.2707" ry="3.0396" fill="#3c3cc3"/><ellipse rx="4.2667" ry="3.034" fill="#70708f"/><ellipse rx="4.263" ry="3.0287" fill="#a4a45b"/><ellipse rx="4.2592" ry="3.0234" fill="#dada25"/><ellipse rx="4.2555" ry="3.0182" fill="#ffee00"/><ellipse rx="4.2517" ry="3.0129" fill="#ffb900"/><ellipse rx="4.248" ry="3.0076" fill="#ff8400"/><ellipse rx="4.2442" ry="3.0023" fill="#ff4f00"/><ellipse rx="4.2402" ry="2.9966" fill="#ff0600"/><ellipse rx="4.22" ry="2.9679" fill="#ff0000"/><ellipse rx="4.1952" ry="2.9326" fill="#ff0200"/><ellipse rx="4.1707" ry="2.8974" fill="#ff3c00"/><ellipse rx="4.1667" ry="2.8917" fill="#ff7000"/><ellipse rx="4.163" ry="2.8863" fill="#ffa400"/><ellipse rx="4.1592" ry="2.8809" fill="#ffda00"/><ellipse rx="4.1555" ry="2.8754" fill="#eeee11"/><ellipse rx="4.1517" ry="2.87" fill="#b9b946"/><ellipse rx="4.148" ry="2.8646" fill="#84847b"/><ellipse rx="4.1442" ry="2.8592" fill="#4f4fb0"/><ellipse rx="4.1402" ry="2.8534" fill="#0505fa"/><ellipse rx="4.1185" ry="2.8217" fill="#0000ff"/><ellipse rx="4.0945" ry="2.7866" fill="#0202fd"/><ellipse rx="4.0707" ry="2.7515" fill="#3c3cc3"/><ellipse rx="4.0667" ry="2.7456" fill="#70708f"/><ellipse rx="4.063" ry="2.7401" fill="#a4a45b"/><ellipse rx="4.0592" ry="2.7345" fill="#dada25"/><ellipse rx="4.0555" ry="2.7289" fill="#ffee00"/><ellipse rx="4.0517" ry="2.7234" fill="#ffb900"/><ellipse rx="4.048" ry="2.7178" fill="#ff8400"/><ellipse rx="4.0442" ry="2.7122" fill="#ff4f00"/><ellipse rx="4.0402" ry="2.7062" fill="#ff0600"/><ellipse rx="4.0195" ry="2.6751" fill="#ff0000"/><ellipse rx="3.9962" ry="2.6401" fill="#ff0000"/><ellipse rx="3.973" ry="2.6048" fill="#ff2100"/><ellipse rx="3.9687" ry="2.5983" fill="#ff5600"/><ellipse rx="3.9647" ry="2.5922" fill="#ff8c00"/><ellipse rx="3.961" ry="2.5864" fill="#ffc100"/><ellipse rx="3.9572" ry="2.5807" fill="#fff600"/><ellipse rx="3.9535" ry="2.5749" fill="#d2d22d"/><ellipse rx="3.9497" ry="2.5691" fill="#9c9c63"/><ellipse rx="3.946" ry="2.5634" fill="#686897"/><ellipse rx="3.9422" ry="2.5576" fill="#3535ca"/><ellipse rx="3.9382" ry="2.5514" fill="#0101fe"/><ellipse rx="3.9155" ry="2.5162" fill="#0000ff"/><ellipse rx="3.893" ry="2.481" fill="#0202fd"/><ellipse rx="3.8707" ry="2.446" fill="#3c3cc3"/><ellipse rx="3.8667" ry="2.4396" fill="#70708f"/><ellipse rx="3.863" ry="2.4337" fill="#a4a45b"/><ellipse rx="3.8592" ry="2.4277" fill="#dada25"/><ellipse rx="3.8555" ry="2.4218" fill="#ffee00"/><ellipse rx="3.8517" ry="2.4158" fill="#ffb900"/><ellipse rx="3.848" ry="2.4098" fill="#ff8400"/><ellipse rx="3.8442" ry="2.4038" fill="#ff4f00"/><ellipse rx="3.8402" ry="2.3974" fill="#ff1900"/><ellipse rx="3.8357" ry="2.3902" fill="#ff0000"/><ellipse rx="3.814" ry="2.3551" fill="#ff0000"/><ellipse rx="3.7922" ry="2.3197" fill="#ff0200"/><ellipse rx="3.7707" ry="2.2844" fill="#ff3c00"/><ellipse rx="3.7667" ry="2.2778" fill="#ff7000"/><ellipse rx="3.763" ry="2.2716" fill="#ffa400"/><ellipse rx="3.7592" ry="2.2654" fill="#ffda00"/><ellipse rx="3.7555" ry="2.2592" fill="#eeee11"/><ellipse rx="3.7517" ry="2.2529" fill="#b9b946"/><ellipse rx="3.748" ry="2.2467" fill="#84847b"/><ellipse rx="3.7442" ry="2.2404" fill="#4f4fb0"/><ellipse rx="3.7402" ry="2.2337" fill="#0f0ff0"/><ellipse rx="3.7327" ry="2.2211" fill="#0000ff"/><ellipse rx="3.712" ry="2.1861" fill="#0000ff"/><ellipse rx="3.6912" ry="2.1507" fill="#0202fd"/><ellipse rx="3.6707" ry="2.1153" fill="#3c3cc3"/><ellipse rx="3.6667" ry="2.1083" fill="#70708f"/><ellipse rx="3.663" ry="2.1018" fill="#a4a45b"/><ellipse rx="3.6592" ry="2.0953" fill="#dada25"/><ellipse rx="3.6555" ry="2.0887" fill="#ffee00"/><ellipse rx="3.6517" ry="2.0821" fill="#ffb900"/><ellipse rx="3.648" ry="2.0755" fill="#ff8400"/><ellipse rx="3.6442" ry="2.069" fill="#ff4f00"/><ellipse rx="3.6402" ry="2.0619" fill="#ff0a00"/><ellipse rx="3.6292" ry="2.0424" fill="#ff0000"/><ellipse rx="3.6095" ry="2.0071" fill="#ff0000"/><ellipse rx="3.59" ry="1.9718" fill="#ff0300"/><ellipse rx="3.5707" ry="1.9366" fill="#ff3c00"/><ellipse rx="3.5667" ry="1.9292" fill="#ff7000"/><ellipse rx="3.563" ry="1.9222" fill="#ffa400"/><ellipse rx="3.5592" ry="1.9153" fill="#ffda00"/><ellipse rx="3.5555" ry="1.9083" fill="#eeee11"/><ellipse rx="3.5517" ry="1.9013" fill="#b9b946"/><ellipse rx="3.548" ry="1.8943" fill="#84847b"/><ellipse rx="3.5442" ry="1.8872" fill="#4f4fb0"/><ellipse rx="3.5402" ry="1.8797" fill="#0909f6"/><ellipse rx="3.5272" ry="1.8551" fill="#0000ff"/><ellipse rx="3.5087" ry="1.8197" fill="#0000ff"/><ellipse rx="3.4905" ry="1.7843" fill="#0000ff"/><ellipse rx="3.4725" ry="1.7488" fill="#2727d8"/><ellipse rx="3.4682" ry="1.7403" fill="#5d5da2"/><ellipse rx="3.4642" ry="1.7323" fill="#93936c"/><ellipse rx="3.4605" ry="1.7248" fill="#c8c837"/><ellipse rx="3.4567" ry="1.7173" fill="#fefe01"/><ellipse rx="3.453" ry="1.7097" fill="#ffcb00"/><ellipse rx="3.4492" ry="1.7022" fill="#ff9500"/><ellipse rx="3.4455" ry="1.6945" fill="#ff6000"/><ellipse rx="3.4415" ry="1.6864" fill="#ff2a00"/><ellipse rx="3.4372" ry="1.6777" fill="#ff0100"/><ellipse rx="3.4202" ry="1.6426" fill="#ff0000"/><ellipse rx="3.4035" ry="1.6074" fill="#ff0000"/><ellipse rx="3.387" ry="1.5722" fill="#ff0300"/><ellipse rx="3.3707" ry="1.5369" fill="#ff3c00"/><ellipse rx="3.3667" ry="1.5281" fill="#ff7000"/><ellipse rx="3.363" ry="1.5198" fill="#ffa400"/><ellipse rx="3.3592" ry="1.5115" fill="#ffda00"/><ellipse rx="3.3555" ry="1.5031" fill="#eeee11"/><ellipse rx="3.3517" ry="1.4947" fill="#b9b946"/><ellipse rx="3.348" ry="1.4863" fill="#84847b"/><ellipse rx="3.3442" ry="1.4778" fill="#4f4fb0"/><ellipse rx="3.3402" ry="1.4688" fill="#0b0bf4"/><ellipse rx="3.3295" ry="1.4442" fill="#0000ff"/><ellipse rx="3.3142" ry="1.4086" fill="#0000ff"/><ellipse rx="3.2995" ry="1.3736" fill="#0000ff"/><ellipse rx="3.285" ry="1.3384" fill="#0404fb"/><ellipse rx="3.2707" ry="1.303" fill="#3c3cc3"/><ellipse rx="3.2667" ry="1.2929" fill="#70708f"/><ellipse rx="3.263" ry="1.2834" fill="#a4a45b"/><ellipse rx="3.2592" ry="1.2739" fill="#dada25"/><ellipse rx="3.2555" ry="1.2642" fill="#ffee00"/><ellipse rx="3.2517" ry="1.2545" fill="#ffb900"/><ellipse rx="3.248" ry="1.2448" fill="#ff8400"/><ellipse rx="3.2442" ry="1.235" fill="#ff4f00"/><ellipse rx="3.2402" ry="1.2244" fill="#ff1100"/><ellipse rx="3.2335" ry="1.2065" fill="#ff0000"/><ellipse rx="3.2205" ry="1.1712" fill="#ff0000"/><ellipse rx="3.2077" ry="1.1356" fill="#ff0000"/><ellipse rx="3.1955" ry="1.1006" fill="#ff0000"/><ellipse rx="3.1835" ry="1.0652" fill="#ff0200"/><ellipse rx="3.1717" ry="1.0296" fill="#ff2f00"/><ellipse rx="3.1677" ry="1.0172" fill="#ff6400"/><ellipse rx="3.1637" ry="1.0046" fill="#ff9a00"/><ellipse rx="3.16" ry=".9928" fill="#ffcf00"/><ellipse rx="3.1562" ry=".9808" fill="#f9f906"/><ellipse rx="3.1525" ry=".9686" fill="#c3c33c"/><ellipse rx="3.1487" ry=".9564" fill="#8e8e71"/><ellipse rx="3.145" ry=".9439" fill="#5959a6"/><ellipse rx="3.141" ry=".9305" fill="#2323dc"/><ellipse rx="3.1367" ry=".9161" fill="#0000ff"/><ellipse rx="3.1265" ry=".8803" fill="#0000ff"/><ellipse rx="3.1167" ry=".8451" fill="#0000ff"/><ellipse rx="3.1072" ry=".8093" fill="#0000ff"/><ellipse rx="3.0982" ry=".774" fill="#0000ff"/><ellipse rx="3.0895" ry=".7382" fill="#0000ff"/><ellipse rx="3.0812" ry=".7029" fill="#0000ff"/><ellipse rx="3.0732" ry=".667" fill="#1e1ee1"/><ellipse rx="3.069" ry=".6471" fill="#5353ac"/><ellipse rx="3.065" ry=".6279" fill="#888877"/><ellipse rx="3.0612" ry=".6093" fill="#bdbd42"/><ellipse rx="3.0575" ry=".5902" fill="#f3f30c"/><ellipse rx="3.0537" ry=".5704" fill="#ffd500"/><ellipse rx="3.05" ry=".55" fill="#ffa000"/><ellipse rx="3.0462" ry=".5288" fill="#ff6c00"/><ellipse rx="3.0425" ry=".5068" fill="#ff3800"/><ellipse rx="3.0385" ry=".4822" fill="#ff0700"/><ellipse rx="3.033" ry=".4462" fill="#ff0000"/><ellipse rx="3.028" ry=".4108" fill="#ff0000"/><ellipse rx="3.0232" ry=".3742" fill="#ff0000"/><ellipse rx="3.019" ry=".3382" fill="#ff0000"/><ellipse rx="3.0152" ry=".3029" fill="#ff0000"/><ellipse rx="3.0117" ry=".2658" fill="#ff0000"/><ellipse rx="3.0087" ry=".2293" fill="#ff0000"/><ellipse rx="3.0062" ry=".1937" fill="#ff0000"/><ellipse rx="3.004" ry=".155" fill="#ff0000"/><ellipse rx="3.0022" ry=".1162" fill="#ff0000"/><ellipse rx="3.001" ry=".0775" fill="#ff0000"/><ellipse rx="3.0002" ry=".0387" fill="#ff0000"/></g>
<g id="cC2" shape-rendering="crispEdges"><ellipse rx="3.65" ry="2.0791" fill="#ff4f00"/><ellipse rx="3.6485" ry="2.0764" fill="#ff0600"/><ellipse rx="3.64" ry="2.0615" fill="#ff0000"/><ellipse rx="3.6202" ry="2.0264" fill="#ff0000"/><ellipse rx="3.6007" ry="1.9913" fill="#ff0000"/><ellipse rx="3.5815" ry="1.9563" fill="#ff0000"/><ellipse rx="3.5625" ry="1.9213" fill="#ff2500"/><ellipse rx="3.5607" ry="1.9181" fill="#ff5c00"/><ellipse rx="3.559" ry="1.9148" fill="#ff9400"/><ellipse rx="3.5572" ry="1.9116" fill="#ffcc00"/><ellipse rx="3.5555" ry="1.9083" fill="#fafa05"/><ellipse rx="3.5537" ry="1.905" fill="#c2c23d"/><ellipse rx="3.552" ry="1.9018" fill="#8a8a75"/><ellipse rx="3.5502" ry="1.8985" fill="#5353ac"/><ellipse rx="3.5485" ry="1.8952" fill="#0404fb"/><ellipse rx="3.535" ry="1.8698" fill="#0000ff"/><ellipse rx="3.5165" ry="1.8346" fill="#0000ff"/><ellipse rx="3.4982" ry="1.7994" fill="#0000ff"/><ellipse rx="3.4802" ry="1.7641" fill="#0000ff"/><ellipse rx="3.4625" ry="1.7288" fill="#2525da"/><ellipse rx="3.4607" ry="1.7253" fill="#5c5ca3"/><ellipse rx="3.459" ry="1.7218" fill="#94946b"/><ellipse rx="3.4572" ry="1.7183" fill="#cccc33"/><ellipse rx="3.4555" ry="1.7148" fill="#fffa00"/><ellipse rx="3.4537" ry="1.7113" fill="#ffc200"/><ellipse rx="3.452" ry="1.7077" fill="#ff8a00"/><ellipse rx="3.4502" ry="1.7042" fill="#ff5300"/><ellipse rx="3.4485" ry="1.7006" fill="#ff1300"/><ellipse rx="3.4457" ry="1.695" fill="#ff0000"/><ellipse rx="3.4285" ry="1.6597" fill="#ff0000"/><ellipse rx="3.4115" ry="1.6243" fill="#ff0000"/><ellipse rx="3.3947" ry="1.5888" fill="#ff0000"/><ellipse rx="3.3785" ry="1.5538" fill="#ff0000"/><ellipse rx="3.3625" ry="1.5187" fill="#ff2500"/><ellipse rx="3.3607" ry="1.5148" fill="#ff5c00"/><ellipse rx="3.359" ry="1.5109" fill="#ff9400"/><ellipse rx="3.3572" ry="1.507" fill="#ffcc00"/><ellipse rx="3.3555" ry="1.5031" fill="#fafa05"/><ellipse rx="3.3537" ry="1.4992" fill="#c2c23d"/><ellipse rx="3.352" ry="1.4953" fill="#8a8a75"/><ellipse rx="3.3502" ry="1.4914" fill="#5353ac"/><ellipse rx="3.3485" ry="1.4874" fill="#0404fb"/><ellipse rx="3.3357" ry="1.4585" fill="#0000ff"/><ellipse rx="3.3205" ry="1.4233" fill="#0000ff"/><ellipse rx="3.3055" ry="1.3879" fill="#0000ff"/><ellipse rx="3.2907" ry="1.3524" fill="#0000ff"/><ellipse rx="3.2765" ry="1.3174" fill="#0000ff"/><ellipse rx="3.2625" ry="1.2821" fill="#2525da"/><ellipse rx="3.2607" ry="1.2777" fill="#5c5ca3"/><ellipse rx="3.259" ry="1.2732" fill="#94946b"/><ellipse rx="3.2572" ry="1.2687" fill="#cccc33"/><ellipse rx="3.2555" ry="1.2642" fill="#fffa00"/><ellipse rx="3.2537" ry="1.2597" fill="#ffc200"/><ellipse rx="3.252" ry="1.2552" fill="#ff8a00"/><ellipse rx="3.2502" ry="1.2506" fill="#ff5300"/><ellipse rx="3.2485" ry="1.2461" fill="#ff0400"/><ellipse rx="3.2357" ry="1.2125" fill="#ff0000"/><ellipse rx="3.2227" ry="1.1773" fill="#ff0000"/><ellipse rx="3.21" ry="1.142" fill="#ff0000"/><ellipse rx="3.1975" ry="1.1063" fill="#ff0000"/><ellipse rx="3.1855" ry="1.0712" fill="#ff0000"/><ellipse rx="3.1737" ry="1.0357" fill="#ff0000"/><ellipse rx="3.1625" ry="1.0007" fill="#ff2500"/><ellipse rx="3.1607" ry=".9952" fill="#ff5c00"/><ellipse rx="3.159" ry=".9896" fill="#ff9400"/><ellipse rx="3.1572" ry=".984" fill="#ffcc00"/><ellipse rx="3.1555" ry=".9784" fill="#fafa05"/><ellipse rx="3.1537" ry=".9727" fill="#c2c23d"/><ellipse rx="3.152" ry=".967" fill="#8a8a75"/><ellipse rx="3.1502" ry=".9613" fill="#5353ac"/><ellipse rx="3.1485" ry=".9555" fill="#0808f7"/><ellipse rx="3.1417" ry=".9331" fill="#0000ff"/><ellipse rx="3.1315" ry=".8979" fill="#0000ff"/><ellipse rx="3.1215" ry=".8624" fill="#0000ff"/><ellipse rx="3.112" ry=".8274" fill="#0000ff"/><ellipse rx="3.1027" ry=".7919" fill="#0000ff"/><ellipse rx="3.094" ry=".7569" fill="#0000ff"/><ellipse rx="3.0855" ry=".7213" fill="#0000ff"/><ellipse rx="3.0775" ry=".6863" fill="#0000ff"/><ellipse rx="3.0697" ry=".6507" fill="#0000ff"/><ellipse rx="3.0625" ry=".6156" fill="#2525da"/><ellipse rx="3.0607" ry=".6068" fill="#5c5ca3"/><ellipse rx="3.059" ry=".5979" fill="#94946b"/><ellipse rx="3.0572" ry=".5889" fill="#cccc33"/><ellipse rx="3.0555" ry=".5797" fill="#fffa00"/><ellipse rx="3.0537" ry=".5704" fill="#ffc200"/><ellipse rx="3.052" ry=".561" fill="#ff8a00"/><ellipse rx="3.0502" ry=".5514" fill="#ff5300"/><ellipse rx="3.0485" ry=".5416" fill="#ff0d00"/><ellipse rx="3.0445" ry=".5186" fill="#ff0000"/><ellipse rx="3.0385" ry=".4822" fill="#ff0000"/><ellipse rx="3.033" ry=".4462" fill="#ff0000"/><ellipse rx="3.028" ry=".4108" fill="#ff0000"/><ellipse rx="3.0232" ry=".3742" fill="#ff0000"/><ellipse rx="3.019" ry=".3382" fill="#ff0000"/><ellipse rx="3.0152" ry=".3029" fill="#ff0000"/><ellipse rx="3.0117" ry=".2658" fill="#ff0000"/><ellipse rx="3.0087" ry=".2293" fill="#ff0000"/><ellipse rx="3.0062" ry=".1937" fill="#ff0000"/><ellipse rx="3.004" ry=".155" fill="#ff0000"/><ellipse rx="3.0022" ry=".1162" fill="#ff0000"/><ellipse rx="3.001" ry=".0775" fill="#ff0000"/><ellipse rx="3.0002" ry=".0387" fill="#ff0000"/></g>
<mask id="fgA" maskUnits="userSpaceOnUse" x="0" y="0" width="10" height="10"><g transform="scale(.001)" fill-rule="evenodd"><rect x="-200" y="-200" width="10400" height="10400" fill="#585858"/><path d="M-200 905l208-167 221-162 221-148 234-143 234-131 247-126 260-120 261-108 6628 0 235 97 234 106 234 116 221 121 221 131 204 131 199 139 195 147 143 117 0 8190-208 167-221 162-221 148-234 143-234 131-247 126-260 120-261 108-6628 0-235-97-234-106-234-116-221-121-221-131-204-131-199-139-195-147-143-117z" fill="#606060"/><path d="M-200 1560l208-186 221-178 234-170 234-153 247-146 260-137 273-129 273-114 286-106 299-96 299-83 312-74 325-65 325-52 338-41 338-30 1456 0 351 31 351 44 351 58 338 69 325 80 312 91 312 105 299 116 286 126 273 136 273 153 247 155 195 135 195 147 185 153 179 161 0 6880-208 186-221 178-234 170-234 153-247 146-260 137-273 129-273 114-286 106-299 96-299 83-312 74-325 65-325 52-338 41-338 30-1456 0-351-31-351-44-351-58-338-69-325-80-312-91-312-105-299-116-286-126-273-136-273-153-247-155-195-135-195-147-185-153-179-161z" fill="#676767"/><path d="M-200 2144l182-186 184-169 205-169 209-155 221-147 221-132 247-131 247-118 260-109 273-101 273-88 286-79 286-68 312-62 312-50 325-41 351-32 351-21 351-9 364 3 351 14 351 25 338 36 338 48 312 56 312 68 299 78 286 87 286 101 260 104 260 119 260 134 182 105 182 114 325 230 156 125 156 136 144 137 142 147 0 5712-182 186-184 169-205 169-209 155-221 147-221 132-247 131-247 118-260 109-273 101-273 88-286 79-286 68-312 62-312 50-325 41-351 32-351 21-351 9-364-3-351-14-351-25-338-36-338-48-312-56-312-68-299-78-286-87-286-101-260-104-260-119-260-134-182-105-182-114-325-230-156-125-156-136-144-137-142-147z" fill="#6f6f6f"/><path d="M-200 2676l144-172 158-169 166-159 182-157 195-150 195-135 208-128 221-122 221-108 234-102 247-95 247-82 260-75 273-68 286-59 286-49 325-44 338-34 351-25 364-14 364-3 364 7 364 18 351 28 325 37 312 47 312 57 286 65 286 77 273 86 260 95 247 103 260 125 260 142 247 156 221 158 215 174 198 182 185 193 169 200 0 4648-144 172-158 169-166 159-182 157-195 150-195 135-208 128-221 122-221 108-234 102-247 95-247 82-260 75-273 68-286 59-286 49-325 44-338 34-351 25-364 14-364 3-364-7-364-18-351-28-325-37-312-47-312-57-286-65-286-77-273-86-260-95-247-103-260-125-260-142-247-156-221-158-215-174-198-182-185-193-169-200z" fill="#777777"/><path d="M-200 3182l118-171 131-169 141-161 148-151 164-150 169-137 182-133 182-118 195-114 208-107 208-95 221-89 234-81 234-71 247-64 260-57 299-53 325-46 325-34 351-25 377-17 377-8 390 3 377 11 351 21 325 28 312 36 299 46 286 54 273 63 260 72 247 80 351 137 325 155 312 179 286 197 260 213 247 241 217 253 186 262 0 3636-118 171-131 169-141 161-148 151-164 150-169 137-182 133-182 118-195 114-208 107-208 95-221 89-234 81-234 71-247 64-260 57-299 53-325 46-325 34-351 25-377 17-377 8-390-3-377-11-351-21-325-28-312-36-299-46-286-54-273-63-260-72-247-80-351-137-325-155-312-179-286-197-260-213-247-241-217-253-186-262z" fill="#7e7e7e"/><path d="M-200 3696l93-178 102-169 107-156 127-162 133-150 142-143 154-137 169-134 169-118 182-114 182-100 195-95 208-89 208-77 221-71 221-60 260-59 273-50 286-41 299-33 325-25 351-18 793-14 793 14 351 18 325 25 299 33 286 41 273 50 260 59 208 56 208 66 195 71 195 80 182 86 182 96 169 100 156 104 156 115 143 117 142 130 131 134 122 139 112 143 109 156 96 156 107 204 0 2608-93 178-102 169-107 156-127 162-133 150-142 143-154 137-169 134-169 118-182 114-182 100-195 95-208 89-208 77-221 71-221 60-260 59-273 50-286 41-299 33-325 25-351 18-793 14-793-14-351-18-325-25-299-33-286-41-273-50-260-59-208-56-208-66-195-71-195-80-182-86-182-96-169-100-156-104-156-115-143-117-142-130-131-134-122-139-112-143-109-156-96-156-107-204z" fill="#868686"/><path d="M-200 4323l53-181 68-182 76-169 90-169 105-169 113-156 129-156 133-141 143-134 156-128 169-123 169-107 182-102 195-95 195-82 208-75 195-60 195-50 416-83 468-59 520-35 390-12 468-6 1170 5 663 27 286 22 260 30 416 68 390 93 351 115 169 68 169 77 156 80 156 89 143 92 143 103 130 104 130 115 117 116 117 129 103 128 94 130 91 143 80 143 70 143 65 156 50 143 45 155 0 1354-53 181-68 182-76 169-90 169-105 169-113 156-129 156-133 141-143 134-156 128-169 123-169 107-182 102-195 95-195 82-208 75-195 60-195 50-416 83-468 59-520 35-390 12-468 6-1170-5-663-27-286-22-260-30-416-68-390-93-351-115-169-68-169-77-156-80-156-89-143-92-143-103-130-104-130-115-117-116-117-129-103-128-94-130-91-143-80-143-70-143-65-156-50-143-45-155z" fill="#8e8e8e"/><path d="M-99 5000l5-156 15-156 25-156 35-156 46-156 52-143 62-143 73-143 84-143 87-129 101-131 101-117 114-117 126-116 130-105 130-95 130-84 143-83 143-74 156-71 156-62 169-58 338-93 351-67 390-46 429-25 520-8 962 5 1248-4 390 11 351 23 416 53 377 77 182 50 169 54 169 63 169 73 182 92 182 106 169 114 156 121 143 127 136 139 124 145 117 159 103 164 90 169 74 169 65 182 49 182 35 182 21 182 8 195-5 156-15 156-25 156-35 156-46 156-52 143-62 143-73 143-84 143-87 129-101 131-101 117-114 117-126 116-130 105-130 95-130 84-143 83-143 74-156 71-156 62-169 58-338 93-351 67-390 46-429 25-520 8-962-5-1248 4-390-11-351-23-416-53-377-77-182-50-169-54-169-63-169-73-182-92-182-106-169-114-156-121-143-127-136-139-124-145-117-159-103-164-90-169-74-169-65-182-49-182-35-182-21-182z" fill="#959595"/><path d="M66 5000l4-130 13-143 22-143 28-130 36-130 45-130 109-247 138-234 167-221 186-197 221-189 234-160 247-135 273-117 286-93 299-70 325-50 338-28 390-10 1534 39 442-5 1027-33 286 1 260 9 351 30 338 55 312 77 286 98 182 79 182 93 169 101 156 110 143 115 143 134 130 141 116 148 105 156 88 156 78 169 63 169 49 169 37 182 22 182 8 182-8 182-22 182-37 182-49 169-63 169-78 169-88 156-105 156-116 148-130 141-143 134-143 115-156 110-169 101-182 93-182 79-286 98-312 77-338 55-351 30-260 9-286 1-1027-33-442-5-1534 39-390-10-338-28-325-50-299-70-286-93-273-117-247-135-234-160-221-189-186-197-167-221-138-234-109-247-45-130-36-130-28-130-22-143-13-143z" fill="#9d9d9d"/><path d="M213 5000l15-247 41-234 70-234 94-221 118-208 146-202 169-187 182-162 208-151 221-128 234-107 247-86 260-67 273-47 299-29 312-9 455 16 1001 74 429 12 507-15 1092-79 273-8 247 4 286 20 273 38 247 53 247 75 182 70 169 79 156 86 156 101 143 108 141 125 126 130 110 133 99 140 92 156 76 156 66 169 49 169 35 169 21 169 7 169-15 247-41 234-70 234-94 221-118 208-146 202-169 187-182 162-208 151-221 128-234 107-247 86-260 67-273 47-299 29-312 9-455-16-1001-74-429-12-507 15-1092 79-273 8-247-4-286-20-273-38-247-53-247-75-182-70-169-79-156-86-156-101-143-108-141-125-126-130-110-133-99-140-92-156-76-156-66-169-49-169-35-169-21-169z" fill="#a4a4a4"/><path d="M344 5000l13-221 35-208 60-208 80-195 106-195 127-182 147-169 162-151 182-137 195-119 208-101 221-82 234-65 234-44 247-26 273-10 234 6 260 19 273 31 780 104 247 23 221 11 273-1 286-18 286-32 819-108 260-24 247-10 286 5 260 23 260 45 234 62 169 59 169 73 156 81 143 89 130 94 133 112 119 117 112 130 95 130 88 143 72 143 63 156 49 156 36 169 21 156 7 169-13 221-35 208-60 208-80 195-106 195-127 182-147 169-162 151-182 137-195 119-208 101-221 82-234 65-234 44-247 26-273 10-234-6-260-19-273-31-780-104-247-23-221-11-273 1-286 18-286 32-819 108-260 24-247 10-286-5-260-23-260-45-234-62-169-59-169-73-156-81-143-89-130-94-133-112-119-117-112-130-95-130-88-143-72-143-63-156-49-156-36-169-21-156z" fill="#acacac"/><path d="M461 5000l11-195 33-195 51-182 72-182 89-169 114-169 132-156 150-144 156-122 182-115 182-91 195-76 208-61 221-43 221-25 234-8 273 11 286 32 312 53 611 129 247 46 260 35 247 14 260-7 273-30 273-48 793-163 260-40 234-23 273-9 260 12 247 34 234 54 156 50 156 63 143 70 143 84 130 90 130 106 112 109 103 117 97 130 80 130 73 143 57 143 45 143 33 156 19 143 7 156-7 156-19 143-33 156-45 143-57 143-73 143-80 130-97 130-103 117-112 109-130 106-130 90-143 84-143 70-156 63-156 50-234 54-247 34-260 12-273-9-234-23-260-40-793-163-273-48-273-30-260-7-247 14-260 35-247 46-611 129-312 53-286 32-273 11-234-8-221-25-221-43-208-61-195-76-182-91-182-115-156-122-150-144-132-156-114-169-89-169-72-182-51-182-33-195z" fill="#b4b4b4"/><path d="M567 5000l6-143 19-143 32-143 45-143 54-130 68-130 75-119 91-121 100-111 108-101 117-94 117-79 130-74 143-68 143-55 156-46 234-48 247-24 260 0 273 25 247 42 260 61 249 71 518 161 260 68 260 45 247 13 247-19 260-51 234-64 637-196 364-89 169-31 169-22 156-13 156-5 208 9 195 23 195 40 182 55 182 73 169 88 156 101 143 114 132 129 118 143 104 156 81 156 66 169 46 169 28 169 10 182-10 182-28 169-46 169-66 169-81 156-104 156-118 143-132 129-143 114-156 101-169 88-182 73-182 55-195 40-195 23-208 9-156-5-156-13-169-22-169-31-364-89-637-196-234-64-260-51-247-19-247 13-260 45-260 68-518 161-249 71-260 61-247 42-273 25-260 0-247-24-234-48-156-46-143-55-143-68-130-74-117-79-117-94-108-101-100-111-91-121-75-119-68-130-54-130-45-143-32-143-19-143z" fill="#bbbbbb"/><path d="M662 5000l9-169 26-156 42-156 61-156 74-143 94-143 106-129 119-118 128-104 143-95 156-83 156-64 169-53 182-38 182-22 182-7 182 7 195 23 195 37 195 51 208 67 208 80 637 286 221 89 117 38 117 29 117 18 104 7 104-4 104-14 117-25 117-36 221-85 511-232 256-107 273-96 260-69 273-47 273-17 260 13 130 18 130 27 143 40 130 47 130 58 130 72 117 77 112 88 98 91 94 104 81 104 75 117 62 117 54 130 42 130 29 130 19 143 6 130-9 169-26 156-42 156-61 156-74 143-94 143-106 129-119 118-128 104-143 95-156 83-156 64-169 53-182 38-182 22-182 7-182-7-195-23-195-37-195-51-208-67-208-80-637-286-221-89-117-38-117-29-117-18-104-7-104 4-104 14-117 25-117 36-221 85-511 232-256 107-273 96-260 69-273 47-273 17-260-13-130-18-130-27-143-40-130-47-130-58-130-72-117-77-112-88-98-91-94-104-81-104-75-117-62-117-54-130-42-130-29-130-19-143z" fill="#c1c1c1"/><path d="M699 5000l8-156 25-156 42-156 56-143 73-143 85-130 105-130 117-117 124-102 143-95 143-75 156-65 156-49 169-37 169-21 182-8 208 10 208 28 208 46 221 67 209 80 230 104 203 104 450 245 195 94 104 41 104 31 104 20 91 7 91-4 104-17 104-28 104-39 208-98 487-265 261-130 279-117 273-88 286-62 143-18 143-10 143 0 130 8 143 18 130 26 143 39 130 48 130 59 117 64 117 78 104 82 91 84 93 101 81 104 75 117 61 117 49 117 42 130 29 130 17 130 6 130-8 156-25 156-42 156-56 143-73 143-85 130-105 130-117 117-124 102-143 95-143 75-156 65-156 49-169 37-169 21-182 8-208-10-208-28-208-46-221-67-209-80-230-104-203-104-450-245-195-94-104-41-104-31-104-20-91-7-91 4-104 17-104 28-104 39-208 98-487 265-261 130-279 117-273 88-286 62-143 18-143 10-143 0-130-8-143-18-130-26-143-39-130-48-130-59-117-64-117-78-104-82-91-84-93-101-81-104-75-117-61-117-49-117-42-130-29-130-17-130z" fill="#c4c4c4"/><path d="M734 5000l9-156 26-156 39-143 56-143 74-143 84-127 98-120 110-109 130-106 130-85 143-76 143-59 156-48 156-34 169-21 169-6 234 13 247 41 234 64 247 92 238 113 231 130 224 143 425 291 169 103 91 46 78 29 78 19 78 7 65-5 78-17 78-28 78-37 169-100 470-321 271-169 297-156 288-118 156-50 156-39 156-28 156-17 156-6 143 4 143 15 143 26 130 34 130 45 130 57 117 63 117 76 104 80 91 84 91 98 82 105 67 104 62 117 50 117 41 130 27 117 18 130 6 130-9 156-26 156-39 143-56 143-74 143-84 127-98 120-110 109-130 106-130 85-143 76-143 59-156 48-156 34-169 21-169 6-234-13-247-41-234-64-247-92-238-113-231-130-224-143-425-291-169-103-91-46-78-29-78-19-78-7-65 5-78 17-78 28-78 37-169 100-470 321-271 169-297 156-288 118-156 50-156 39-156 28-156 17-156 6-143-4-143-15-143-26-130-34-130-45-130-57-117-63-117-76-104-80-91-84-91-98-82-105-67-104-62-117-50-117-41-130-27-117-18-130z" fill="#c7c7c7"/><path d="M769 5000l7-143 22-143 38-143 54-143 66-130 84-130 94-117 109-110 117-97 130-87 130-70 143-61 143-46 156-35 156-21 169-8 169 6 169 21 169 35 169 47 169 62 169 75 169 89 159 96 187 130 181 143 174 156 166 169 120 143 77 117 44 104 14 91-14 91-44 104-77 117-120 143-166 169-174 156-181 143-187 130-159 96-169 89-169 75-169 62-169 47-169 35-169 21-169 6-169-8-156-21-156-35-143-46-143-61-130-70-130-87-117-97-109-110-94-117-84-130-66-130-54-143-38-143-22-143zM5308 5000l14-91 44-104 77-117 120-143 166-169 174-156 181-143 187-130 159-96 169-89 169-75 169-62 169-47 169-35 169-21 169-6 169 8 156 21 156 35 143 46 143 61 130 70 130 87 117 97 109 110 94 117 84 130 66 130 54 143 38 143 22 143 7 143-7 143-22 143-38 143-54 143-66 130-84 130-94 117-109 110-117 97-130 87-130 70-143 61-143 46-156 35-156 21-169 8-169-6-169-21-169-35-169-47-169-62-169-75-169-89-159-96-187-130-181-143-174-156-166-169-120-143-77-117-44-104z" fill="#cacaca"/><path d="M801 5000l8-143 23-143 39-143 50-130 67-130 75-117 89-111 104-106 114-95 120-82 130-71 143-61 143-46 143-32 156-21 156-7 156 6 169 20 169 36 169 50 169 64 156 74 156 87 152 100 155 117 147 130 127 130 116 143 85 130 56 117 36 117 12 117-12 117-36 117-56 117-85 130-116 143-127 130-147 130-155 117-152 100-156 87-156 74-169 64-169 50-169 36-169 20-156 6-156-7-156-21-143-32-143-46-143-61-130-71-120-82-114-95-104-106-89-111-75-117-67-130-50-130-39-143-23-143zM5609 5000l12-117 36-117 56-117 85-130 116-143 127-130 147-130 155-117 152-100 156-87 156-74 169-64 169-50 169-36 169-20 156-6 156 7 156 21 143 32 143 46 143 61 130 71 120 82 114 95 104 106 89 111 75 117 67 130 50 130 39 143 23 143 8 143-8 143-23 143-39 143-50 130-67 130-75 117-89 111-104 106-114 95-120 82-130 71-143 61-143 46-143 32-156 21-156 7-156-6-169-20-169-36-169-50-169-64-156-74-156-87-152-100-155-117-147-130-127-130-116-143-85-130-56-117-36-117z" fill="#cecece"/><path d="M833 5000l8-143 20-130 35-130 49-130 65-130 75-117 83-104 101-105 117-98 117-79 130-70 130-56 143-46 143-31 143-19 156-6 156 7 156 20 169 37 156 49 156 62 153 75 146 86 139 96 144 117 121 117 104 117 95 130 67 117 54 130 30 117 9 117-9 117-30 117-54 130-67 117-95 130-104 117-121 117-144 117-139 96-146 86-153 75-156 62-156 49-169 37-156 20-156 7-156-6-143-19-143-31-143-46-130-56-130-70-117-79-117-98-101-105-83-104-75-117-65-130-49-130-35-130-20-130zM5797 5000l9-117 30-117 54-130 67-117 95-130 104-117 121-117 144-117 139-96 146-86 153-75 156-62 156-49 169-37 156-20 156-7 156 6 143 19 143 31 143 46 130 56 130 70 117 79 117 98 101 105 83 104 75 117 65 130 49 130 35 130 20 130 8 143-8 143-20 130-35 130-49 130-65 130-75 117-83 104-101 105-117 98-117 79-130 70-130 56-143 46-143 31-143 19-156 6-156-7-156-20-169-37-156-49-156-62-153-75-146-86-139-96-144-117-121-117-104-117-95-130-67-117-54-130-30-117z" fill="#d1d1d1"/><path d="M863 5000l7-130 20-130 34-130 49-130 58-117 74-117 86-108 97-100 98-83 117-81 130-71 130-56 130-42 143-32 143-19 143-6 156 7 156 21 156 35 143 45 143 57 143 71 143 86 132 94 124 104 116 117 98 117 79 117 69 130 43 117 27 117 9 117-9 117-27 117-43 117-69 130-79 117-98 117-116 117-124 104-132 94-143 86-143 71-143 57-143 45-156 35-156 21-156 7-143-6-143-19-143-32-130-42-130-56-130-71-117-81-98-83-97-100-86-108-74-117-58-117-49-130-34-130-20-130zM5941 5000l9-117 27-117 43-117 69-130 79-117 98-117 116-117 124-104 132-94 143-86 143-71 143-57 143-45 156-35 156-21 156-7 143 6 143 19 143 32 130 42 130 56 130 71 117 81 98 83 97 100 86 108 74 117 58 117 49 130 34 130 20 130 7 130-7 130-20 130-34 130-49 130-58 117-74 117-86 108-97 100-98 83-117 81-130 71-130 56-130 42-143 32-143 19-143 6-156-7-156-21-156-35-143-45-143-57-143-71-143-86-132-94-124-104-116-117-98-117-79-117-69-130-43-117-27-117z" fill="#d4d4d4"/><path d="M892 5000l7-130 21-130 35-130 44-117 59-117 76-117 83-104 89-91 106-88 104-71 117-65 130-56 130-42 130-30 130-17 143-7 143 5 156 21 143 31 143 45 143 58 143 72 128 79 124 91 119 104 100 104 93 117 75 117 58 117 42 117 24 117 9 117-9 117-24 117-42 117-58 117-75 117-93 117-100 104-119 104-124 91-128 79-143 72-143 58-143 45-143 31-156 21-143 5-143-7-130-17-130-30-130-42-130-56-117-65-104-71-106-88-89-91-83-104-76-117-59-117-44-117-35-130-21-130zM6061 5000l9-117 24-117 42-117 58-117 75-117 93-117 100-104 119-104 124-91 128-79 143-72 143-58 143-45 143-31 156-21 143-5 143 7 130 17 130 30 130 42 130 56 117 65 104 71 106 88 89 91 83 104 76 117 59 117 44 117 35 130 21 130 7 130-7 130-21 130-35 130-44 117-59 117-76 117-83 104-89 91-106 88-104 71-117 65-130 56-130 42-130 30-130 17-143 7-143-5-156-21-143-31-143-45-143-58-143-72-128-79-124-91-119-104-100-104-93-117-75-117-58-117-42-117-24-117z" fill="#d7d7d7"/><path d="M920 5000l7-130 19-117 34-130 45-117 59-117 67-104 79-100 91-93 104-87 104-71 117-64 117-51 130-42 130-28 130-17 130-6 143 6 143 20 143 32 130 42 130 53 133 68 126 78 121 91 102 91 98 104 81 104 74 117 56 117 40 117 24 117 8 117-8 117-24 117-40 117-56 117-74 117-81 104-98 104-102 91-121 91-126 78-133 68-130 53-130 42-143 32-143 20-143 6-130-6-130-17-130-28-130-42-117-51-117-64-104-71-104-87-91-93-79-100-67-104-59-117-45-117-34-130-19-117zM6165 5000l8-117 24-117 40-117 56-117 74-117 81-104 98-104 102-91 121-91 126-78 133-68 130-53 130-42 143-32 143-20 143-6 130 6 130 17 130 28 130 42 117 51 117 64 104 71 104 87 91 93 79 100 67 104 59 117 45 117 34 130 19 117 7 130-7 130-19 117-34 130-45 117-59 117-67 104-79 100-91 93-104 87-104 71-117 64-117 51-130 42-130 28-130 17-130 6-143-6-143-20-143-32-130-42-130-53-133-68-126-78-121-91-102-91-98-104-81-104-74-117-56-117-40-117-24-117z" fill="#dadada"/><path d="M947 5000l8-130 18-117 32-117 44-117 52-104 66-104 76-97 91-95 91-77 104-72 117-66 117-50 117-39 130-30 130-17 130-5 143 7 130 18 143 33 130 43 130 55 117 62 117 75 113 86 99 91 94 104 77 104 62 104 54 117 34 104 24 117 7 117-7 117-24 117-34 104-54 117-62 104-77 104-94 104-99 91-113 86-117 75-117 62-130 55-130 43-143 33-130 18-143 7-130-5-130-17-130-30-117-39-117-50-117-66-104-72-91-77-91-95-76-97-66-104-52-104-44-117-32-117-18-117zM6256 5000l7-117 24-117 34-104 54-117 62-104 77-104 94-104 99-91 113-86 117-75 117-62 130-55 130-43 143-33 130-18 143-7 130 5 130 17 130 30 117 39 117 50 117 66 104 72 91 77 91 95 76 97 66 104 52 104 44 117 32 117 18 117 8 130-8 130-18 117-32 117-44 117-52 104-66 104-76 97-91 95-91 77-104 72-117 66-117 50-117 39-130 30-130 17-130 5-143-7-130-18-143-33-130-43-130-55-117-62-117-75-113-86-99-91-94-104-77-104-62-104-54-117-34-104-24-117z" fill="#dedede"/><path d="M973 5000l6-117 18-117 31-117 45-117 52-104 66-104 72-91 84-87 91-78 104-72 104-58 117-52 117-38 117-27 130-18 130-5 130 6 130 18 130 30 130 43 123 52 122 65 118 78 99 78 96 91 81 91 75 104 61 104 47 104 37 117 20 104 7 117-7 117-20 104-37 117-47 104-61 104-75 104-81 91-96 91-99 78-118 78-122 65-123 52-130 43-130 30-130 18-130 6-130-5-130-18-117-27-117-38-117-52-104-58-104-72-91-78-84-87-72-91-66-104-52-104-45-117-31-117-18-117zM6337 5000l7-117 20-104 37-117 47-104 61-104 75-104 81-91 96-91 99-78 118-78 122-65 123-52 130-43 130-30 130-18 130-6 130 5 130 18 117 27 117 38 117 52 104 58 104 72 91 78 84 87 72 91 66 104 52 104 45 117 31 117 18 117 6 117-6 117-18 117-31 117-45 117-52 104-66 104-72 91-84 87-91 78-104 72-104 58-117 52-117 38-117 27-130 18-130 5-130-6-130-18-130-30-130-43-123-52-122-65-118-78-99-78-96-91-81-91-75-104-61-104-47-104-37-117-20-104z" fill="#e1e1e1"/><path d="M999 5000l6-117 18-117 32-117 40-104 52-104 58-91 70-91 85-89 91-77 91-64 104-59 117-52 117-39 117-26 117-16 117-6 130 6 117 15 130 29 124 40 123 52 117 62 104 68 100 78 96 91 80 91 74 104 59 104 45 104 33 104 19 104 8 117-8 117-19 104-33 104-45 104-59 104-74 104-80 91-96 91-100 78-104 68-117 62-123 52-124 40-130 29-117 15-130 6-117-6-117-16-117-26-117-39-117-52-104-59-91-64-91-77-85-89-70-91-58-91-52-104-40-104-32-117-18-117zM6410 5000l8-117 19-104 33-104 45-104 59-104 74-104 80-91 96-91 100-78 104-68 117-62 123-52 124-40 130-29 117-15 130-6 117 6 117 16 117 26 117 39 117 52 104 59 91 64 91 77 85 89 70 91 58 91 52 104 40 104 32 117 18 117 6 117-6 117-18 117-32 117-40 104-52 104-58 91-70 91-85 89-91 77-91 64-104 59-117 52-117 39-117 26-117 16-117 6-130-6-117-15-130-29-124-40-123-52-117-62-104-68-100-78-96-91-80-91-74-104-59-104-45-104-33-104-19-104z" fill="#e4e4e4"/><path d="M1023 5000l6-117 16-104 31-117 40-104 52-104 58-91 69-88 78-81 91-78 91-63 104-59 104-46 104-35 117-27 117-17 117-5 130 5 117 17 117 26 117 38 117 49 117 63 102 67 97 78 94 91 77 91 64 91 57 104 44 104 31 104 18 104 6 104-6 104-18 104-31 104-44 104-57 104-64 91-77 91-94 91-97 78-102 67-117 63-117 49-117 38-117 26-117 17-130 5-117-5-117-17-117-27-104-35-104-46-104-59-91-63-91-78-78-81-69-88-58-91-52-104-40-104-31-117-16-104zM6477 5000l6-104 18-104 31-104 44-104 57-104 64-91 77-91 94-91 97-78 102-67 117-63 117-49 117-38 117-26 117-17 130-5 117 5 117 17 117 27 104 35 104 46 104 59 91 63 91 78 78 81 69 88 58 91 52 104 40 104 31 117 16 104 6 117-6 117-16 104-31 117-40 104-52 104-58 91-69 88-78 81-91 78-91 63-104 59-104 46-104 35-117 27-117 17-117 5-130-5-117-17-117-26-117-38-117-49-117-63-102-67-97-78-94-91-77-91-64-91-57-104-44-104-31-104-18-104z" fill="#e7e7e7"/><path d="M1046 5000l7-117 16-104 28-104 39-104 45-91 62-98 65-84 78-82 78-68 91-65 104-59 104-46 104-35 117-28 104-14 117-6 117 4 117 16 117 26 117 38 117 50 104 57 91 60 94 74 81 78 79 91 65 91 58 104 44 104 31 104 18 104 6 104-6 104-18 104-31 104-44 104-58 104-65 91-79 91-81 78-94 74-91 60-104 57-117 50-117 38-117 26-117 16-117 4-117-6-104-14-117-28-104-35-104-46-104-59-91-65-78-68-78-82-65-84-62-98-45-91-39-104-28-104-16-104zM6539 5000l6-104 18-104 31-104 44-104 58-104 65-91 79-91 81-78 94-74 91-60 104-57 117-50 117-38 117-26 117-16 117-4 117 6 104 14 117 28 104 35 104 46 104 59 91 65 78 68 78 82 65 84 62 98 45 91 39 104 28 104 16 104 7 117-7 117-16 104-28 104-39 104-45 91-62 98-65 84-78 82-78 68-91 65-104 59-104 46-104 35-117 28-104 14-117 6-117-4-117-16-117-26-117-38-117-50-104-57-91-60-94-74-81-78-79-91-65-91-58-104-44-104-31-104-18-104z" fill="#eaeaea"/><path d="M1069 5000l5-104 16-104 27-104 39-104 45-91 56-91 64-83 78-82 78-68 91-64 91-52 104-47 104-35 117-28 104-14 117-5 104 5 117 16 117 27 104 35 104 44 104 56 92 61 96 78 80 78 77 91 62 91 49 91 43 104 26 91 18 104 7 104-7 104-18 104-26 91-43 104-49 91-62 91-77 91-80 78-96 78-92 61-104 56-104 44-104 35-117 27-117 16-104 5-117-5-104-14-117-28-104-35-104-47-91-52-91-64-78-68-78-82-64-83-56-91-45-91-39-104-27-104-16-104zM6595 5000l7-104 18-104 26-91 43-104 49-91 62-91 77-91 80-78 96-78 92-61 104-56 104-44 104-35 117-27 117-16 104-5 117 5 104 14 117 28 104 35 104 47 91 52 91 64 78 68 78 82 64 83 56 91 45 91 39 104 27 104 16 104 5 104-5 104-16 104-27 104-39 104-45 91-56 91-64 83-78 82-78 68-91 64-91 52-104 47-104 35-117 28-104 14-117 5-104-5-117-16-117-27-104-35-104-44-104-56-92-61-96-78-80-78-77-91-62-91-49-91-43-104-26-91-18-104z" fill="#ededed"/><path d="M1091 5000l5-104 16-104 28-104 34-91 45-91 57-91 60-78 76-80 78-68 91-64 91-51 91-41 104-35 104-25 104-15 117-5 104 5 117 16 117 28 104 35 104 47 91 51 91 61 91 75 78 79 65 78 61 91 48 91 37 91 30 104 16 91 6 104-6 104-16 91-30 104-37 91-48 91-61 91-65 78-78 79-91 75-91 61-91 51-104 47-104 35-117 28-117 16-104 5-117-5-104-15-104-25-104-35-91-41-91-51-91-64-78-68-76-80-60-78-57-91-45-91-34-91-28-104-16-104zM6648 5000l6-104 16-91 30-104 37-91 48-91 61-91 65-78 78-79 91-75 91-61 91-51 104-47 104-35 117-28 117-16 104-5 117 5 104 15 104 25 104 35 91 41 91 51 91 64 78 68 76 80 60 78 57 91 45 91 34 91 28 104 16 104 5 104-5 104-16 104-28 104-34 91-45 91-57 91-60 78-76 80-78 68-91 64-91 51-91 41-104 35-104 25-104 15-117 5-104-5-117-16-117-28-104-35-104-47-91-51-91-61-91-75-78-79-65-78-61-91-48-91-37-91-30-104-16-91z" fill="#f1f1f1"/><path d="M1112 5000l5-104 14-91 27-104 34-91 44-91 57-91 61-78 71-75 78-67 78-55 91-52 91-42 104-35 104-25 104-14 104-5 104 5 117 16 104 25 104 36 104 46 91 52 88 60 78 65 78 78 64 78 52 78 50 91 38 91 30 104 15 91 7 104-7 104-15 91-30 104-38 91-50 91-52 78-64 78-78 78-78 65-88 60-91 52-104 46-104 36-104 25-117 16-104 5-104-5-104-14-104-25-104-35-91-42-91-52-78-55-78-67-71-75-61-78-57-91-44-91-34-91-27-104-14-91zM6697 5000l7-104 15-91 30-104 38-91 50-91 52-78 64-78 78-78 78-65 88-60 91-52 104-46 104-36 104-25 117-16 104-5 104 5 104 14 104 25 104 35 91 42 91 52 78 55 78 67 71 75 61 78 57 91 44 91 34 91 27 104 14 91 5 104-5 104-14 91-27 104-34 91-44 91-57 91-61 78-71 75-78 67-78 55-91 52-91 42-104 35-104 25-104 14-104 5-104-5-117-16-104-25-104-36-104-46-91-52-88-60-78-65-78-78-64-78-52-78-50-91-38-91-30-104-15-91z" fill="#f4f4f4"/><path d="M1132 5000l4-91 16-104 23-91 34-91 44-91 48-78 59-78 73-78 70-62 78-56 91-54 91-41 91-32 104-26 104-15 104-6 104 5 104 14 104 25 91 29 104 46 91 50 86 58 79 65 78 78 64 78 52 78 49 91 37 91 26 91 16 91 6 104-6 104-16 91-26 91-37 91-49 91-52 78-64 78-78 78-79 65-86 58-91 50-104 46-91 29-104 25-104 14-104 5-104-6-104-15-104-26-91-32-91-41-91-54-78-56-70-62-73-78-59-78-48-78-44-91-34-91-23-91-16-104zM6743 5000l6-104 16-91 26-91 37-91 49-91 52-78 64-78 78-78 79-65 86-58 91-50 104-46 91-29 104-25 104-14 104-5 104 6 104 15 104 26 91 32 91 41 91 54 78 56 70 62 73 78 59 78 48 78 44 91 34 91 23 91 16 104 4 91-4 91-16 104-23 91-34 91-44 91-48 78-59 78-73 78-70 62-78 56-91 54-91 41-91 32-104 26-104 15-104 6-104-5-104-14-104-25-91-29-104-46-91-50-86-58-79-65-78-78-64-78-52-78-49-91-37-91-26-91-16-91z" fill="#f7f7f7"/><path d="M1152 5000l5-104 15-91 24-91 35-91 45-91 50-78 60-77 63-66 80-68 78-54 78-44 91-41 91-31 104-24 91-13 104-4 104 5 104 16 104 26 91 32 91 41 91 52 78 55 77 65 64 65 64 78 52 78 47 91 36 91 25 91 15 91 5 91-5 91-15 91-25 91-36 91-47 91-52 78-64 78-64 65-77 65-78 55-91 52-91 41-91 32-104 26-104 16-104 5-104-4-91-13-104-24-91-31-91-41-78-44-78-54-80-68-63-66-60-77-50-78-45-91-35-91-24-91-15-91zM6786 5000l5-91 15-91 25-91 36-91 47-91 52-78 64-78 64-65 77-65 78-55 91-52 91-41 91-32 104-26 104-16 104-5 104 4 91 13 104 24 91 31 91 41 78 44 78 54 80 68 63 66 60 77 50 78 45 91 35 91 24 91 15 91 5 104-5 104-15 91-24 91-35 91-45 91-50 78-60 77-63 66-80 68-78 54-78 44-91 41-91 31-104 24-91 13-104 4-104-5-104-16-104-26-91-32-91-41-91-52-78-55-77-65-64-65-64-78-52-78-47-91-36-91-25-91-15-91z" fill="#fafafa"/><path d="M1171 5000l4-91 14-91 23-91 34-91 45-91 50-78 58-74 65-68 65-56 78-56 78-44 91-42 91-31 91-22 91-13 104-5 91 4 104 14 104 25 91 32 91 41 85 48 75 52 78 65 64 65 63 78 51 78 47 91 35 91 21 78 15 91 5 91-5 91-15 91-21 78-35 91-47 91-51 78-63 78-64 65-78 65-75 52-85 48-91 41-91 32-104 25-104 14-91 4-104-5-91-13-91-22-91-31-91-42-78-44-78-56-65-56-65-68-58-74-50-78-45-91-34-91-23-91-14-91zM6827 5000l5-91 15-91 21-78 35-91 47-91 51-78 63-78 64-65 78-65 75-52 85-48 91-41 91-32 104-25 104-14 91-4 104 5 91 13 91 22 91 31 91 42 78 44 78 56 65 56 65 68 58 74 50 78 45 91 34 91 23 91 14 91 4 91-4 91-14 91-23 91-34 91-45 91-50 78-58 74-65 68-65 56-78 56-78 44-91 42-91 31-91 22-91 13-104 5-91-4-104-14-104-25-91-32-91-41-85-48-75-52-78-65-64-65-63-78-51-78-47-91-35-91-21-78-15-91z" fill="#fdfdfd"/><path d="M1189 5000l5-91 14-91 24-91 29-78 37-78 49-80 58-76 61-65 63-56 78-56 78-46 91-42 91-31 91-22 91-13 91-4 104 4 91 13 91 22 91 30 91 41 78 44 78 53 76 63 64 65 63 78 51 78 40 78 36 91 21 78 15 91 5 91-5 91-15 91-21 78-36 91-40 78-51 78-63 78-64 65-76 63-78 53-78 44-91 41-91 30-91 22-91 13-104 4-91-4-91-13-91-22-91-31-91-42-78-46-78-56-63-56-61-65-58-76-49-80-37-78-29-78-24-91-14-91zM6865 5000l5-91 15-91 21-78 36-91 40-78 51-78 63-78 64-65 76-63 78-53 78-44 91-41 91-30 91-22 91-13 104-4 91 4 91 13 91 22 91 31 91 42 78 46 78 56 63 56 61 65 58 76 49 80 37 78 29 78 24 91 14 91 5 91-5 91-14 91-24 91-29 78-37 78-49 80-58 76-61 65-63 56-78 56-78 46-91 42-91 31-91 22-91 13-91 4-104-4-91-13-91-22-91-30-91-41-78-44-78-53-76-63-64-65-63-78-51-78-40-78-36-91-21-78-15-91z" fill="#ffffff"/></g></mask>
<filter id="fA1" filterUnits="userSpaceOnUse" x="1.08" y="3.98" width="7.83" height="2.03"><feGaussianBlur stdDeviation=".02"/></filter>
<mask id="mA1" maskUnits="userSpaceOnUse" x="1.08" y="3.98" width="7.83" height="2.03"><g filter="url(#fA1)"><g transform="scale(.001)" fill-rule="evenodd"><path d="M1203 5000l5-91 14-91 25-91 30-78 38-78 49-78 50-65 63-67 65-57 78-56 78-45 78-36 91-31 91-22 91-12 91-4 91 4 91 13 91 21 91 31 90 40 79 45 78 54 67 57 64 65 62 78 50 78 40 78 34 91 21 78 12 78 5 91-5 91-12 78-21 78-34 91-40 78-50 78-62 78-64 65-67 57-78 54-79 45-90 40-91 31-91 21-91 13-91 4-91-4-91-12-91-22-91-31-78-36-78-45-78-56-65-57-63-67-50-65-49-78-38-78-30-78-25-91-14-91zM6894 5000l5-91 12-78 21-78 34-91 40-78 50-78 62-78 64-65 67-57 78-54 79-45 90-40 91-31 91-21 91-13 91-4 91 4 91 12 91 22 91 31 78 36 78 45 78 56 65 57 63 67 50 65 49 78 38 78 30 78 25 91 14 91 5 91-5 91-14 91-25 91-30 78-38 78-49 78-50 65-63 67-65 57-78 56-78 45-78 36-91 31-91 22-91 12-91 4-91-4-91-13-91-21-91-31-90-40-79-45-78-54-67-57-64-65-62-78-50-78-40-78-34-91-21-78-12-78z" fill="#090909"/><path d="M1244 5000l5-91 13-78 20-78 28-78 38-78 40-65 50-66 65-70 65-57 65-47 78-45 78-35 78-27 91-21 91-12 78-3 78 4 91 12 91 22 78 27 78 35 78 44 78 55 63 54 62 65 51 65 42 65 40 78 30 78 21 78 13 78 6 91-6 91-13 78-21 78-30 78-40 78-42 65-51 65-62 65-63 54-78 55-78 44-78 35-78 27-91 22-91 12-78 4-78-3-91-12-91-21-78-27-78-35-78-45-65-47-65-57-65-70-50-66-40-65-38-78-28-78-20-78-13-78zM6973 5000l6-91 13-78 21-78 30-78 40-78 42-65 51-65 62-65 63-54 78-55 78-44 78-35 78-27 91-22 91-12 78-4 78 3 91 12 91 21 78 27 78 35 78 45 65 47 65 57 65 70 50 66 40 65 38 78 28 78 20 78 13 78 5 91-5 91-13 78-20 78-28 78-38 78-40 65-50 66-65 70-65 57-65 47-78 45-78 35-78 27-91 21-91 12-78 3-78-4-91-12-91-22-78-27-78-35-78-44-78-55-63-54-62-65-51-65-42-65-40-78-30-78-21-78-13-78z" fill="#1b1b1b"/><path d="M1294 5000l4-78 12-78 20-78 24-65 38-78 41-65 44-58 52-56 52-47 65-48 65-39 78-37 78-28 78-19 78-11 78-4 78 3 78 10 78 18 78 26 78 35 65 36 71 50 61 52 50 52 52 65 42 65 40 78 25 65 21 78 13 78 4 78-4 78-13 78-21 78-25 65-40 78-42 65-52 65-50 52-61 52-71 50-65 36-78 35-78 26-78 18-78 10-78 3-78-4-78-11-78-19-78-28-78-37-65-39-65-48-52-47-52-56-44-58-41-65-38-78-24-65-20-78-12-78zM7065 5000l4-78 13-78 21-78 25-65 40-78 42-65 52-65 50-52 61-52 71-50 65-36 78-35 78-26 78-18 78-10 78-3 78 4 78 11 78 19 78 28 78 37 65 39 65 48 52 47 52 56 44 58 41 65 38 78 24 65 20 78 12 78 4 78-4 78-12 78-20 78-24 65-38 78-41 65-44 58-52 56-52 47-65 48-65 39-78 37-78 28-78 19-78 11-78 4-78-3-78-10-78-18-78-26-78-35-65-36-71-50-61-52-50-52-52-65-42-65-40-78-25-65-21-78-13-78z" fill="#2e2e2e"/><path d="M1339 5000l4-78 10-65 21-78 24-65 32-65 41-65 40-52 49-52 47-42 65-48 65-38 65-30 65-23 78-19 78-11 65-3 65 3 78 10 65 14 78 26 70 31 68 39 57 40 60 51 49 52 42 52 42 65 33 65 25 65 21 78 10 65 5 78-5 78-10 65-21 78-25 65-33 65-42 65-42 52-49 52-60 51-57 40-68 39-70 31-78 26-65 14-78 10-65 3-65-3-78-11-78-19-65-23-65-30-65-38-65-48-47-42-49-52-40-52-41-65-32-65-24-65-21-78-10-65zM7144 5000l5-78 10-65 21-78 25-65 33-65 42-65 42-52 49-52 60-51 57-40 68-39 70-31 78-26 65-14 78-10 65-3 65 3 78 11 78 19 65 23 65 30 65 38 65 48 47 42 49 52 40 52 41 65 32 65 24 65 21 78 10 65 4 78-4 78-10 65-21 78-24 65-32 65-41 65-40 52-49 52-47 42-65 48-65 38-65 30-65 23-78 19-78 11-65 3-65-3-78-10-65-14-78-26-70-31-68-39-57-40-60-51-49-52-42-52-42-65-33-65-25-65-21-78-10-65z" fill="#404040"/><path d="M1380 5000l3-65 10-65 16-65 23-65 32-65 31-52 39-52 47-52 52-46 52-39 52-31 65-31 65-24 65-17 65-10 78-5 78 4 65 9 65 16 65 23 65 30 65 38 52 38 51 45 49 52 39 52 33 52 32 65 24 65 16 65 10 65 3 65-3 65-10 65-16 65-24 65-32 65-33 52-39 52-49 52-51 45-52 38-65 38-65 30-65 23-65 16-65 9-78 4-78-5-65-10-65-17-65-24-65-31-52-31-52-39-52-46-47-52-39-52-31-52-32-65-23-65-16-65-10-65zM7213 5000l3-65 10-65 16-65 24-65 32-65 33-52 39-52 49-52 51-45 52-38 65-38 65-30 65-23 65-16 65-9 78-4 78 5 65 10 65 17 65 24 65 31 52 31 52 39 52 46 47 52 39 52 31 52 32 65 23 65 16 65 10 65 3 65-3 65-10 65-16 65-23 65-32 65-31 52-39 52-47 52-52 46-52 39-52 31-65 31-65 24-65 17-65 10-78 5-78-4-65-9-65-16-65-23-65-30-65-38-52-38-51-45-49-52-39-52-33-52-32-65-24-65-16-65-10-65z" fill="#525252"/><path d="M1417 5000l4-65 10-65 17-65 20-52 25-52 36-59 39-51 43-46 48-42 52-38 52-30 65-29 65-22 52-12 65-9 65-2 65 4 65 10 65 17 52 18 52 24 57 33 55 39 44 39 39 40 40 51 34 52 33 65 20 52 17 65 11 65 3 65-3 65-11 65-17 65-20 52-33 65-34 52-40 51-39 40-44 39-55 39-57 33-52 24-52 18-65 17-65 10-65 4-65-2-65-9-52-12-65-22-65-29-52-30-52-38-48-42-43-46-39-51-36-59-25-52-20-52-17-65-10-65zM7273 5000l3-65 11-65 17-65 20-52 33-65 34-52 40-51 39-40 44-39 55-39 57-33 52-24 52-18 65-17 65-10 65-4 65 2 65 9 52 12 65 22 65 29 52 30 52 38 48 42 43 46 39 51 36 59 25 52 20 52 17 65 10 65 4 65-4 65-10 65-17 65-20 52-25 52-36 59-39 51-43 46-48 42-52 38-52 30-65 29-65 22-52 12-65 9-65 2-65-4-65-10-65-17-52-18-52-24-57-33-55-39-44-39-39-40-40-51-34-52-33-65-20-52-17-65-11-65z" fill="#646464"/><path d="M1460 5000l2-52 9-65 14-52 18-52 25-52 31-52 35-47 40-44 44-39 46-34 52-31 52-24 52-18 65-17 65-8 52-2 52 2 65 10 52 13 65 23 52 25 52 31 41 30 44 39 37 39 39 52 32 52 25 52 19 52 13 52 8 52 4 65-4 65-8 52-13 52-19 52-25 52-32 52-39 52-37 39-44 39-41 30-52 31-52 25-65 23-52 13-65 10-52 2-52-2-65-8-65-17-52-18-52-24-52-31-46-34-44-39-40-44-35-47-31-52-25-52-18-52-14-52-9-65zM7338 5000l4-65 8-52 13-52 19-52 25-52 32-52 39-52 37-39 44-39 41-30 52-31 52-25 65-23 52-13 65-10 52-2 52 2 65 8 65 17 52 18 52 24 52 31 46 34 44 39 40 44 35 47 31 52 25 52 18 52 14 52 9 65 2 52-2 52-9 65-14 52-18 52-25 52-31 52-35 47-40 44-44 39-46 34-52 31-52 24-52 18-65 17-65 8-52 2-52-2-65-10-52-13-65-23-52-25-52-31-41-30-44-39-37-39-39-52-32-52-25-52-19-52-13-52-8-52z" fill="#767676"/><path d="M1497 5000l3-52 8-52 13-52 18-52 25-52 24-39 32-43 39-43 39-35 48-35 43-25 52-24 52-18 52-13 52-7 52-3 52 3 52 7 52 12 52 18 52 23 46 27 45 32 39 35 39 41 36 48 24 39 26 52 18 52 14 52 7 52 3 52-3 52-7 52-14 52-18 52-26 52-24 39-36 48-39 41-39 35-45 32-46 27-52 23-52 18-52 12-52 7-52 3-52-3-52-7-52-13-52-18-52-24-43-25-48-35-39-35-39-43-32-43-24-39-25-52-18-52-13-52-8-52zM7394 5000l3-52 7-52 14-52 18-52 26-52 24-39 36-48 39-41 39-35 45-32 46-27 52-23 52-18 52-12 52-7 52-3 52 3 52 7 52 13 52 18 52 24 43 25 48 35 39 35 39 43 32 43 24 39 25 52 18 52 13 52 8 52 3 52-3 52-8 52-13 52-18 52-25 52-24 39-32 43-39 43-39 35-48 35-43 25-52 24-52 18-52 13-52 7-52 3-52-3-52-7-52-12-52-18-52-23-46-27-45-32-39-35-39-41-36-48-24-39-26-52-18-52-14-52-7-52z" fill="#898989"/><path d="M1532 5000l2-52 8-52 14-52 15-39 26-52 24-39 30-39 34-36 39-34 39-28 39-23 52-23 52-18 39-9 52-7 52-2 52 3 52 9 52 14 39 14 47 23 44 27 39 29 38 35 35 39 28 39 23 39 24 52 14 39 12 52 6 39 3 52-3 52-6 39-12 52-14 39-24 52-23 39-28 39-35 39-38 35-39 29-44 27-47 23-39 14-52 14-52 9-52 3-52-2-52-7-39-9-52-18-52-23-39-23-39-28-39-34-34-36-30-39-24-39-26-52-15-39-14-52-8-52zM7443 5000l3-52 6-39 12-52 14-39 24-52 23-39 28-39 35-39 38-35 39-29 44-27 47-23 39-14 52-14 52-9 52-3 52 2 52 7 39 9 52 18 52 23 39 23 39 28 39 34 34 36 30 39 24 39 26 52 15 39 14 52 8 52 2 52-2 52-8 52-14 52-15 39-26 52-24 39-30 39-34 36-39 34-39 28-39 23-52 23-52 18-39 9-52 7-52 2-52-3-52-9-52-14-39-14-47-23-44-27-39-29-38-35-35-39-28-39-23-39-24-52-14-39-12-52-6-39z" fill="#9b9b9b"/><path d="M1562 5000l2-39 7-52 14-52 14-39 19-39 24-39 29-39 27-30 39-35 35-26 43-25 39-18 39-15 52-13 39-6 52-3 52 3 39 6 52 13 39 14 40 18 44 26 36 26 36 32 30 33 30 39 23 39 19 39 19 52 10 39 6 39 3 52-3 52-6 39-10 39-19 52-19 39-23 39-30 39-30 33-36 32-36 26-44 26-40 18-39 14-52 13-39 6-52 3-52-3-39-6-52-13-39-15-39-18-43-25-35-26-39-35-27-30-29-39-24-39-19-39-14-39-14-52-7-52zM7486 5000l3-52 6-39 10-39 19-52 19-39 23-39 30-39 30-33 36-32 36-26 44-26 40-18 39-14 52-13 39-6 52-3 52 3 39 6 52 13 39 15 39 18 43 25 35 26 39 35 27 30 29 39 24 39 19 39 14 39 14 52 7 52 2 39-2 39-7 52-14 52-14 39-19 39-24 39-29 39-27 30-39 35-35 26-43 25-39 18-39 15-52 13-39 6-52 3-52-3-39-6-52-13-39-14-40-18-44-26-36-26-36-32-30-33-30-39-23-39-19-39-19-52-10-39-6-39z" fill="#adadad"/><path d="M1601 5000l7-78 22-78 18-39 23-39 27-36 26-29 28-26 37-28 39-23 39-18 78-23 39-7 52-2 78 8 78 23 39 18 39 23 39 29 28 26 53 65 24 39 17 39 23 78 7 78-7 78-23 78-17 39-24 39-53 65-28 26-39 29-39 23-39 18-78 23-78 8-52-2-39-7-78-23-39-18-39-23-37-28-28-26-26-29-27-36-23-39-18-39-22-78zM7539 5000l7-78 23-78 17-39 24-39 53-65 28-26 39-29 39-23 39-18 78-23 78-8 52 2 39 7 78 23 39 18 39 23 37 28 28 26 26 29 27 36 23 39 18 39 22 78 7 78-7 78-22 78-18 39-23 39-27 36-26 29-28 26-37 28-39 23-39 18-78 23-39 7-52 2-78-8-78-23-39-18-39-23-39-29-28-26-53-65-24-39-17-39-23-78z" fill="#bfbfbf"/><path d="M1634 5000l2-39 6-39 20-65 33-65 29-39 23-26 29-26 35-26 69-35 65-20 78-8 78 7 39 10 39 14 65 35 60 49 23 26 29 39 34 65 19 65 8 78-8 78-19 65-34 65-29 39-23 26-60 49-65 35-39 14-39 10-78 7-78-8-65-20-69-35-35-26-29-26-23-26-29-39-33-65-20-65-6-39zM7583 5000l8-78 19-65 34-65 29-39 23-26 60-49 65-35 39-14 39-10 78-7 78 8 65 20 69 35 35 26 29 26 23 26 29 39 33 65 20 65 6 39 2 39-2 39-6 39-20 65-33 65-29 39-23 26-29 26-35 26-69 35-65 20-78 8-78-7-39-10-39-14-65-35-60-49-23-26-29-39-34-65-19-65z" fill="#d1d1d1"/><path d="M1664 5000l6-65 18-65 34-65 42-52 51-43 65-36 65-21 39-6 39-2 39 2 39 7 65 21 65 37 47 41 42 52 34 65 19 65 6 65-6 65-19 65-34 65-42 52-47 41-65 37-65 21-39 7-39 2-39-2-39-6-65-21-65-36-51-43-42-52-34-65-18-65zM7621 5000l6-65 19-65 34-65 42-52 47-41 65-37 65-21 39-7 39-2 39 2 39 6 65 21 65 36 51 43 42 52 34 65 18 65 6 65-6 65-18 65-34 65-42 52-51 43-65 36-65 21-39 6-39 2-39-2-39-7-65-21-65-37-47-41-42-52-34-65-19-65z" fill="#e4e4e4"/><path d="M1697 5000l6-65 16-52 27-52 43-55 52-42 52-28 65-19 65-6 65 8 52 17 52 27 56 46 41 52 26 52 16 52 7 65-7 65-16 52-26 52-41 52-56 46-52 27-52 17-65 8-65-6-65-19-52-28-52-42-43-55-27-52-16-52zM7662 5000l7-65 16-52 26-52 41-52 56-46 52-27 52-17 65-8 65 6 65 19 52 28 52 42 43 55 27 52 16 52 6 65-6 65-16 52-27 52-43 55-52 42-52 28-65 19-65 6-65-8-52-17-52-27-56-46-41-52-26-52-16-52z" fill="#ffffff"/></g></g></mask>
<filter id="fA2" filterUnits="userSpaceOnUse" x="1.62" y="4.61" width="6.77" height=".79"><feGaussianBlur stdDeviation=".02"/></filter>
<mask id="mA2" maskUnits="userSpaceOnUse" x="1.62" y="4.61" width="6.77" height=".79"><g filter="url(#fA2)"><g transform="scale(.001)" fill-rule="evenodd"><path d="M1731 5000l5-52 15-52 28-52 36-44 39-32 52-28 52-16 52-5 65 7 52 17 52 30 37 32 32 39 28 52 15 52 5 52-5 52-15 52-28 52-32 39-37 32-52 30-52 17-65 7-52-5-52-16-52-28-39-32-36-44-28-52-15-52zM7704 5000l5-52 15-52 28-52 32-39 37-32 52-30 52-17 65-7 52 5 52 16 52 28 39 32 36 44 28 52 15 52 5 52-5 52-15 52-28 52-36 44-39 32-52 28-52 16-52 5-65-7-52-17-52-30-37-32-32-39-28-52-15-52z" fill="#0d0d0d"/><path d="M1765 5000l5-52 12-39 20-39 31-39 34-30 52-28 39-12 52-6 52 6 39 12 52 28 34 30 31 39 20 39 12 39 5 52-5 52-12 39-20 39-31 39-34 30-52 28-39 12-52 6-52-6-39-12-52-28-34-30-31-39-20-39-12-39zM7745 5000l5-52 12-39 20-39 31-39 34-30 52-28 39-12 52-6 52 6 39 12 52 28 34 30 31 39 20 39 12 39 5 52-5 52-12 39-20 39-31 39-34 30-52 28-39 12-52 6-52-6-39-12-52-28-34-30-31-39-20-39-12-39z" fill="#262626"/><path d="M1794 5000l4-39 11-39 20-39 25-31 39-32 39-19 39-11 39-3 39 4 39 12 39 21 26 20 26 29 21 36 15 39 6 52-6 52-15 39-21 36-26 29-26 20-39 21-39 12-39 4-39-3-39-11-39-19-39-32-25-31-20-39-11-39zM7779 5000l6-52 15-39 21-36 26-29 26-20 39-21 39-12 39-4 39 3 39 11 39 19 39 32 25 31 20 39 11 39 4 39-4 39-11 39-20 39-25 31-39 32-39 19-39 11-39 3-39-4-39-12-39-21-26-20-26-29-21-36-15-39z" fill="#404040"/><path d="M1820 5000l4-39 8-26 20-39 22-26 32-26 26-14 39-12 39-3 39 5 26 8 39 22 24 20 21 26 20 39 8 26 4 39-4 39-8 26-20 39-21 26-24 20-39 22-26 8-39 5-39-3-39-12-26-14-32-26-22-26-20-39-8-26zM7809 5000l4-39 8-26 20-39 21-26 24-20 39-22 26-8 39-5 39 3 39 12 26 14 32 26 22 26 20 39 8 26 4 39-4 39-8 26-20 39-22 26-32 26-26 14-39 12-39 3-39-5-26-8-39-22-24-20-21-26-20-39-8-26z" fill="#595959"/><path d="M1843 5000l5-39 9-26 14-26 22-26 26-20 26-13 39-10 26-1 26 3 26 7 26 13 27 21 23 26 14 26 9 26 5 39-5 39-9 26-14 26-23 26-27 21-26 13-26 7-26 3-26-1-39-10-26-13-26-20-22-26-14-26-9-26zM7834 5000l5-39 9-26 14-26 23-26 27-21 26-13 26-7 26-3 26 1 39 10 26 13 26 20 22 26 14 26 9 26 5 39-5 39-9 26-14 26-22 26-26 20-26 13-39 10-26 1-26-3-26-7-26-13-27-21-23-26-14-26-9-26z" fill="#737373"/><path d="M1862 5000l3-26 8-26 13-26 20-23 39-27 26-9 26-3 26 1 26 6 26 12 26 20 19 23 14 26 8 26 2 26-2 26-8 26-14 26-19 23-26 20-26 12-26 6-26 1-26-3-26-9-39-27-20-23-13-26-8-26zM7856 5000l2-26 8-26 14-26 19-23 26-20 26-12 26-6 26-1 26 3 26 9 39 27 20 23 13 26 8 26 3 26-3 26-8 26-13 26-20 23-39 27-26 9-26 3-26-1-26-6-26-12-26-20-19-23-14-26-8-26z" fill="#8c8c8c"/><path d="M1881 5000l3-26 9-26 26-36 13-10 26-15 39-8 26 2 26 7 26 15 13 12 24 33 9 26 3 26-3 26-9 26-24 33-13 12-26 15-26 7-26 2-39-8-26-15-13-10-26-36-9-26zM7876 5000l3-26 9-26 24-33 13-12 26-15 26-7 26-2 39 8 26 15 13 10 26 36 9 26 3 26-3 26-9 26-26 36-13 10-26 15-39 8-26-2-26-7-26-15-13-12-24-33-9-26z" fill="#a6a6a6"/><path d="M1898 5000l8-39 13-22 13-15 26-17 39-10 39 6 26 13 13 12 22 33 8 39-8 39-22 33-13 12-26 13-39 6-39-10-26-17-13-15-13-22zM7895 5000l8-39 22-33 13-12 26-13 39-6 39 10 26 17 13 15 13 22 8 39-8 39-13 22-13 15-26 17-39 10-39-6-26-13-13-12-22-33z" fill="#bfbfbf"/><path d="M1914 5000l1-13 8-26 20-26 28-17 26-5 26 2 13 5 26 17 17 24 6 13 3 26-3 26-6 13-17 24-26 17-13 5-26 2-26-5-28-17-20-26-8-26zM7912 5000l3-26 6-13 17-24 26-17 13-5 26-2 26 5 28 17 20 26 8 26 1 13-1 13-8 26-20 26-28 17-26 5-26-2-13-5-26-17-17-24-6-13z" fill="#d9d9d9"/><path d="M1929 5000l5-26 17-26 20-13 26-7 26 3 27 17 18 26 5 26-5 26-18 26-27 17-26 3-26-7-20-13-17-26zM7927 5000l5-26 18-26 27-17 26-3 26 7 20 13 17 26 5 26-5 26-17 26-20 13-26 7-26-3-27-17-18-26z" fill="#ffffff"/></g></g></mask>
<mask id="fgC" maskUnits="userSpaceOnUse" x="0" y="0" width="10" height="10"><g transform="scale(.001)" fill-rule="evenodd"><rect x="-200" y="-200" width="10400" height="10400" fill="#040404"/><path d="M-200-200l10400 0 0 10400-10400 0zM2010 5000l39-4 182-43 926-239 295-65 277-52 322-49 312-34 317-21 320-7 320 7 317 21 312 34 322 49 277 52 295 65 926 239 182 43 39 4-39 4-182 43-926 239-295 65-277 52-322 49-312 34-317 21-320 7-320-7-317-21-312-34-322-49-277-52-295-65-926-239-182-43z" fill="#0b0b0b"/><path d="M-200-200l10400 0 0 10400-10400 0zM2010 5000l78-20 156-53 624-240 286-103 286-91 286-78 312-68 325-51 325-30 312-10 312 10 325 30 325 51 312 68 286 78 286 91 286 103 624 240 156 53 78 20-78 20-156 53-624 240-286 103-286 91-286 78-312 68-325 51-325 30-312 10-312-10-325-30-325-51-312-68-286-78-286-91-286-103-624-240-156-53z" fill="#131313"/><path d="M-200-200l10400 0 0 10400-10400 0zM2010 5000l104-35 143-62 598-292 286-131 286-115 273-94 325-89 325-65 325-38 325-13 325 13 325 38 325 65 325 89 273 94 286 115 286 131 598 292 143 62 104 35-104 35-143 62-598 292-286 131-286 115-273 94-325 89-325 65-325 38-325 13-325-13-325-38-325-65-325-89-273-94-286-115-286-131-598-292-143-62z" fill="#1b1b1b"/><path d="M-200-200l10400 0 0 10400-10400 0zM2010 5000l99-39 152-78 581-341 299-163 273-131 273-111 325-106 325-76 333-47 330-15 330 15 333 47 325 76 325 106 273 111 273 131 299 163 581 341 152 78 99 39-99 39-152 78-581 341-299 163-273 131-273 111-325 106-325 76-333 47-330 15-330-15-333-47-325-76-325-106-273-111-273-131-299-163-581-341-152-78z" fill="#222222"/><path d="M-200-200l10400 0 0 10400-10400 0zM2010 5000l113-52 131-78 588-401 286-181 273-152 273-128 169-68 156-54 169-50 169-40 156-29 169-23 169-13 169-5 169 5 169 13 169 23 156 29 169 40 169 50 156 54 169 68 273 128 273 152 286 181 588 401 131 78 113 52-113 52-131 78-588 401-286 181-273 152-273 128-169 68-156 54-169 50-169 40-156 29-169 23-169 13-169 5-169-5-169-13-169-23-156-29-169-40-169-50-156-54-169-68-273-128-273-152-286-181-588-401-131-78z" fill="#2a2a2a"/><path d="M-200-200l10400 0 0 10400-10400 0zM2010 5000l103-52 137-91 592-461 286-206 273-172 260-138 156-71 169-67 169-56 169-45 169-35 169-26 169-15 169-5 169 5 169 15 169 26 169 35 169 45 169 56 169 67 156 71 260 138 273 172 286 206 592 461 137 91 103 52-103 52-137 91-592 461-286 206-273 172-260 138-156 71-169 67-169 56-169 45-169 35-169 26-169 15-169 5-169-5-169-15-169-26-169-35-169-45-169-56-169-67-156-71-260-138-273-172-286-206-592-461-137-91z" fill="#323232"/><path d="M-200-200l10400 0 0 10400-10400 0zM2010 5000l115-65 138-104 566-501 286-233 273-194 260-155 156-79 169-74 169-62 169-51 169-39 169-28 169-18 182-6 182 6 169 18 169 28 169 39 169 51 169 62 169 74 156 79 260 155 273 194 286 233 566 501 138 104 115 65-115 65-138 104-566 501-286 233-273 194-260 155-156 79-169 74-169 62-169 51-169 39-169 28-169 18-182 6-182-6-169-18-169-28-169-39-169-51-169-62-169-74-156-79-260-155-273-194-286-233-566-501-138-104z" fill="#393939"/><path d="M-200-200l10400 0 0 10400-10400 0zM2010 5000l124-78 138-117 557-555 286-262 260-205 260-172 169-95 169-81 169-68 169-55 169-43 169-30 169-19 182-7 182 7 169 19 169 30 169 43 169 55 169 68 169 81 169 95 260 172 260 205 286 262 557 555 138 117 124 78-124 78-138 117-557 555-286 262-260 205-260 172-169 95-169 81-169 68-169 55-169 43-169 30-169 19-182 7-182-7-169-19-169-30-169-43-169-55-169-68-169-81-169-95-260-172-260-205-286-262-557-555-138-117z" fill="#414141"/><path d="M-200-200l10400 0 0 10400-10400 0zM2010 5000l116-78 140-130 145-156 418-474 273-280 260-229 260-191 169-105 169-89 169-75 169-61 169-47 182-37 169-20 182-7 182 7 169 20 182 37 169 47 169 61 169 75 169 89 169 105 260 191 260 229 273 280 418 474 145 156 140 130 116 78-116 78-140 130-145 156-418 474-273 280-260 229-260 191-169 105-169 89-169 75-169 61-169 47-182 37-169 20-182 7-182-7-169-20-182-37-169-47-169-61-169-75-169-89-169-105-260-191-260-229-273-280-418-474-145-156-140-130z" fill="#494949"/><path d="M-200-200l10400 0 0 10400-10400 0zM2010 5000l61-39 63-52 138-143 151-182 406-519 273-314 247-242 130-112 130-101 169-116 169-98 169-83 169-68 182-56 169-37 182-24 182-8 182 8 182 24 169 37 182 56 169 68 169 83 169 98 169 116 130 101 130 112 247 242 273 314 406 519 151 182 138 143 63 52 61 39-61 39-63 52-138 143-151 182-406 519-273 314-247 242-130 112-130 101-169 116-169 98-169 83-169 68-182 56-169 37-182 24-182 8-182-8-182-24-169-37-182-56-169-68-169-83-169-98-169-116-130-101-130-112-247-242-273-314-406-519-151-182-138-143-63-52z" fill="#505050"/><path d="M-200-200l10400 0 0 10400-10400 0zM2010 5000l58-39 72-65 146-169 134-182 409-593 143-191 130-161 247-271 130-124 130-112 169-127 169-109 169-91 169-74 182-61 169-41 182-26 182-9 182 9 182 26 169 41 182 61 169 74 169 91 169 109 169 127 130 112 130 124 247 271 130 161 143 191 409 593 134 182 146 169 72 65 58 39-58 39-72 65-146 169-134 182-409 593-143 191-130 161-247 271-130 124-130 112-169 127-169 109-169 91-169 74-182 61-169 41-182 26-182 9-182-9-182-26-169-41-182-61-169-74-169-91-169-109-169-127-130-112-130-124-247-271-130-161-143-191-409-593-134-182-146-169-72-65z" fill="#585858"/><path d="M-200-200l10400 0 0 10400-10400 0zM2010 5000l70-52 53-52 77-91 77-104 143-221 412-683 130-197 130-184 117-152 130-154 117-126 130-128 169-145 169-124 169-104 182-90 169-65 182-50 182-30 182-10 182 10 182 30 182 50 169 65 182 90 169 104 169 124 169 145 130 128 117 126 130 154 117 152 130 184 130 197 412 683 143 221 77 104 77 91 53 52 70 52-70 52-53 52-77 91-77 104-143 221-412 683-130 197-130 184-117 152-130 154-117 126-130 128-169 145-169 124-169 104-182 90-169 65-182 50-182 30-182 10-182-10-182-30-182-50-169-65-182-90-169-104-169-124-169-145-130-128-117-126-130-154-117-152-130-184-130-197-412-683-143-221-77-104-77-91-53-52z" fill="#606060"/><path d="M-200-200l10400 0 0 10400-10400 0zM2010 5000l66-52 73-78 78-104 75-117 145-260 408-788 130-230 143-233 234-336 117-147 130-149 169-172 169-148 182-133 169-102 169-79 182-61 182-36 169-11 169 11 182 36 182 61 169 79 169 102 182 133 169 148 169 172 130 149 117 147 234 336 143 233 130 230 408 788 145 260 75 117 78 104 73 78 66 52-66 52-73 78-78 104-75 117-145 260-408 788-130 230-143 233-234 336-117 147-130 149-169 172-169 148-182 133-169 102-169 79-182 61-182 36-169 11-169-11-182-36-182-61-169-79-169-102-182-133-169-148-169-172-130-149-117-147-234-336-143-233-130-230-408-788-145-260-75-117-78-104-73-78z" fill="#676767"/><path d="M-200 399l286-115 286-94 286-76 299-59 299-40 299-20 299-1 286 19 299 40 286 60 273 81 253 100 215 112 177 122 74 65 61 65 52 68 44 75 26 65 21 78 8 78-2 78-12 78-22 91-73 195-136 273-426 781-208 414-221 484-370 869-128 273-93 169-77 117-75 91-76 65 76 65 75 91 77 117 93 169 128 273 357 840 208 458 234 469 305 560 208 390 60 130 45 117 34 117 17 104 1 91-13 91-30 91-48 91-70 91-80 79-113 90-121 78-143 76-143 65-182 68-195 59-195 47-208 39-208 27-221 18-221 7-221-4-221-15-221-26-208-34-221-46-221-58-208-64-208-75-208-85zM6071 8952l7-91 22-104 38-117 54-130 131-260 406-744 221-438 208-454 343-808 130-286 108-208 90-143 85-104 76-65-76-65-75-91-77-117-93-169-128-273-370-869-221-484-221-438-406-744-131-260-77-195-37-156-7-78 2-65 12-78 19-65 59-117 82-104 112-104 147-104 173-96 194-86 209-74 221-61 234-50 234-35 234-21 247-9 247 5 247 18 247 32 247 44 247 59 247 72 234 82 234 95 0 9202-312 124-325 104-325 80-325 56-338 34-325 9-325-15-312-37-325-66-299-88-273-111-123-63-111-66-104-74-81-68-64-65-61-78-46-78-31-78-18-78z" fill="#6f6f6f"/><path d="M-200 990l234-99 247-86 234-65 247-52 247-33 234-16 234 2 234 19 221 37 208 55 195 73 169 85 148 99 131 117 98 120 80 140 46 117 31 130 17 143 1 143-11 156-26 182-40 195-58 234-121 429-168 546-133 403-114 312-95 221-103 195-93 130-84 78 61 52 55 65 61 91 52 91 114 247 133 351 219 676 199 676 97 403 30 169 19 155 6 222-8 104-17 104-24 91-34 91-45 91-49 78-61 78-67 71-78 69-91 67-91 56-104 54-117 50-117 42-260 67-286 40-299 11-299-17-312-45-299-70-299-97-299-123zM6943 1867l3-104 12-104 17-91 27-91 37-91 41-79 52-79 61-76 69-70 78-67 169-113 208-99 234-78 247-52 273-30 286-4 286 21 286 45 299 73 286 93 286 119 0 8020-117 52-234 90-234 74-234 58-247 44-234 25-234 9-234-8-221-25-221-44-195-59-182-74-156-85-142-102-118-113-94-121-75-141-42-119-28-130-14-143 1-143 13-156 28-182 44-208 59-234 127-442 169-546 129-390 106-286 102-234 91-169 93-130 84-78-61-52-64-78-67-104-63-117-130-299-144-403-245-780-164-585-51-221-32-182-20-169z" fill="#777777"/><path d="M-200 1498l208-95 208-78 208-63 221-49 221-32 208-14 208 3 195 19 182 35 182 54 169 72 143 81 130 98 116 117 92 123 74 137 50 130 38 143 24 156 11 169-2 182-13 195-27 221-39 247-59 299-74 312-71 260-76 234-78 195-79 156-79 117-81 78 58 52 70 91 61 104 67 143 61 156 64 195 121 455 104 507 34 221 24 208 12 182 2 169-8 156-20 145-45 180-68 169-86 143-113 134-143 123-156 97-182 82-195 61-221 41-221 19-234-3-234-24-234-43-247-67-247-89-234-105zM7311 2569l12-234 36-208 30-104 34-91 86-163 52-74 65-78 65-64 78-66 169-110 195-89 221-67 247-42 260-13 260 13 273 41 273 68 273 94 260 116 0 6622 0 382-156 73-169 68-156 53-169 48-169 38-169 28-169 17-156 7-234-8-234-33-221-58-195-78-169-97-78-57-78-68-119-133-99-156-57-130-44-143-30-156-14-156-3-182 9-195 24-221 35-234 59-312 74-325 77-286 79-247 82-208 79-156 79-117 81-78-58-52-52-65-50-78-55-104-106-260-102-325-106-429-83-429-51-377z" fill="#7e7e7e"/><path d="M-200 1940l195-98 195-80 195-63 195-48 195-31 195-15 182 2 182 19 169 34 156 49 151 67 135 81 117 91 111 114 87 117 80 143 53 130 39 130 32 156 19 156 10 169 0 195-12 208-21 208-34 234-45 234-50 208-54 182-65 169-65 130-70 104-67 65 56 52 66 91 56 104 61 143 53 156 49 182 44 195 35 195 50 403 12 195 2 182-6 156-16 156-25 143-34 133-61 166-82 154-97 132-111 114-130 100-143 83-161 67-177 50-195 33-195 11-208-8-208-27-221-49-208-65-208-83-208-104zM7506 3154l11-260 33-234 57-208 79-182 54-91 55-78 65-76 65-65 153-119 172-94 104-43 104-33 221-47 247-20 247 10 260 40 260 68 260 97 247 121 0 5400 0 720-195 98-195 80-208 67-195 47-260 36-260 7-130-9-117-16-221-52-104-37-104-46-91-50-91-60-78-62-78-74-68-77-65-91-67-117-60-140-45-146-32-156-21-169-9-182 2-195 14-221 30-260 43-260 50-234 62-221 65-182 66-143 75-117 77-78-44-39-43-52-50-78-41-78-80-195-70-234-65-286-50-312-31-299z" fill="#868686"/><path d="M-200 2329l169-95 182-85 182-68 182-52 182-36 182-19 169-3 169 14 156 29 156 47 143 61 130 76 117 91 104 103 91 118 81 137 52 117 45 130 37 143 25 143 18 156 8 169 0 182-10 182-20 195-30 195-39 182-44 156-53 143-50 104-60 91-64 65 53 52 56 78 54 104 51 130 40 130 38 156 53 325 25 338 1 169-7 156-14 143-23 143-30 130-40 130-66 156-82 143-96 125-117 115-130 96-143 78-156 60-156 40-182 26-182 6-195-13-195-33-195-51-195-70-195-89-182-102zM7619 3583l10-260 34-247 57-221 79-195 100-169 65-84 65-70 143-121 169-100 91-41 104-36 104-28 117-22 117-13 117-5 234 12 247 43 247 72 247 104 234 127 0 4465 0 877-130 74-130 66-260 104-260 71-130 23-130 14-130 6-117-2-117-11-117-19-117-28-104-34-104-45-91-48-91-58-85-67-81-78-68-78-78-111-68-123-54-130-47-150-35-162-23-169-12-182-2-195 12-221 24-221 35-208 46-195 54-169 62-143 64-104 74-78-74-78-76-130-64-156-50-169-46-208-33-221-22-234z" fill="#8e8e8e"/><path d="M-200 2680l156-101 169-91 169-74 169-57 169-41 169-26 169-9 156 7 156 24 143 38 143 56 130 72 117 85 104 98 91 110 78 122 48 92 43 102 68 223 43 247 19 260-2 195-13 182-24 182-35 169-46 156-55 130-62 104-62 65 51 52 45 65 41 78 42 104 63 234 43 286 14 286-13 286-40 260-29 117-38 117-66 156-87 150-95 123-113 112-130 96-143 78-156 58-156 38-169 20-182 1-182-19-195-41-182-57-182-76-182-95-169-109zM7691 3882l12-260 36-247 58-221 80-195 100-169 65-85 65-71 143-121 78-51 91-49 91-40 104-35 104-26 104-18 221-13 234 19 234 50 234 80 234 112 221 138 0 3750 0 890-195 124-195 98-234 89-130 36-117 25-234 25-117 1-117-8-117-17-104-23-104-33-91-37-91-47-91-57-78-59-78-71-78-87-65-88-65-107-52-108-46-117-38-130-32-143-21-143-18-221 1-221 16-221 31-208 46-195 56-156 37-78 40-65 71-78-62-65-62-104-50-117-41-130-38-169-25-169-16-182z" fill="#959595"/><path d="M-200 3001l143-108 143-90 156-82 156-66 169-53 156-34 156-18 156-3 156 15 143 30 130 43 130 61 117 74 104 86 98 103 84 114 52 87 52 105 44 110 34 106 53 245 25 260 2 169-9 156-19 156-28 143-34 117-47 117-53 91-59 65 49 52 36 52 39 78 35 91 53 208 30 221 7 247-15 236-39 232-60 208-65 156-83 146-95 127-113 114-130 97-143 78-156 58-156 35-169 17-182-5-182-26-182-46-182-67-169-82-169-103-169-125zM7740 4090l14-260 38-234 63-221 83-191 104-167 65-81 65-68 78-68 78-57 78-47 91-45 91-36 104-30 104-21 104-13 104-5 117 4 221 30 221 61 221 92 215 122 201 146 0 3169 0 829-195 142-195 113-208 91-221 66-221 36-208 5-104-8-104-17-182-52-91-38-91-48-78-50-78-60-91-86-78-92-65-94-63-113-53-117-41-117-35-130-29-149-22-189-7-195 8-195 25-195 41-182 52-143 65-117 59-65-49-52-50-78-41-91-39-117-31-130-22-143-13-143z" fill="#9d9d9d"/><path d="M-200 3303l130-116 130-98 143-90 143-74 143-58 156-48 156-30 143-14 143 2 143 18 130 31 130 48 117 60 117 81 104 95 91 106 65 94 52 92 48 103 39 104 35 117 27 117 21 130 12 130 5 143-5 143-16 143-22 117-32 117-43 104-47 78-48 52 37 39 37 52 59 130 46 169 27 195 7 195-12 208-32 199-52 193-65 165-86 158-96 130-117 119-130 97-143 77-156 56-156 32-169 12-182-11-182-34-182-57-182-81-169-97-157-113-155-136zM7777 4246l11-221 35-221 58-208 77-182 97-163 117-141 130-115 143-90 169-71 182-44 195-16 195 13 195 39 208 71 195 94 182 116 117 91 117 105 0 2672 0 722-104 94-104 83-104 72-117 70-195 93-195 65-195 39-195 13-182-14-182-42-169-69-143-87-91-73-78-78-78-96-68-103-61-117-49-117-43-136-32-137-26-169-12-182 3-169 18-169 31-156 48-143 56-104 57-65-48-52-40-65-35-78-31-91-25-104-19-117z" fill="#a4a4a4"/><path d="M-200 3597l108-118 113-105 130-102 130-84 143-76 143-58 143-43 143-27 143-12 143 5 130 19 130 36 117 47 117 66 104 77 104 101 65 79 65 95 52 94 50 109 37 104 33 117 25 117 17 130 9 130-1 130-10 130-20 117-31 117-38 91-38 65-46 52 63 78 49 104 38 130 26 156 9 169-7 169-23 169-38 165-65 185-78 156-91 134-117 128-130 103-143 81-156 58-156 32-169 11-182-14-182-39-169-59-169-81-169-107-156-125-143-141-52-59zM7805 4350l11-195 32-195 51-184 69-167 87-152 104-134 117-111 130-91 156-75 156-47 169-24 169 0 182 25 169 45 182 73 169 93 117 80 117 94 104 98 104 114 0 2248 0 558-117 127-130 118-130 98-140 87-172 83-169 59-169 37-169 16-169-8-156-28-156-54-143-75-91-64-91-81-78-87-71-97-59-100-57-121-47-129-35-131-29-156-14-156-2-156 13-156 24-130 40-130 52-104 55-65-36-39-35-52-36-78-27-78-39-195z" fill="#acacac"/><path d="M-200 3898l95-133 100-117 106-104 115-96 117-81 130-74 130-57 143-47 143-31 130-12 143 2 130 18 130 36 117 48 104 59 104 78 78 74 65 74 65 91 58 100 49 104 43 117 32 113 24 121 16 130 5 130-4 117-15 117-24 104-32 91-43 78-44 52 44 52 48 91 34 104 23 117 12 130 0 130-12 143-22 130-42 156-60 156-77 145-91 127-104 109-117 92-130 74-143 55-143 32-156 12-156-8-169-32-156-51-162-74-150-91-143-110-92-85-90-96-81-99-75-107zM7828 4441l10-182 28-169 46-166 65-159 78-139 91-122 104-106 117-89 130-71 143-53 143-30 156-10 156 10 169 34 156 52 156 73 180 113 158 131 148 155 138 185 0 1830 0 374-127 172-146 156-156 132-169 110-143 71-156 57-156 37-156 17-156-3-143-23-130-39-130-60-91-56-91-71-78-77-78-94-65-99-58-110-49-117-40-130-31-143-18-143-5-143 8-143 22-130 35-117 36-78 61-78-35-39-33-52-51-130-32-156z" fill="#b4b4b4"/><path d="M-200 4235l66-132 78-130 90-122 98-112 110-104 104-82 117-76 130-68 130-51 130-36 130-20 130-6 130 10 117 24 117 39 117 57 91 59 91 76 78 82 65 84 65 105 50 102 41 104 35 117 24 117 16 130 4 130-8 117-17 104-31 104-45 91-43 52 34 39 38 65 44 130 25 169-1 195-20 156-38 156-56 152-65 129-78 117-91 105-104 92-117 76-130 60-130 39-143 21-143 1-143-17-143-35-143-53-143-74-104-67-91-69-97-87-87-91-84-104-73-104-69-117-58-119zM7846 4506l9-156 26-156 44-156 59-143 71-129 78-107 104-110 104-82 117-69 130-53 130-33 143-15 143 3 143 22 143 41 143 58 117 63 117 78 106 86 107 104 90 104 87 119 77 128 66 132 0 1415 0 115-7 15-96 182-117 169-105 122-117 112-117 91-130 82-130 64-130 48-130 33-143 19-130 1-130-15-130-33-117-47-91-49-91-64-78-69-80-87-67-91-61-104-52-112-43-122-33-130-21-143-8-130 5-130 17-117 34-117 45-91 43-52-58-78-47-117-29-143z" fill="#bbbbbb"/><path d="M-200 4765l25-142 38-143 52-143 61-130 75-130 83-117 95-111 101-97 107-85 117-76 117-60 130-49 130-33 117-16 130-2 117 12 117 27 104 39 104 53 91 63 91 80 78 88 72 102 63 117 47 113 33 108 25 117 15 117 1 169-20 143-43 130-30 52-33 39 49 65 39 91 28 117 12 143-5 143-25 156-40 143-53 130-70 128-78 108-91 96-91 75-104 65-117 52-117 35-130 20-130 2-130-13-130-30-130-46-129-63-118-74-117-92-98-94-97-112-87-122-75-130-66-143-51-143-36-143-23-129zM7861 4558l9-143 25-143 42-143 53-128 65-117 78-108 91-96 91-75 104-65 117-52 117-35 130-20 130-2 130 13 130 30 130 46 117 57 117 71 117 90 104 98 98 111 84 117 77 130 62 130 40 104 36 117 45 220 0 470-25 142-34 130-51 143-59 130-74 130-81 117-92 110-99 98-109 89-104 70-117 63-130 53-117 33-130 22-130 5-117-9-117-24-117-40-104-52-91-60-78-65-78-81-65-84-65-105-52-108-39-106-33-121-20-117-10-130 3-117 13-104 28-104 35-78 49-65-56-78-40-104-26-130z" fill="#c1c1c1"/><path d="M-159 5000l6-143 19-143 31-143 44-143 54-130 67-130 76-118 91-116 99-104 106-91 107-75 117-65 117-50 130-40 130-22 117-6 130 9 117 24 117 41 104 53 104 72 91 82 78 91 78 118 65 132 50 143 31 143 15 156-4 143-24 130-39 104-55 78 55 78 39 104 24 130 4 143-15 156-31 143-50 143-65 132-78 118-78 91-91 82-104 72-104 53-117 41-117 24-130 9-117-6-130-22-130-40-117-50-117-65-107-75-106-91-99-104-91-116-76-118-67-130-54-130-44-143-31-143-19-143zM7867 5416l10-143 26-117 39-91 48-65-48-65-35-78-26-104-12-104-1-117 11-117 22-117 33-117 43-108 52-102 65-101 65-80 78-78 78-62 91-57 91-43 104-36 117-24 117-9 130 6 130 22 117 35 117 49 117 63 104 71 108 90 100 102 86 106 78 117 64 117 58 130 45 130 36 143 22 143 11 143-2 156-15 143-28 143-41 143-49 130-64 130-70 117-85 117-93 104-97 91-116 88-117 71-117 55-117 41-130 29-130 13-130-4-117-19-117-35-117-54-104-67-91-76-91-100-69-98-64-117-49-120-40-140-24-143z" fill="#c4c4c4"/><path d="M-104 5000l6-143 17-130 31-143 40-130 53-130 68-130 75-117 82-105 91-96 104-91 104-74 117-66 117-50 117-36 130-23 117-7 130 10 117 24 117 42 104 54 91 63 91 81 78 91 78 117 64 131 45 130 32 143 15 143-4 143-21 117-38 104-54 78 54 78 38 104 21 117 4 143-15 143-32 143-45 130-64 131-78 117-78 91-91 81-91 63-104 54-117 42-117 24-130 10-117-7-130-23-117-36-117-50-117-66-104-74-104-91-91-96-82-105-75-117-68-130-53-130-40-130-31-143-17-130zM7872 4597l8-130 23-130 35-124 52-127 62-113 68-96 91-99 91-76 104-66 104-47 117-36 117-19 117-5 130 12 130 29 117 40 117 56 117 71 104 80 97 91 92 104 76 104 70 117 63 130 49 130 40 143 24 130 14 143 2 143-11 143-23 143-34 130-45 130-52 117-64 117-79 117-85 104-95 95-104 87-104 70-104 56-117 49-117 34-117 20-117 7-117-8-117-22-104-35-91-42-91-57-78-61-78-77-65-80-65-100-52-103-39-99-32-111-22-117-11-117 2-117 14-104 25-91 28-65 48-65-48-65-37-91-25-117z" fill="#c7c7c7"/><path d="M-51 5000l7-143 17-130 28-130 41-130 53-130 62-117 75-117 82-104 87-91 101-87 104-73 109-61 112-48 117-35 117-21 117-7 117 7 117 23 117 40 104 53 91 62 91 81 78 90 71 106 60 117 51 140 31 133 16 143-3 130-22 130-40 104-47 65 47 65 40 104 22 130 3 130-16 143-31 133-51 140-60 117-71 106-78 90-91 81-91 62-104 53-117 40-117 23-117 7-117-7-117-21-117-35-112-48-109-61-104-73-101-87-87-91-82-104-75-117-62-117-53-130-41-130-28-130-17-130zM7877 5377l8-117 22-104 36-91 47-65-47-65-28-65-24-91-12-104-1-104 12-117 22-112 33-109 43-104 48-91 58-89 65-79 78-77 78-60 91-56 91-41 104-33 117-22 104-5 117 7 117 21 117 35 117 50 104 59 99 69 96 82 85 87 84 104 78 117 62 117 51 117 43 130 31 130 20 143 8 130-4 143-18 143-27 130-39 130-52 130-60 117-74 117-80 104-85 91-101 90-104 75-104 60-117 52-117 37-117 23-117 8-117-5-117-22-104-33-104-48-104-67-91-78-78-86-69-97-61-112-50-122-33-117-22-130z" fill="#cacaca"/><path d="M0 5000l5-130 17-130 28-130 41-130 48-117 61-117 68-106 79-102 86-91 95-83 104-74 104-59 104-45 117-37 117-22 117-7 117 7 117 23 104 36 104 52 91 61 91 80 78 89 65 95 65 126 45 122 33 135 16 138-2 130-20 117-39 104-46 65 46 65 39 104 20 117 2 130-16 138-33 135-45 122-65 126-65 95-78 89-91 80-91 61-104 52-104 36-117 23-117 7-117-7-117-22-117-37-104-45-104-59-104-74-95-83-86-91-79-102-68-106-61-117-48-117-41-130-28-130-17-130zM7882 4636l6-117 23-130 33-117 46-112 59-109 71-99 78-86 91-77 91-59 104-49 104-34 117-21 104-6 117 7 117 22 117 37 117 52 104 60 104 76 91 82 88 95 78 104 65 104 60 117 51 130 38 130 26 130 14 130 4 143-9 130-20 130-31 126-41 121-51 117-64 117-69 104-74 91-91 94-91 77-104 72-104 57-104 44-104 32-117 22-117 7-104-6-104-18-104-32-91-40-78-46-78-58-78-72-65-76-65-95-52-97-39-93-34-110-22-104-12-117 0-104 11-91 22-91 28-65 46-65-46-65-36-91-18-91z" fill="#cecece"/><path d="M49 5000l6-130 17-130 29-130 37-117 49-117 62-117 68-104 72-91 87-91 90-78 92-65 104-60 104-45 117-36 117-21 104-6 117 7 104 20 104 35 104 50 91 60 91 80 78 88 65 95 64 123 43 117 32 130 15 130-1 117-18 117-37 104-46 65 46 65 37 104 18 117 1 117-15 130-32 130-43 117-64 123-65 95-78 88-91 80-91 60-104 50-104 35-104 20-117 7-104-6-117-21-117-36-104-45-104-60-92-65-90-78-87-91-72-91-68-104-62-117-49-117-37-117-29-130-17-130zM7886 5351l7-104 21-104 30-78 46-65-46-65-26-65-19-78-11-91 0-104 11-104 21-104 31-101 39-94 52-97 52-78 65-78 78-75 78-60 78-46 91-42 104-32 104-18 104-6 104 6 117 21 104 31 104 44 104 57 104 73 91 79 78 81 78 97 71 108 56 104 50 117 38 117 31 130 18 130 7 130-5 130-16 130-24 117-40 130-47 117-60 117-66 103-71 92-85 92-91 81-103 74-105 60-104 45-104 33-117 22-117 8-104-6-104-18-104-32-104-49-91-58-91-76-78-85-65-90-59-105-49-117-33-117-21-117z" fill="#d1d1d1"/><path d="M96 5000l6-130 16-117 29-130 37-117 49-117 55-104 68-104 72-91 87-90 91-78 91-63 99-55 109-46 104-31 104-18 104-7 117 7 104 21 104 35 91 44 91 59 91 78 78 88 65 94 61 118 43 113 30 121 16 130-1 117-15 104-37 104-45 65 45 65 37 104 15 104 1 117-16 130-30 121-43 113-61 118-65 94-78 88-91 78-91 59-91 44-104 35-104 21-117 7-104-7-104-18-104-31-109-46-99-55-91-63-91-78-87-90-72-91-68-104-55-104-49-117-37-117-29-130-16-117zM7890 4662l8-117 21-117 32-108 48-113 56-100 65-89 78-84 78-66 91-59 91-44 104-35 104-21 104-7 117 7 117 21 104 33 104 45 104 59 93 67 89 78 85 91 71 92 65 103 60 117 46 117 35 117 24 117 16 130 4 117-8 130-18 130-28 117-39 117-44 104-55 104-71 108-78 97-78 80-91 78-91 63-104 58-104 43-104 31-104 18-104 7-104-6-104-19-91-27-91-41-78-46-78-58-65-60-65-75-58-82-46-82-44-100-34-106-22-102-11-104-1-91 10-91 18-78 26-65 45-65-45-65-26-65-22-104z" fill="#d4d4d4"/><path d="M142 5000l5-117 15-117 25-117 36-117 48-117 55-104 67-104 70-89 78-82 88-76 93-65 92-52 104-45 104-31 104-20 104-6 117 7 104 21 104 35 91 45 91 61 78 67 78 87 65 94 60 114 43 117 29 117 14 117-1 117-16 104-33 91-44 65 44 65 33 91 16 104 1 117-14 117-29 117-43 117-60 114-65 94-78 87-78 67-91 61-91 45-104 35-104 21-117 7-104-6-104-20-104-31-104-45-92-52-93-65-88-76-78-82-70-89-67-104-55-104-48-117-36-117-25-117-15-117zM7894 5325l7-104 19-91 26-65 44-65-44-65-26-65-17-78-8-91 2-91 13-104 21-91 33-99 39-88 52-91 52-73 65-74 65-60 78-57 78-45 91-39 91-27 104-17 104-4 104 8 104 21 91 28 104 45 91 51 94 66 88 76 76 80 72 91 60 91 56 104 44 104 39 117 28 117 17 117 7 117-4 130-14 117-24 117-34 117-47 117-53 104-66 104-70 91-85 91-90 78-93 65-92 52-104 45-104 31-117 21-104 5-104-7-104-21-91-30-91-43-91-58-78-65-78-83-65-89-52-91-47-109-35-117-21-117z" fill="#d7d7d7"/><path d="M186 5000l5-117 15-117 26-117 38-117 43-104 56-104 59-91 72-91 74-78 84-72 91-64 91-52 91-39 104-33 104-20 104-7 104 6 104 19 104 34 91 44 91 60 78 66 78 87 62 88 55 102 46 119 30 117 15 117-2 117-17 104-28 78-44 65 44 65 28 78 17 104 2 117-15 117-30 117-46 119-55 102-62 88-78 87-78 66-91 60-91 44-104 34-104 19-104 6-104-7-104-20-104-33-91-39-91-52-91-64-84-72-74-78-72-91-59-91-56-104-43-104-38-117-26-117-15-117zM7898 4688l6-104 21-116 32-105 45-104 53-94 65-88 65-71 78-66 91-60 91-44 91-30 104-21 104-8 104 6 104 18 104 31 104 44 91 52 91 64 84 72 74 78 76 97 63 98 54 104 42 104 36 117 25 117 14 117 4 117-6 117-17 117-27 117-34 104-43 104-56 104-59 91-72 91-74 78-84 72-91 64-91 52-104 44-104 31-91 17-104 7-91-5-104-17-91-27-78-34-78-44-78-56-65-59-65-74-52-72-52-91-39-88-32-97-20-89-12-93-2-91 9-91 19-78 27-65 37-52-44-65-24-65-19-91z" fill="#dadada"/><path d="M229 5000l5-117 13-104 26-117 32-104 43-104 54-104 59-91 72-91 74-78 90-77 91-62 91-49 91-38 104-30 91-16 104-5 104 7 104 21 91 31 91 45 91 61 78 69 65 72 65 93 53 99 45 117 26 104 15 117 0 104-16 104-28 78-43 65 43 65 28 78 16 104 0 104-15 117-26 104-45 117-53 99-65 93-65 72-78 69-91 61-91 45-91 31-104 21-104 7-104-5-91-16-104-30-91-38-91-49-91-62-90-77-74-78-72-91-59-91-54-104-43-104-32-104-26-117-13-104zM7901 5299l6-91 20-91 27-65 36-52-36-52-23-52-20-78-9-91 2-91 11-91 23-96 29-86 36-81 52-90 52-73 65-72 65-58 78-56 78-43 78-32 91-26 104-16 91-3 104 9 104 22 91 30 91 41 91 52 91 67 77 69 73 78 60 78 59 91 54 104 43 104 32 104 23 104 16 117 5 117-5 117-16 117-23 104-37 117-44 104-56 104-60 91-71 88-78 79-80 67-89 61-91 49-91 38-91 27-104 19-104 5-104-7-104-21-91-31-91-45-78-51-78-66-65-70-65-88-52-90-46-107-31-104-18-104z" fill="#dedede"/><path d="M270 5000l5-117 14-104 26-117 34-104 44-104 49-91 59-91 66-82 78-81 78-66 91-62 86-47 96-39 91-27 104-17 91-5 104 8 104 21 91 32 91 46 78 52 78 68 65 72 65 92 52 97 42 107 29 117 13 104-1 104-14 91-27 78-42 65 42 65 27 78 14 91 1 104-13 104-29 117-42 107-52 97-65 92-65 72-78 68-78 52-91 46-91 32-104 21-104 8-91-5-104-17-91-27-96-39-86-47-91-62-78-66-78-81-66-82-59-91-49-91-44-104-34-104-26-117-14-104zM7905 4714l6-104 19-104 32-104 39-91 54-94 52-72 65-72 78-68 78-52 91-46 91-32 104-21 91-8 104 5 91 14 104 30 91 37 91 49 91 62 78 66 78 81 66 82 59 91 55 104 43 104 32 104 23 104 15 117 4 117-5 104-16 117-24 104-34 104-44 104-49 91-59 91-66 82-71 74-75 65-88 62-91 51-91 39-91 28-91 17-104 8-91-4-91-15-91-27-78-33-78-44-65-47-65-57-65-72-52-72-47-81-36-78-32-91-21-91-12-91-2-78 8-91 19-78 22-52 36-52-36-52-26-65-17-78z" fill="#e1e1e1"/><path d="M310 5000l5-117 14-104 24-104 33-104 45-104 49-91 60-91 63-78 68-70 78-66 78-54 91-51 91-38 91-27 91-16 104-7 104 8 91 19 91 30 91 45 78 51 78 67 65 71 56 77 51 91 43 104 32 114 15 107 1 104-13 91-26 78-42 65 42 65 26 78 13 91-1 104-15 107-32 114-43 104-51 91-56 77-65 71-78 67-78 51-91 45-91 30-91 19-104 8-104-7-91-16-91-27-91-38-91-51-78-54-78-66-68-70-63-78-60-91-49-91-45-104-33-104-24-104-14-104zM7908 4714l6-91 19-104 31-99 39-89 52-91 65-86 65-68 78-64 78-49 91-43 91-29 91-17 91-6 104 7 91 16 91 27 91 38 91 51 78 54 78 66 78 82 62 79 59 91 48 91 43 104 32 104 22 104 13 104 4 117-5 104-17 117-24 104-35 104-40 91-49 91-60 91-66 81-74 75-78 65-77 52-83 46-91 38-91 27-91 16-91 7-91-5-91-15-91-27-78-34-78-45-65-48-65-59-52-58-52-71-49-84-35-78-27-78-22-91-12-91-2-78 7-78 18-78 22-52 35-52-35-52-26-65-16-78z" fill="#e4e4e4"/><path d="M348 5000l4-104 14-104 23-104 33-104 38-91 48-91 60-91 62-78 67-69 78-67 78-54 91-50 91-37 91-26 91-16 91-5 104 8 91 19 91 31 78 38 78 51 78 66 65 70 58 80 51 91 43 104 28 104 14 104 0 104-14 91-28 78-35 52 35 52 28 78 14 91 0 104-14 104-28 104-43 104-51 91-58 80-65 70-78 66-78 51-78 38-91 31-91 19-104 8-91-5-91-16-91-26-91-37-91-50-78-54-78-67-67-69-62-78-60-91-48-91-38-91-33-104-23-104-14-104zM7911 4727l6-91 19-104 28-89 39-90 52-90 52-71 65-70 78-66 78-51 78-38 91-31 91-19 91-7 104 4 91 16 91 26 91 37 91 50 78 54 78 67 67 69 63 79 59 90 48 91 38 91 33 104 23 104 14 104 4 117-6 104-14 104-25 104-34 104-40 91-49 91-52 78-62 78-67 69-78 67-78 54-79 44-90 39-91 27-91 17-91 7-91-5-91-15-78-23-78-33-78-44-65-47-65-59-52-57-52-71-44-74-36-78-28-78-22-91-12-91-2-78 8-78 15-65 21-52 35-52-35-52-25-65-15-78z" fill="#e7e7e7"/><path d="M385 5000l5-104 14-104 23-104 30-91 38-91 48-91 51-78 64-81 65-67 78-67 78-54 91-49 79-33 90-26 91-16 91-5 91 6 91 18 91 30 78 37 78 50 78 64 65 70 52 70 52 90 40 93 30 104 17 104 1 104-13 91-28 78-34 52 34 52 28 78 13 91-1 104-17 104-30 104-40 93-52 90-52 70-65 70-78 64-78 50-78 37-91 30-91 18-91 6-91-5-91-16-90-26-79-33-91-49-78-54-78-67-65-67-64-81-51-78-48-91-38-91-30-91-23-104-14-104zM7913 4740l6-91 17-91 28-94 39-90 52-90 52-70 65-70 78-64 78-50 78-37 78-27 91-19 91-8 91 4 91 14 91 25 91 37 78 41 78 52 78 64 69 70 64 78 52 78 50 91 39 91 35 104 21 91 15 104 6 104-4 104-12 104-23 105-33 103-38 91-48 91-50 77-63 79-61 65-71 62-78 56-78 45-91 40-78 25-91 19-91 8-91-3-91-14-78-22-78-32-65-35-65-44-65-55-52-55-57-73-47-77-39-82-31-88-19-78-11-78-2-78 6-78 15-65 21-52 34-52-34-52-21-52-17-78z" fill="#eaeaea"/><path d="M421 5000l5-104 12-91 23-104 29-91 38-91 49-91 51-78 63-78 63-65 73-62 78-54 78-42 78-33 91-28 91-15 91-5 91 6 91 18 91 31 78 38 78 51 65 54 65 69 52 70 52 89 39 91 29 99 16 104 2 91-12 91-27 78-35 52 35 52 27 78 12 91-2 91-16 104-29 99-39 91-52 89-52 70-65 69-65 54-78 51-78 38-91 31-91 18-91 6-91-5-91-15-91-28-78-33-78-42-78-54-73-62-63-65-63-78-51-78-49-91-38-91-29-91-23-104-12-91zM7916 4753l5-91 17-91 26-86 39-91 52-89 52-70 65-69 65-54 78-51 78-38 78-28 91-19 78-8 91 2 91 13 91 24 91 36 78 40 78 52 72 59 66 65 64 78 53 78 51 91 39 91 30 91 22 91 16 104 6 104-4 104-13 104-19 91-28 91-37 91-47 91-50 78-60 78-61 65-74 65-72 52-84 48-78 34-78 26-91 19-91 8-78-2-91-13-78-20-78-31-65-34-65-44-65-54-104-120-49-77-38-78-28-78-21-78-12-78-4-78 6-78 14-65 20-52 35-52-35-52-20-52-14-65z" fill="#ededed"/><path d="M456 5000l5-104 12-91 24-104 30-91 39-91 43-78 52-78 62-77 65-65 65-55 78-53 78-42 82-33 87-25 78-13 91-5 91 6 78 15 91 30 78 37 78 50 65 54 65 68 52 69 52 89 39 91 27 93 15 91 3 91-11 91-27 78-34 52 34 52 27 78 11 91-3 91-15 91-27 93-39 91-52 89-52 69-65 68-65 54-78 50-78 37-91 30-78 15-91 6-91-5-78-13-87-25-82-33-78-42-78-53-65-55-65-65-62-77-52-78-43-78-39-91-30-91-24-104-12-91zM7919 4753l5-78 16-91 28-91 35-80 52-89 52-69 65-68 65-54 78-50 78-37 78-26 78-17 78-7 91 1 91 13 91 25 91 36 78 42 78 53 64 54 66 66 62 77 52 78 43 78 39 91 30 91 22 91 14 104 5 91-3 104-14 104-20 91-29 91-38 91-91 156-59 75-65 68-65 57-78 55-78 43-78 34-78 25-91 17-91 7-78-3-78-12-78-22-78-31-65-35-65-45-65-56-52-56-52-69-39-64-38-79-27-77-19-79-13-143 7-78 15-65 16-39 34-52-34-52-20-52-13-65z" fill="#f1f1f1"/><path d="M489 5000l5-104 13-91 21-91 30-91 39-91 42-78 53-78 53-65 63-65 71-60 78-52 78-41 78-31 78-22 78-14 91-5 91 7 78 15 78 25 78 36 78 49 65 53 65 68 52 68 52 89 38 88 26 91 15 91 2 91-9 78-26 78-34 52 34 52 26 78 9 78-2 91-15 91-26 91-38 88-52 89-52 68-65 68-65 53-78 49-78 36-78 25-78 15-91 7-91-5-78-14-78-22-78-31-78-41-78-52-71-60-63-65-53-65-53-78-42-78-39-91-30-91-21-91-13-91zM7921 5234l6-78 15-65 15-39 34-52-34-52-15-39-15-65-6-65 12-143 20-78 28-78 74-138 52-68 52-55 117-92 65-36 78-32 78-22 78-12 78-4 91 7 78 15 78 23 78 33 78 43 75 52 68 59 65 68 52 66 52 80 41 78 63 169 21 91 13 91 5 91-4 104-31 182-29 91-38 91-41 78-52 80-61 76-63 65-71 60-78 52-78 41-78 31-78 22-91 15-91 4-78-7-91-19-78-27-78-38-65-41-65-53-65-68-52-68-50-86-35-78-28-91-17-91z" fill="#f4f4f4"/><path d="M522 5000l16-182 44-169 38-91 41-78 51-78 52-65 62-65 66-57 67-47 76-43 78-33 78-24 78-15 91-7 91 6 78 14 78 24 78 35 78 48 65 52 65 67 52 68 48 81 35 78 29 91 16 91 3 91-9 78-24 78-34 52 34 52 24 78 9 78-3 91-16 91-29 91-35 78-48 81-52 68-65 67-65 52-78 48-78 35-78 24-78 14-91 6-91-7-78-15-78-24-78-33-76-43-67-47-66-57-62-65-52-65-51-78-41-78-38-91-44-169zM7923 4766l6-78 18-91 30-91 37-78 41-68 52-68 65-67 65-52 65-41 78-37 78-26 78-16 78-6 78 2 91 13 78 21 78 30 78 40 78 52 65 54 65 65 53 65 53 78 43 78 34 78 30 91 22 91 13 91 5 91-4 104-12 91-20 91-62 169-41 78-49 75-54 68-62 65-131 103-78 44-78 33-78 24-78 15-78 6-78-2-78-11-78-21-78-31-65-35-117-90-52-55-52-68-73-133-44-143-15-143 5-65 14-65 15-39 34-52-34-52-15-39-14-65z" fill="#f7f7f7"/><path d="M553 5000l4-91 13-91 46-169 74-156 51-78 52-65 60-62 65-55 65-46 78-43 78-32 78-23 78-13 78-5 91 5 78 15 78 25 78 36 65 40 65 51 65 66 52 67 52 89 35 80 23 78 16 91 3 91-11 78-21 65-33 52 33 52 21 65 11 78-3 91-16 91-23 78-35 80-52 89-52 67-65 66-65 51-65 40-78 36-78 25-78 15-91 5-78-5-78-13-78-23-78-32-78-43-65-46-65-55-60-62-52-65-51-78-74-156-46-169-13-91zM7926 4779l4-78 18-91 25-78 36-78 46-78 52-67 52-54 65-54 65-42 78-38 65-23 78-18 78-8 78 0 91 12 78 19 78 30 78 39 74 48 65 52 66 65 54 65 89 143 35 78 32 91 34 169 6 91-2 91-9 91-19 91-27 91-31 78-40 78-49 78-51 65-60 65-128 102-70 41-73 33-78 26-78 17-78 8-78-1-78-10-78-20-130-57-117-84-52-51-52-64-78-134-48-144-16-143 4-65 13-65 22-52 25-33 0-12-25-33-22-52-13-65z" fill="#fafafa"/><path d="M584 5000l14-169 45-169 74-156 51-78 53-65 58-60 65-54 65-45 78-42 143-49 78-14 78-5 78 4 78 14 78 24 78 35 65 39 65 50 65 66 52 66 52 88 33 78 24 78 16 91 2 78-10 78-20 65-33 52 33 52 20 65 10 78-2 78-16 91-24 78-33 78-52 88-52 66-65 66-65 50-65 39-78 35-78 24-78 14-78 4-78-5-78-14-143-49-78-42-65-45-65-54-58-60-53-65-51-78-74-156-45-169zM7928 4779l6-78 15-78 28-85 33-71 45-75 52-66 52-54 65-53 65-41 78-37 78-26 78-15 78-6 78 3 78 13 78 21 78 31 65 35 74 49 63 52 64 65 53 65 86 143 34 78 29 91 31 169 4 91-4 91-31 169-57 156-83 143-107 125-65 57-65 46-65 38-78 34-78 25-78 15-78 7-78-3-78-12-65-18-130-58-117-87-52-54-52-66-70-127-45-143-12-130 16-117 14-39 33-52-33-52-14-39-13-65z" fill="#fdfdfd"/><path d="M614 5000l14-169 21-91 26-78 33-78 43-78 96-130 58-59 65-53 130-78 143-51 78-14 78-4 78 4 78 14 78 25 78 36 65 40 65 53 52 52 52 67 44 72 36 78 25 78 17 91 3 78-9 78-20 65-32 52 32 52 20 65 9 78-3 78-17 91-25 78-36 78-44 72-52 67-52 52-65 53-65 40-78 36-78 25-78 14-78 4-78-4-78-14-143-51-130-78-65-53-58-59-96-130-43-78-33-78-26-78-21-91zM7930 4792l3-65 14-78 23-78 33-76 39-68 52-71 52-55 65-55 65-43 65-33 78-28 78-17 78-8 78 2 78 11 78 20 78 30 65 33 65 41 65 52 59 57 55 65 89 143 62 156 34 169 3 169-10 91-19 88-57 159-83 143-107 124-123 97-137 70-143 38-78 8-78-2-78-10-65-17-130-57-117-86-91-101-39-58-39-75-46-139-14-130 15-117 21-52 24-33 0-12-24-33-21-52z" fill="#ffffff"/></g></mask>
<filter id="fC1" filterUnits="userSpaceOnUse" x=".52" y="4.02" width="8.95" height="1.96"><feGaussianBlur stdDeviation=".02"/></filter>
<mask id="mC1" maskUnits="userSpaceOnUse" x=".52" y="4.02" width="8.95" height="1.96"><g filter="url(#fC1)"><g transform="scale(.001)" fill-rule="evenodd"><path d="M637 5000l4-91 11-78 17-78 25-78 33-78 42-78 43-65 53-65 53-54 65-54 65-44 65-35 65-27 78-23 78-14 78-4 78 5 78 15 78 25 65 31 65 40 65 51 52 53 52 65 45 74 35 78 25 78 16 91 2 78-10 78-17 52-22 39-9 6-1 7 1 7 9 6 22 39 17 52 10 78-2 78-16 91-25 78-35 78-45 74-52 65-52 53-65 51-65 40-65 31-78 25-78 15-78 5-78-4-78-14-78-23-65-27-65-35-65-44-65-54-53-54-53-65-43-65-42-78-33-78-25-78-17-78-11-78zM7931 4792l6-78 14-69 26-80 33-72 39-65 45-59 52-56 65-54 65-42 65-32 65-24 78-18 78-8 78 1 78 10 78 20 73 28 70 35 66 43 64 51 54 53 55 65 45 65 44 78 34 78 26 78 19 78 13 91 4 78-3 91-12 91-17 78-25 78-33 78-42 78-43 65-53 65-51 52-54 46-65 46-68 38-75 32-78 23-65 12-78 6-65-2-78-12-65-17-65-25-65-34-52-35-52-42-52-53-39-47-39-59-39-74-26-67-17-61-12-65-4-65 4-65 10-52 21-52 15-26 9-6 0-14-9-6-15-26-21-52-10-52z" fill="#090909"/><path d="M703 5000l3-78 10-78 18-78 25-78 34-78 36-65 44-65 45-55 52-53 57-48 60-41 70-37 73-29 65-18 65-11 78-5 78 6 65 12 78 25 65 30 65 40 52 41 52 51 52 64 42 67 36 78 24 78 14 78 3 78-8 65-16 52-22 39-8 6-1 7 1 7 8 6 22 39 16 52 8 65-3 78-14 78-24 78-36 78-42 67-52 64-52 51-52 41-65 40-65 30-78 25-65 12-78 6-78-5-65-11-65-18-73-29-70-37-60-41-57-48-52-53-45-55-44-65-36-65-34-78-25-78-18-78-10-78zM7936 5195l2-52 9-52 19-52 16-26 8-6 0-14-8-6-16-26-19-52-9-52-2-52 3-52 10-65 19-65 22-57 26-52 39-62 39-50 52-53 52-44 65-42 52-26 65-25 65-17 65-9 65-3 78 6 65 13 65 19 65 27 68 37 62 43 56 48 51 52 49 61 45 69 34 65 28 65 25 78 18 78 10 78 3 78-3 78-10 78-18 78-25 78-34 78-36 65-44 65-54 65-53 52-55 45-65 42-65 34-65 25-65 18-78 13-78 3-65-6-78-15-65-22-65-30-65-40-52-41-52-51-52-64-39-62-34-70-26-78-16-78z" fill="#1b1b1b"/><path d="M783 5000l3-65 10-78 18-78 21-65 27-65 35-65 44-65 43-52 51-52 52-43 52-35 65-35 65-26 65-19 65-11 65-3 78 5 65 12 65 20 65 30 65 40 52 41 52 52 39 48 39 61 34 71 22 65 16 78 3 65-6 65-15 52-20 39-8 6-1 7 1 7 8 6 20 39 15 52 6 65-3 65-16 78-22 65-34 71-39 61-39 48-52 52-52 41-65 40-65 30-65 20-65 12-78 5-65-3-65-11-65-19-65-26-65-35-52-35-52-43-51-52-43-52-44-65-35-65-27-65-21-65-18-78-10-78zM7941 4831l3-65 13-65 20-65 26-59 39-67 39-52 52-55 52-44 52-35 65-33 65-24 65-15 65-8 65-1 78 9 65 15 65 24 65 31 65 41 50 39 54 51 45 53 37 52 39 65 30 65 24 65 17 65 14 78 6 78-1 78-9 78-13 65-19 65-24 65-32 65-40 65-48 63-51 54-53 46-52 37-60 34-57 26-65 21-65 14-65 7-65-1-65-8-65-15-65-24-52-26-52-33-52-41-52-52-39-48-35-54-27-52-21-52-15-52-13-65-3-52 2-52 10-52 14-39 15-26 8-6 0-14-8-6-25-52-12-52z" fill="#2e2e2e"/><path d="M857 5000l4-78 10-65 15-65 22-65 28-65 29-52 35-52 43-52 44-45 52-43 52-35 52-29 52-22 65-20 65-12 65-4 65 3 65 11 65 19 65 29 52 31 52 39 52 50 39 47 39 60 31 64 22 65 14 65 4 65-7 65-16 52-14 26-8 6-1 7 1 7 8 6 14 26 16 52 7 65-4 65-14 65-22 65-31 64-39 60-39 47-52 50-52 39-52 31-65 29-65 19-65 11-65 3-65-4-65-12-65-20-52-22-52-29-52-35-52-43-44-45-43-52-35-52-29-52-28-65-22-65-15-65-10-65zM7945 4844l4-65 14-65 22-65 25-52 32-53 39-51 52-54 52-41 52-33 65-31 52-17 65-15 65-6 52 1 65 7 65 15 65 24 52 25 56 34 51 39 49 45 41 46 38 52 39 65 30 65 23 65 17 65 10 65 5 65-1 78-7 65-13 65-19 65-26 65-34 65-33 52-40 52-43 46-52 45-52 37-52 30-65 29-52 16-65 14-65 6-52-1-65-8-52-12-52-17-52-24-52-31-52-39-39-36-39-44-39-56-26-46-18-39-19-52-10-39-8-52-2-65 6-52 16-52 14-26 8-6 1-7-1-7-8-6-14-26-10-26-10-52z" fill="#404040"/><path d="M924 5000l3-65 9-65 16-65 22-65 23-52 29-52 35-52 44-52 40-39 48-39 50-33 52-27 52-21 65-18 65-10 52-1 52 3 65 11 65 21 52 23 52 31 52 39 39 38 39 46 39 59 26 51 22 61 14 65 5 65-5 52-15 52-14 26-7 5-1 8 1 8 7 5 14 26 15 52 5 52-5 65-14 65-22 61-26 51-39 59-39 46-39 38-52 39-52 31-52 23-65 21-65 11-52 3-52-1-65-10-65-18-52-21-52-27-50-33-48-39-40-39-44-52-35-52-29-52-23-52-22-65-16-65-9-65zM7949 4857l3-52 12-64 22-66 25-52 31-49 39-50 39-40 52-42 52-33 52-25 52-19 65-15 52-6 65 0 65 9 52 12 65 23 52 25 52 33 45 34 46 43 42 48 37 52 30 52 25 52 23 65 17 65 10 65 4 65-1 65-8 65-11 52-19 65-21 52-26 52-32 52-39 52-44 48-39 35-52 38-52 30-52 24-52 18-65 15-52 6-65 0-52-6-52-12-52-17-52-23-52-31-39-29-39-34-39-43-39-54-26-46-22-49-13-39-16-78-2-65 7-52 12-39 14-26 7-5 1-8-1-8-7-5-14-26-9-26-8-39z" fill="#525252"/><path d="M986 5000l3-65 8-52 15-65 17-52 23-52 28-52 33-49 35-42 38-39 47-39 49-32 52-27 52-21 52-14 52-9 52-3 65 3 52 9 52 15 52 21 52 29 52 38 39 36 39 45 39 58 26 51 21 61 12 52 4 52-3 52-14 52-13 26-7 5-1 8 1 8 7 5 13 26 14 52 3 52-4 52-12 52-21 61-26 51-39 58-39 45-39 36-52 38-52 29-52 21-52 15-52 9-65 3-52-3-52-9-52-14-52-21-52-27-49-32-47-39-38-39-35-42-33-49-28-52-23-52-17-52-15-65-8-52zM7953 4857l4-52 12-52 21-61 26-51 26-41 39-48 39-39 52-40 52-31 52-23 52-17 52-10 52-5 65 2 52 7 52 13 52 19 52 25 52 33 42 33 41 39 34 39 38 52 30 52 24 52 22 65 13 52 10 65 3 52-2 65-9 65-11 52-16 52-21 52-27 52-34 52-33 42-39 41-39 34-52 37-52 29-52 22-52 16-52 10-52 5-52-1-52-6-52-12-52-18-39-18-52-31-39-29-39-36-39-45-26-36-26-46-31-75-17-78-2-52 5-52 12-39 13-26 7-5 1-8-1-8-7-5-13-26-8-26-8-39z" fill="#646464"/><path d="M1056 5000l2-52 10-65 12-52 18-52 24-52 21-39 35-50 35-41 41-39 41-32 39-25 52-26 39-15 52-15 52-8 52-2 52 3 52 9 52 16 52 22 52 31 39 30 39 37 39 47 26 39 26 52 20 58 10 52 3 52-4 39-10 39-12 26-7 5-1 8 1 8 7 5 12 26 10 39 4 39-3 52-10 52-20 58-26 52-26 39-39 47-39 37-39 30-52 31-52 22-52 16-52 9-52 3-52-2-52-8-52-15-39-15-52-26-39-25-41-32-41-39-35-41-35-50-21-39-24-52-18-52-12-52-10-65zM7957 5130l2-39 8-39 16-39 7-5 1-8-1-8-7-5-12-26-10-39-4-39 1-39 16-78 29-73 26-44 26-36 39-43 39-35 39-27 39-23 52-22 39-13 39-8 52-6 52-1 52 6 52 11 52 17 51 24 40 24 39 28 43 39 36 39 30 39 24 39 27 52 21 52 14 49 11 55 6 52 0 65-4 52-9 52-14 52-19 52-25 52-32 52-30 39-36 39-43 39-39 28-52 30-45 20-46 15-52 11-52 6-52-1-52-6-52-12-52-19-52-27-39-25-39-32-39-40-26-33-29-45-23-46-16-45-13-52z" fill="#767676"/><path d="M1119 5000l3-52 7-52 26-91 22-52 22-39 26-39 32-39 38-38 33-27 45-30 42-22 49-19 52-14 52-7 39-2 52 4 52 9 39 12 52 22 52 31 39 31 39 38 26 31 26 39 26 52 16 46 10 45 4 46-3 39-9 39-12 26-6 5-1 8 1 8 6 5 12 26 9 39 3 39-4 46-10 45-16 46-26 52-26 39-26 31-39 38-39 31-52 31-52 22-39 12-52 9-52 4-39-2-52-7-52-14-49-19-42-22-45-30-33-27-38-38-32-39-26-39-22-39-22-52-26-91-7-52zM7960 4883l4-46 10-45 16-46 26-52 26-39 26-31 39-38 39-31 52-31 39-17 39-13 52-11 52-5 52 1 52 7 39 10 52 19 39 19 40 24 38 29 39 36 34 39 28 39 23 39 19 39 19 52 14 52 9 52 3 52-1 52-6 52-11 52-17 52-16 39-28 52-26 39-57 65-39 33-39 28-39 22-52 23-52 15-39 7-52 5-39-1-52-7-39-9-78-30-39-23-39-28-39-35-26-29-26-35-26-44-29-74-13-65-1-39 5-39 7-26 12-26 6-5 1-8-1-8-6-5-16-39-7-39z" fill="#898989"/><path d="M1177 5000l8-91 12-52 13-39 37-78 26-39 35-42 26-26 39-32 39-26 39-20 39-16 52-15 52-7 39-2 39 3 52 8 52 16 39 18 39 22 39 29 39 37 26 30 26 38 19 37 20 51 9 40 5 52-4 39-6 26-11 26-6 4-1 9 1 9 6 4 11 26 6 26 4 39-5 52-9 40-20 51-19 37-26 38-26 30-39 37-39 29-39 22-39 18-52 16-52 8-39 3-39-2-52-7-52-15-39-16-39-20-39-26-39-32-26-26-35-42-26-39-37-78-13-39-12-52zM7963 4896l3-39 7-39 17-50 20-41 32-49 26-30 26-26 39-31 39-24 39-19 39-14 52-13 39-5 52 0 52 6 39 9 39 13 39 17 39 22 39 28 39 35 27 29 30 39 24 39 19 39 20 52 14 52 6 39 4 91-5 52-9 43-14 48-16 39-19 39-24 39-30 39-27 29-39 35-39 28-39 22-39 17-39 13-52 11-52 5-39-1-78-14-39-12-39-18-39-22-39-29-39-37-26-30-39-62-26-64-11-53-3-39 4-39 6-26 11-26 6-4 1-9-1-9-6-4-15-39z" fill="#9b9b9b"/><path d="M1228 5000l3-52 6-39 22-78 17-39 22-39 49-65 26-27 39-32 39-26 38-19 40-15 39-11 78-9 52 3 39 7 39 11 39 15 39 21 39 27 39 36 26 30 26 37 22 43 15 39 9 39 4 39-2 39-6 26-11 26-5 4-1 9 1 9 5 4 11 26 6 26 2 39-4 39-9 39-15 39-22 43-26 37-26 30-39 36-39 27-39 21-39 15-39 11-39 7-52 3-78-9-39-11-40-15-38-19-39-26-39-32-26-27-49-65-22-39-17-39-22-78-6-39zM7966 4896l4-39 9-39 15-39 22-43 26-37 26-30 26-25 39-29 39-23 39-17 39-13 39-8 39-4 52 0 78 15 39 13 41 19 37 23 38 29 28 26 34 39 42 65 33 78 10 39 9 52 3 52-2 39-13 78-27 78-20 39-25 39-32 39-25 26-30 26-36 25-39 21-39 17-39 12-39 8-78 3-39-4-39-8-39-13-39-17-65-41-52-50-26-33-26-43-24-59-11-52-2-39 2-26 6-26 11-26 5-4 1-9-1-9-5-4-14-39z" fill="#adadad"/><path d="M1293 5000l7-78 23-78 32-65 49-65 59-52 68-39 37-14 39-11 39-5 39-2 39 3 39 7 39 12 39 17 39 22 26 20 52 51 26 37 18 32 15 39 10 39 4 39-1 26-10 39-5 13-5 3-1 10 1 10 5 3 5 13 10 39 1 26-4 39-10 39-15 39-18 32-26 37-52 51-26 20-39 22-39 17-39 12-39 7-39 3-39-2-39-5-39-11-37-14-68-39-59-52-49-65-32-65-23-78zM7969 5091l3-39 8-26 5-13 5-3 1-10-1-10-5-3-5-13-8-26-3-26 2-39 12-52 20-49 39-59 52-51 26-20 39-22 65-26 39-8 39-4 39 0 39 4 65 17 39 17 34 19 57 44 53 60 38 65 16 39 12 39 12 78-3 78-16 78-15 39-19 39-45 65-54 52-31 23-39 22-65 25-39 9-39 4-39 0-39-4-39-8-39-14-65-34-52-43-26-28-26-37-18-32-15-39-10-39z" fill="#bfbfbf"/><path d="M1351 5000l8-78 19-65 33-65 40-52 52-46 65-38 65-21 39-6 39-1 65 7 65 22 39 20 26 18 52 50 39 58 18 41 8 31 5 34-1 26-7 39-10 16-1 10 1 10 10 16 7 39 1 26-5 34-8 31-18 41-39 58-52 50-26 18-39 20-65 22-65 7-39-1-39-6-65-21-65-38-52-46-40-52-33-65-19-65zM7972 4922l1-26 8-39 9-26 19-39 20-31 26-31 52-44 26-16 39-19 65-18 39-5 39 0 65 10 65 25 61 38 54 52 37 52 30 65 12 39 7 39 3 78-10 65-22 65-37 65-44 52-30 26-35 24-65 31-65 15-65 3-65-10-65-25-52-32-52-50-39-58-18-41-12-52 1-52 6-26 10-16 1-10-1-10-4-3-9-26z" fill="#d1d1d1"/><path d="M1401 5000l6-65 19-65 26-52 38-52 52-46 52-31 65-22 65-8 65 6 65 22 52 29 26 21 26 26 39 57 13 28 10 35 5 39-1 26-5 26-9 16-1 10 1 10 9 16 5 26 1 26-5 39-10 35-13 28-39 57-26 26-26 21-52 29-65 22-65 6-65-8-65-22-52-31-52-46-38-52-26-52-19-65zM7975 5078l3-39 3-13 9-16 1-10-1-10-9-16-5-26-1-39 8-39 20-50 39-57 39-37 52-33 52-21 65-12 65 2 65 16 52 25 52 38 47 51 31 52 25 65 11 65-1 65-14 65-27 65-35 52-50 49-52 35-65 25-65 10-65-3-65-18-52-27-52-41-39-48-29-60-7-26z" fill="#e4e4e4"/><path d="M1458 5000l7-65 16-52 26-52 35-44 39-35 52-31 52-19 65-8 65 7 52 18 52 30 26 22 26 28 26 40 13 29 8 28 4 52-4 26-8 15-1 11 1 11 8 15 4 26-4 52-8 28-13 29-26 40-26 28-26 22-52 30-52 18-65 7-65-8-52-19-52-31-39-35-35-44-26-52-16-52zM7977 4935l8-52 18-44 39-55 39-35 52-30 26-10 39-10 65-4 52 7 52 19 52 31 44 40 34 46 27 58 13 52 4 65-6 52-16 52-26 52-42 52-45 36-52 28-52 15-65 6-52-7-52-18-52-30-39-35-39-55-14-31-10-39 0-52 3-13 8-15 1-11-1-11-8-15z" fill="#ffffff"/></g></g></mask>
<filter id="fC2" filterUnits="userSpaceOnUse" x="1.41" y="4.62" width="7.18" height=".76"><feGaussianBlur stdDeviation=".02"/></filter>
<mask id="mC2" maskUnits="userSpaceOnUse" x="1.41" y="4.62" width="7.18" height=".76"><g filter="url(#fC2)"><g transform="scale(.001)" fill-rule="evenodd"><path d="M1518 5000l5-52 15-52 28-52 28-34 39-34 41-23 50-17 52-6 52 5 52 16 52 31 39 37 26 39 19 51 4 26-1 26-10 39 10 39 1 26-4 26-19 51-26 39-39 37-52 31-52 16-52 5-52-6-50-17-41-23-39-34-28-34-28-52-15-52zM7980 4948l4-39 19-51 13-22 26-31 39-32 39-22 52-16 52-5 52 6 52 18 43 25 43 39 28 39 25 52 13 52 2 52-7 52-19 52-24 42-31 36-47 37-39 20-52 14-52 4-52-8-52-19-39-25-39-37-26-39-13-29-8-35-1-39 10-39-1-12-7-14z" fill="#0d0d0d"/><path d="M1576 5000l6-52 12-39 21-39 31-38 39-32 39-19 39-12 39-4 52 5 39 13 39 22 39 34 26 37 17 46 3 39-8 39 8 39-3 39-17 46-26 37-39 34-39 22-39 13-52 5-39-4-39-12-39-19-39-32-31-38-21-39-12-39zM7982 5052l2-26 6-13 1-13-8-39 1-26 6-28 13-31 26-37 26-25 39-25 52-19 52-5 39 4 39 12 39 19 38 31 27 31 20 34 18 52 5 39-3 52-9 39-18 39-27 39-38 35-39 23-39 14-52 7-39-3-52-15-39-22-39-34-26-37-14-33z" fill="#262626"/><path d="M1628 5000l4-39 12-39 21-39 21-26 31-26 33-19 39-12 39-4 39 3 39 12 39 22 26 23 26 36 13 32 5 37-6 39 6 39-5 37-13 32-26 36-26 23-39 22-39 12-39 3-39-4-39-12-33-19-31-26-21-26-21-39-12-39zM7985 4961l5-37 13-32 26-36 26-23 39-22 39-12 39-3 39 4 39 12 33 19 31 26 21 26 21 39 12 39 4 39-5 43-11 35-21 39-21 26-31 26-33 19-39 12-39 4-39-3-39-12-39-22-26-23-26-36-12-30-6-26 1-26 5-26z" fill="#404040"/><path d="M1674 5000l5-39 8-26 21-39 22-26 33-24 26-13 26-7 39-4 39 6 26 8 39 24 26 26 13 20 13 33 3 22-4 39 4 39-3 22-13 33-13 20-26 26-39 24-26 8-39 6-39-4-26-7-26-13-33-24-22-26-21-39-8-26zM7987 5039l4-39-4-26 1-26 15-42 13-20 26-26 26-17 39-15 26-5 39 1 32 7 33 15 26 18 26 28 19 30 10 26 6 26 1 39-7 39-10 26-19 30-26 28-29 20-36 15-39 6-39-2-39-11-26-14-26-22-26-34-12-29z" fill="#595959"/><path d="M1715 5000l2-26 7-26 12-26 19-26 21-20 26-15 26-10 39-6 39 5 26 9 26 15 26 25 13 18 12 31 2 26-2 26 2 26-2 26-12 31-13 18-26 25-26 15-26 9-39 5-39-6-26-10-26-15-21-20-19-26-12-26-7-26zM7989 4974l2-26 12-31 13-18 26-25 26-15 26-9 26-4 39 2 26 7 30 15 30 26 18 24 13 28 7 26 2 39-5 26-9 26-15 26-24 26-21 15-26 13-26 7-39 2-26-4-26-9-26-15-26-25-13-18-8-18-6-26 2-39z" fill="#737373"/><path d="M1750 5000l2-26 8-26 25-39 17-15 26-16 26-9 26-4 26 2 26 7 26 13 26 23 13 17 9 21 4 26-1 26 1 26-4 26-9 21-13 17-26 23-26 13-26 7-26 2-26-4-26-9-26-16-17-15-25-39-8-26zM7990 4974l4-26 9-21 13-17 26-23 26-13 26-7 26-2 26 4 39 16 26 20 14 17 15 26 8 26 2 26-2 26-15 39-18 26-17 15-26 16-26 9-26 4-26-2-26-7-26-13-26-23-13-17-12-34z" fill="#8c8c8c"/><path d="M1784 5000l6-39 14-26 11-14 13-12 26-15 26-8 26-2 39 9 26 15 13 12 13 17 10 24 1 39-1 39-10 24-13 17-13 12-26 15-39 9-26-2-26-8-26-15-13-12-11-14-14-26zM7992 5000l1-39 10-24 13-17 13-12 26-15 39-9 26 2 26 8 26 15 13 12 11 14 14 26 6 39-6 39-14 26-11 14-13 12-26 15-26 8-26 2-39-9-26-15-13-12-13-17-10-24z" fill="#a6a6a6"/><path d="M1815 5000l8-39 18-28 13-12 22-12 17-6 26-2 39 10 26 18 13 17 7 15 4 39-4 39-7 15-13 17-26 18-39 10-26-2-17-6-22-12-13-12-18-28zM7992 5000l4-39 7-15 13-17 26-18 39-10 26 2 17 6 22 12 13 12 18 28 8 39-8 39-18 28-13 12-22 12-17 6-26 2-39-10-26-18-13-17-7-15z" fill="#bfbfbf"/><path d="M1842 5000l5-26 5-13 15-20 26-18 13-4 26-3 26 6 26 16 17 23 7 39-7 39-17 23-26 16-26 6-26-3-13-4-26-18-15-20-5-13zM7992 5000l7-39 17-23 26-16 26-6 26 3 13 4 26 18 15 20 5 13 5 26-5 26-5 13-15 20-26 18-13 4-26 3-26-6-26-16-17-23z" fill="#d9d9d9"/><path d="M1870 5000l5-26 19-26 25-14 26-3 26 7 13 8 13 15 6 13 5 26-5 26-6 13-13 15-13 8-26 7-26-3-25-14-19-26zM7992 5000l5-26 6-13 13-15 13-8 26-7 26 3 25 14 19 26 5 26-5 26-19 26-25 14-26 3-26-7-13-8-13-15-6-13z" fill="#ffffff"/></g></g></mask>
</defs>
<g transform="translate(180.2 186) scale(124.12)" clip-path="url(#box)">
<rect width="10" height="10" fill="#ff0"/>
<g mask="url(#fgA)"><use href="#sA0" x="5" y="5"/></g>
<g mask="url(#mA1)"><use href="#sA1" x="5" y="5"/></g>
<g mask="url(#mA2)"><use href="#sA2" x="5" y="5"/></g>
</g>
<g transform="translate(1682 186) scale(124.12)" clip-path="url(#box)">
<rect width="10" height="10" fill="#ff0"/>
<g mask="url(#fgA)"><use href="#cA0" x="5" y="5"/></g>
<g mask="url(#mA1)"><use href="#cA1" x="5" y="5"/></g>
<g mask="url(#mA2)"><use href="#cA2" x="5" y="5"/></g>
</g>
<g transform="translate(180.2 1552) scale(124.12)" clip-path="url(#box)">
<rect width="10" height="10" fill="#ff0"/>
<g mask="url(#fgC)"><use href="#sC0" x="5" y="5"/></g>
<g mask="url(#mC1)"><use href="#sC1" x="5" y="5"/></g>
<g mask="url(#mC2)"><use href="#sC2" x="5" y="5"/></g>
<g filter="url(#bm)"><path d="M2.05 4.87V5.13L2.66 5.03V4.97z" fill="url(#wg1)"/><path d="M7.95 4.87V5.13L7.34 5.03V4.97z" fill="url(#wg2)"/></g>
<rect x="2" y="4.957" width=".075" height=".088" rx=".01" fill="#0c0cf8"/><rect x="7.905" y="4.957" width=".078" height=".088" rx=".01" fill="#0c0cf8"/>
</g>
<g transform="translate(1682 1552) scale(124.12)" clip-path="url(#box)">
<rect width="10" height="10" fill="#ff0"/>
<g mask="url(#fgC)"><use href="#cC0" x="5" y="5"/></g>
<g mask="url(#mC1)"><use href="#cC1" x="5" y="5"/></g>
<g mask="url(#mC2)"><use href="#cC2" x="5" y="5"/></g>
<rect x="1.965" y="4.97" width=".03" height=".06" fill="#c01040"/><rect x="8.005" y="4.97" width=".03" height=".06" fill="#c01040"/>
</g>
<g font-family="'Liberation Serif','Times New Roman',serif" font-size="62.5" fill="#000">
<rect x="178.7" y="184.6" width="1244.1" height="1243.8" fill="none" stroke="#000" stroke-width="5"/>
<rect x="177.55" y="167" width="5.3" height="17" />
<rect x="161" y="183.4" width="17" height="5.3" />
<text x="176.2" y="145.4" text-anchor="middle">0</text>
<text x="134.7" y="207.3" text-anchor="end">0</text>
<rect x="425.79" y="167" width="5.3" height="17" />
<rect x="161" y="431.64" width="17" height="5.3" />
<text x="431.94" y="145.4" text-anchor="middle">2</text>
<text x="134.7" y="455.54" text-anchor="end">2</text>
<rect x="674.03" y="167" width="5.3" height="17" />
<rect x="161" y="679.88" width="17" height="5.3" />
<text x="672.68" y="145.4" text-anchor="middle">4</text>
<text x="134.7" y="703.78" text-anchor="end">4</text>
<rect x="922.27" y="167" width="5.3" height="17" />
<rect x="161" y="928.12" width="17" height="5.3" />
<text x="920.92" y="145.4" text-anchor="middle">6</text>
<text x="134.7" y="952.02" text-anchor="end">6</text>
<rect x="1170.51" y="167" width="5.3" height="17" />
<rect x="161" y="1176.36" width="17" height="5.3" />
<text x="1169.16" y="145.4" text-anchor="middle">8</text>
<text x="134.7" y="1200.26" text-anchor="end">8</text>
<rect x="1418.75" y="167" width="5.3" height="17" />
<rect x="161" y="1424.6" width="17" height="5.3" />
<text x="1413.9" y="145.4" text-anchor="middle">10</text>
<text x="134.7" y="1448.5" text-anchor="end">10</text>
<text x="222" y="267.4">(a)</text>
<text transform="translate(51.9 808) rotate(-90)" text-anchor="middle">Depth/km</text>
<text x="786.2" y="52.3" text-anchor="middle">Distance/km</text>
<rect x="1680.5" y="184.6" width="1244.1" height="1243.8" fill="none" stroke="#000" stroke-width="5"/>
<rect x="1679.35" y="167" width="5.3" height="17" />
<rect x="1662.8" y="183.4" width="17" height="5.3" />
<text x="1677.5" y="145.4" text-anchor="middle">0</text>
<text x="1636.5" y="207.3" text-anchor="end">0</text>
<rect x="1927.59" y="167" width="5.3" height="17" />
<rect x="1662.8" y="431.64" width="17" height="5.3" />
<text x="1933.24" y="145.4" text-anchor="middle">2</text>
<text x="1636.5" y="455.54" text-anchor="end">2</text>
<rect x="2175.83" y="167" width="5.3" height="17" />
<rect x="1662.8" y="679.88" width="17" height="5.3" />
<text x="2173.98" y="145.4" text-anchor="middle">4</text>
<text x="1636.5" y="703.78" text-anchor="end">4</text>
<rect x="2424.07" y="167" width="5.3" height="17" />
<rect x="1662.8" y="928.12" width="17" height="5.3" />
<text x="2422.22" y="145.4" text-anchor="middle">6</text>
<text x="1636.5" y="952.02" text-anchor="end">6</text>
<rect x="2672.31" y="167" width="5.3" height="17" />
<rect x="1662.8" y="1176.36" width="17" height="5.3" />
<text x="2670.46" y="145.4" text-anchor="middle">8</text>
<text x="1636.5" y="1200.26" text-anchor="end">8</text>
<rect x="2920.55" y="167" width="5.3" height="17" />
<rect x="1662.8" y="1424.6" width="17" height="5.3" />
<text x="2914.2" y="145.4" text-anchor="middle">10</text>
<text x="1636.5" y="1448.5" text-anchor="end">10</text>
<text x="1723.8" y="267.4">(b)</text>
<text transform="translate(1553.7 808) rotate(-90)" text-anchor="middle">Depth/km</text>
<text x="2288" y="52.3" text-anchor="middle">Distance/km</text>
<rect x="178.7" y="1550.6" width="1244.1" height="1243.8" fill="none" stroke="#000" stroke-width="5"/>
<rect x="177.55" y="1533" width="5.3" height="17" />
<rect x="161" y="1549.4" width="17" height="5.3" />
<text x="176.2" y="1511.4" text-anchor="middle">0</text>
<text x="134.7" y="1573.3" text-anchor="end">0</text>
<rect x="425.79" y="1533" width="5.3" height="17" />
<rect x="161" y="1797.64" width="17" height="5.3" />
<text x="431.94" y="1511.4" text-anchor="middle">2</text>
<text x="134.7" y="1821.54" text-anchor="end">2</text>
<rect x="674.03" y="1533" width="5.3" height="17" />
<rect x="161" y="2045.88" width="17" height="5.3" />
<text x="672.68" y="1511.4" text-anchor="middle">4</text>
<text x="134.7" y="2069.78" text-anchor="end">4</text>
<rect x="922.27" y="1533" width="5.3" height="17" />
<rect x="161" y="2294.12" width="17" height="5.3" />
<text x="920.92" y="1511.4" text-anchor="middle">6</text>
<text x="134.7" y="2318.02" text-anchor="end">6</text>
<rect x="1170.51" y="1533" width="5.3" height="17" />
<rect x="161" y="2542.36" width="17" height="5.3" />
<text x="1169.16" y="1511.4" text-anchor="middle">8</text>
<text x="134.7" y="2566.26" text-anchor="end">8</text>
<rect x="1418.75" y="1533" width="5.3" height="17" />
<rect x="161" y="2790.6" width="17" height="5.3" />
<text x="1413.9" y="1511.4" text-anchor="middle">10</text>
<text x="134.7" y="2814.5" text-anchor="end">10</text>
<text x="222" y="1633.4">(c)</text>
<text transform="translate(51.9 2174) rotate(-90)" text-anchor="middle">Depth/km</text>
<rect x="1680.5" y="1550.6" width="1244.1" height="1243.8" fill="none" stroke="#000" stroke-width="5"/>
<rect x="1679.35" y="1533" width="5.3" height="17" />
<rect x="1662.8" y="1549.4" width="17" height="5.3" />
<text x="1677.5" y="1511.4" text-anchor="middle">0</text>
<text x="1636.5" y="1573.3" text-anchor="end">0</text>
<rect x="1927.59" y="1533" width="5.3" height="17" />
<rect x="1662.8" y="1797.64" width="17" height="5.3" />
<text x="1933.24" y="1511.4" text-anchor="middle">2</text>
<text x="1636.5" y="1821.54" text-anchor="end">2</text>
<rect x="2175.83" y="1533" width="5.3" height="17" />
<rect x="1662.8" y="2045.88" width="17" height="5.3" />
<text x="2173.98" y="1511.4" text-anchor="middle">4</text>
<text x="1636.5" y="2069.78" text-anchor="end">4</text>
<rect x="2424.07" y="1533" width="5.3" height="17" />
<rect x="1662.8" y="2294.12" width="17" height="5.3" />
<text x="2422.22" y="1511.4" text-anchor="middle">6</text>
<text x="1636.5" y="2318.02" text-anchor="end">6</text>
<rect x="2672.31" y="1533" width="5.3" height="17" />
<rect x="1662.8" y="2542.36" width="17" height="5.3" />
<text x="2670.46" y="1511.4" text-anchor="middle">8</text>
<text x="1636.5" y="2566.26" text-anchor="end">8</text>
<rect x="2920.55" y="1533" width="5.3" height="17" />
<rect x="1662.8" y="2790.6" width="17" height="5.3" />
<text x="2914.2" y="1511.4" text-anchor="middle">10</text>
<text x="1636.5" y="2814.5" text-anchor="end">10</text>
<text x="1723.8" y="1633.4">(d)</text>
<text transform="translate(1553.7 2174) rotate(-90)" text-anchor="middle">Depth/km</text>
</g>
</svg>
</body></html>
